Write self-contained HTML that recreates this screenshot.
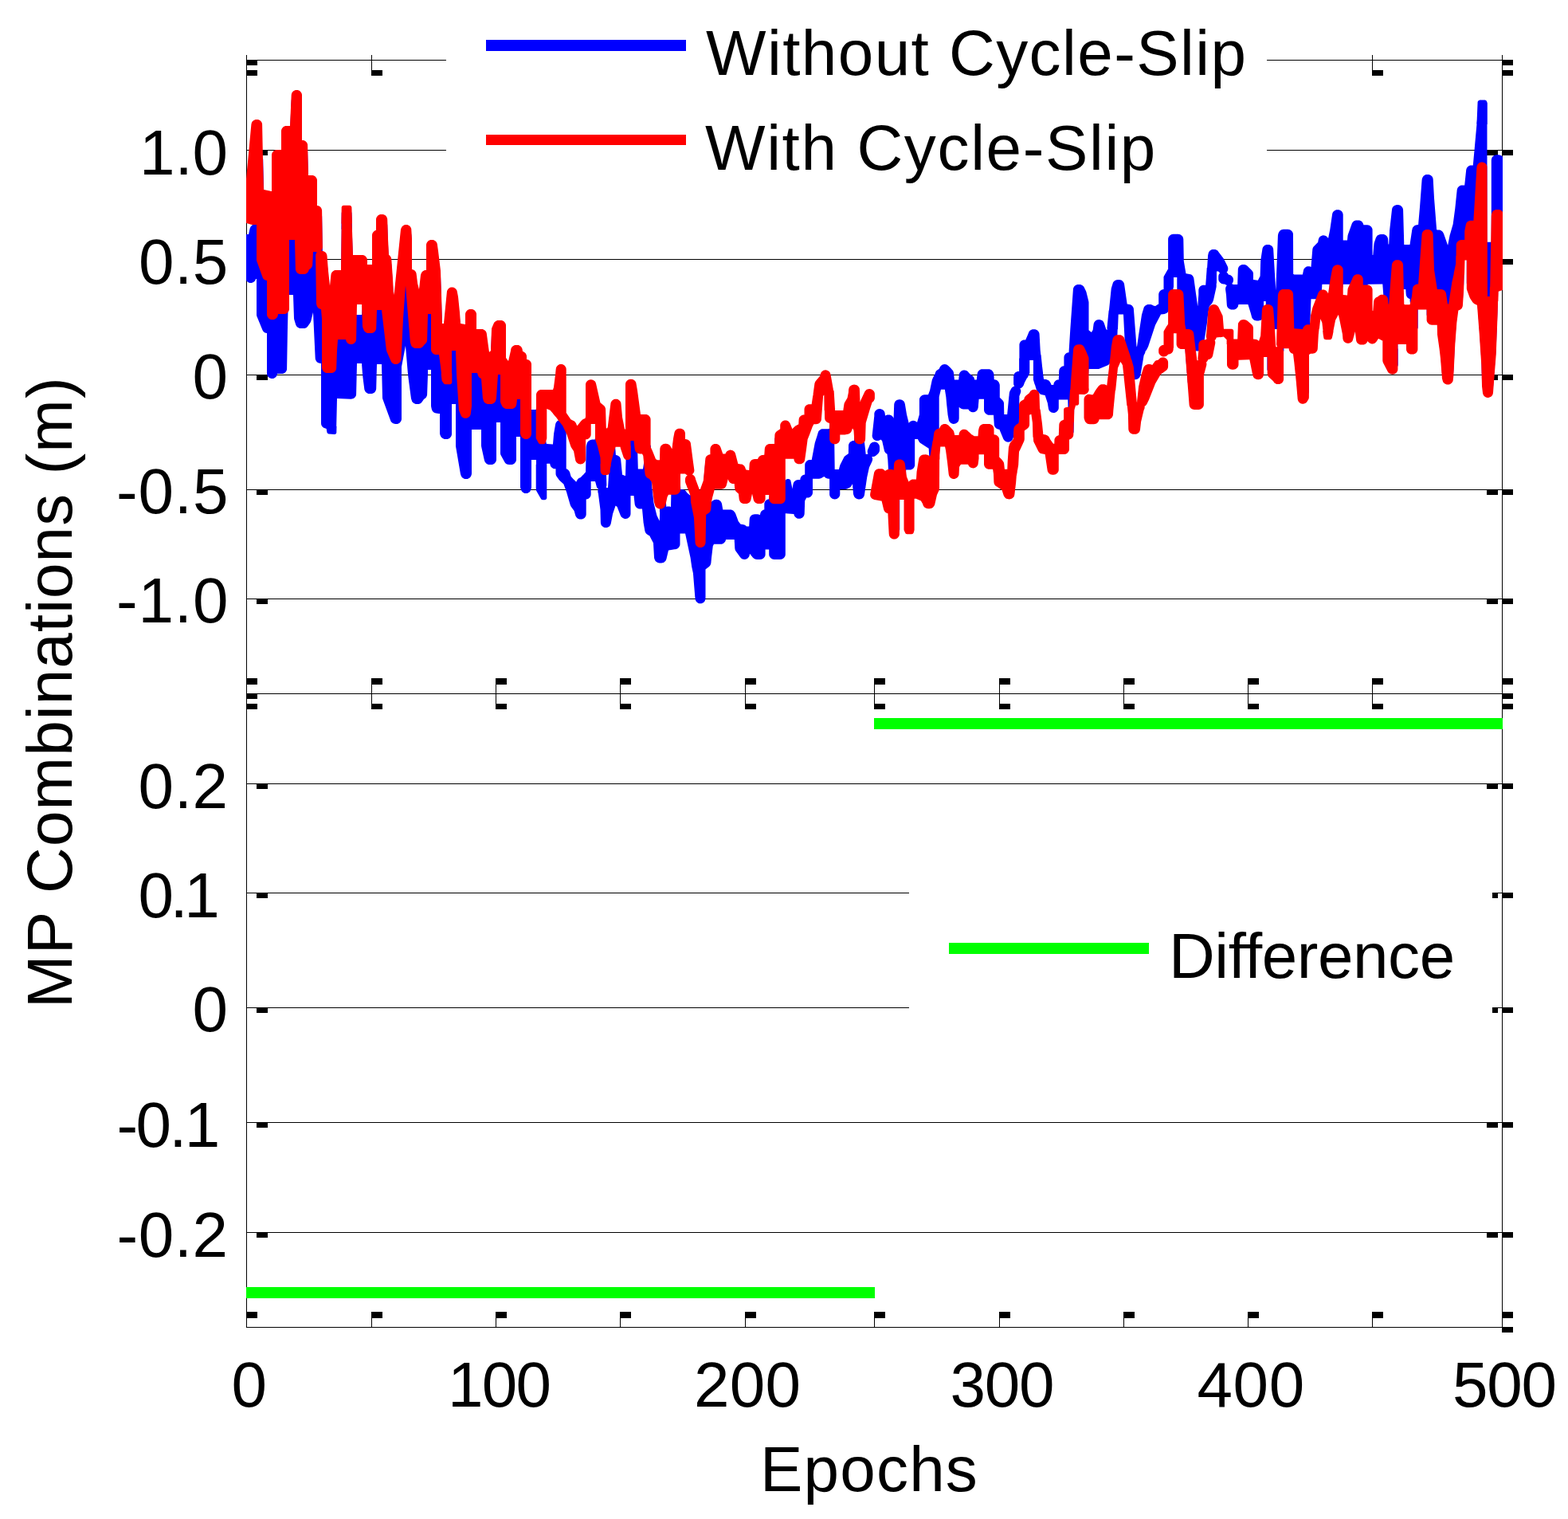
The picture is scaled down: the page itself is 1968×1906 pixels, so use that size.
<!DOCTYPE html>
<html><head><meta charset="utf-8"><title>MP Combinations</title>
<style>html,body{margin:0;padding:0;background:#fff;overflow:hidden}svg{display:block}</style>
</head><body>
<svg xmlns="http://www.w3.org/2000/svg" width="1968" height="1906" viewBox="0 0 1968 1906" shape-rendering="crispEdges">
<rect x="0" y="0" width="1968" height="1906" fill="#fff"/>
<g><rect x="309" y="188" width="1577" height="1" fill="#000"/>
<rect x="309" y="325" width="1577" height="1" fill="#000"/>
<rect x="309" y="470" width="1577" height="1" fill="#000"/>
<rect x="309" y="614" width="1577" height="1" fill="#000"/>
<rect x="309" y="751" width="1577" height="1" fill="#000"/>
<rect x="309" y="983" width="1577" height="1" fill="#000"/>
<rect x="309" y="1120" width="1577" height="1" fill="#000"/>
<rect x="309" y="1264" width="1577" height="1" fill="#000"/>
<rect x="309" y="1408" width="1577" height="1" fill="#000"/>
<rect x="309" y="1546" width="1577" height="1" fill="#000"/>
<rect x="309" y="75" width="1577" height="1" fill="#000"/>
<rect x="309" y="870" width="1577" height="1" fill="#000"/>
<rect x="309" y="1665" width="1577" height="1" fill="#000"/>
<rect x="309" y="69" width="1" height="1597" fill="#000"/>
<rect x="1885" y="69" width="1" height="1597" fill="#000"/>
<rect x="309" y="69" width="1" height="26" fill="#000"/>
<rect x="309" y="88" width="14" height="7" fill="#000"/>
<rect x="309" y="851" width="1" height="39" fill="#000"/>
<rect x="309" y="851" width="14" height="8" fill="#000"/>
<rect x="309" y="883" width="14" height="7" fill="#000"/>
<rect x="309" y="1646" width="1" height="19" fill="#000"/>
<rect x="309" y="1646" width="14" height="8" fill="#000"/>
<rect x="466" y="69" width="1" height="26" fill="#000"/>
<rect x="466" y="88" width="14" height="7" fill="#000"/>
<rect x="466" y="851" width="1" height="39" fill="#000"/>
<rect x="466" y="851" width="14" height="8" fill="#000"/>
<rect x="466" y="883" width="14" height="7" fill="#000"/>
<rect x="466" y="1646" width="1" height="19" fill="#000"/>
<rect x="466" y="1646" width="14" height="8" fill="#000"/>
<rect x="622" y="69" width="1" height="26" fill="#000"/>
<rect x="622" y="88" width="14" height="7" fill="#000"/>
<rect x="622" y="851" width="1" height="39" fill="#000"/>
<rect x="622" y="851" width="14" height="8" fill="#000"/>
<rect x="622" y="883" width="14" height="7" fill="#000"/>
<rect x="622" y="1646" width="1" height="19" fill="#000"/>
<rect x="622" y="1646" width="14" height="8" fill="#000"/>
<rect x="778" y="69" width="1" height="26" fill="#000"/>
<rect x="778" y="88" width="14" height="7" fill="#000"/>
<rect x="778" y="851" width="1" height="39" fill="#000"/>
<rect x="778" y="851" width="14" height="8" fill="#000"/>
<rect x="778" y="883" width="14" height="7" fill="#000"/>
<rect x="778" y="1646" width="1" height="19" fill="#000"/>
<rect x="778" y="1646" width="14" height="8" fill="#000"/>
<rect x="935" y="69" width="1" height="26" fill="#000"/>
<rect x="935" y="88" width="14" height="7" fill="#000"/>
<rect x="935" y="851" width="1" height="39" fill="#000"/>
<rect x="935" y="851" width="14" height="8" fill="#000"/>
<rect x="935" y="883" width="14" height="7" fill="#000"/>
<rect x="935" y="1646" width="1" height="19" fill="#000"/>
<rect x="935" y="1646" width="14" height="8" fill="#000"/>
<rect x="1097" y="69" width="1" height="26" fill="#000"/>
<rect x="1097" y="88" width="14" height="7" fill="#000"/>
<rect x="1097" y="851" width="1" height="39" fill="#000"/>
<rect x="1097" y="851" width="14" height="8" fill="#000"/>
<rect x="1097" y="883" width="14" height="7" fill="#000"/>
<rect x="1097" y="1646" width="1" height="19" fill="#000"/>
<rect x="1097" y="1646" width="14" height="8" fill="#000"/>
<rect x="1254" y="69" width="1" height="26" fill="#000"/>
<rect x="1254" y="88" width="14" height="7" fill="#000"/>
<rect x="1254" y="851" width="1" height="39" fill="#000"/>
<rect x="1254" y="851" width="14" height="8" fill="#000"/>
<rect x="1254" y="883" width="14" height="7" fill="#000"/>
<rect x="1254" y="1646" width="1" height="19" fill="#000"/>
<rect x="1254" y="1646" width="14" height="8" fill="#000"/>
<rect x="1410" y="69" width="1" height="26" fill="#000"/>
<rect x="1410" y="88" width="14" height="7" fill="#000"/>
<rect x="1410" y="851" width="1" height="39" fill="#000"/>
<rect x="1410" y="851" width="14" height="8" fill="#000"/>
<rect x="1410" y="883" width="14" height="7" fill="#000"/>
<rect x="1410" y="1646" width="1" height="19" fill="#000"/>
<rect x="1410" y="1646" width="14" height="8" fill="#000"/>
<rect x="1566" y="69" width="1" height="26" fill="#000"/>
<rect x="1566" y="88" width="14" height="7" fill="#000"/>
<rect x="1566" y="851" width="1" height="39" fill="#000"/>
<rect x="1566" y="851" width="14" height="8" fill="#000"/>
<rect x="1566" y="883" width="14" height="7" fill="#000"/>
<rect x="1566" y="1646" width="1" height="19" fill="#000"/>
<rect x="1566" y="1646" width="14" height="8" fill="#000"/>
<rect x="1722" y="69" width="1" height="26" fill="#000"/>
<rect x="1722" y="88" width="14" height="7" fill="#000"/>
<rect x="1722" y="851" width="1" height="39" fill="#000"/>
<rect x="1722" y="851" width="14" height="8" fill="#000"/>
<rect x="1722" y="883" width="14" height="7" fill="#000"/>
<rect x="1722" y="1646" width="1" height="19" fill="#000"/>
<rect x="1722" y="1646" width="14" height="8" fill="#000"/>
<rect x="1885" y="69" width="1" height="26" fill="#000"/>
<rect x="1885" y="88" width="14" height="7" fill="#000"/>
<rect x="1885" y="851" width="1" height="39" fill="#000"/>
<rect x="1885" y="851" width="14" height="8" fill="#000"/>
<rect x="1885" y="883" width="14" height="7" fill="#000"/>
<rect x="1885" y="1646" width="1" height="19" fill="#000"/>
<rect x="1885" y="1646" width="14" height="8" fill="#000"/>
<rect x="309" y="75" width="14" height="7" fill="#000"/>
<rect x="309" y="870" width="14" height="7" fill="#000"/>
<rect x="1885" y="75" width="14" height="7" fill="#000"/>
<rect x="1885" y="870" width="14" height="7" fill="#000"/>
<rect x="1885" y="1665" width="14" height="7" fill="#000"/>
<rect x="322" y="188" width="14" height="7" fill="#000"/>
<rect x="1866" y="188" width="14" height="7" fill="#000"/>
<rect x="1885" y="188" width="14" height="7" fill="#000"/>
<rect x="1858" y="188" width="27" height="1" fill="#000"/>
<rect x="322" y="325" width="14" height="7" fill="#000"/>
<rect x="1866" y="325" width="14" height="7" fill="#000"/>
<rect x="1885" y="325" width="14" height="7" fill="#000"/>
<rect x="1858" y="325" width="27" height="1" fill="#000"/>
<rect x="322" y="470" width="14" height="7" fill="#000"/>
<rect x="1866" y="470" width="14" height="7" fill="#000"/>
<rect x="1885" y="470" width="14" height="7" fill="#000"/>
<rect x="1858" y="470" width="27" height="1" fill="#000"/>
<rect x="322" y="614" width="14" height="7" fill="#000"/>
<rect x="1866" y="614" width="14" height="7" fill="#000"/>
<rect x="1885" y="614" width="14" height="7" fill="#000"/>
<rect x="1858" y="614" width="27" height="1" fill="#000"/>
<rect x="322" y="751" width="14" height="7" fill="#000"/>
<rect x="1866" y="751" width="14" height="7" fill="#000"/>
<rect x="1885" y="751" width="14" height="7" fill="#000"/>
<rect x="1858" y="751" width="27" height="1" fill="#000"/>
<rect x="322" y="983" width="14" height="7" fill="#000"/>
<rect x="1866" y="983" width="14" height="7" fill="#000"/>
<rect x="1885" y="983" width="14" height="7" fill="#000"/>
<rect x="1858" y="983" width="27" height="1" fill="#000"/>
<rect x="322" y="1120" width="14" height="7" fill="#000"/>
<rect x="1866" y="1120" width="14" height="7" fill="#000"/>
<rect x="1885" y="1120" width="14" height="7" fill="#000"/>
<rect x="1858" y="1120" width="27" height="1" fill="#000"/>
<rect x="322" y="1264" width="14" height="7" fill="#000"/>
<rect x="1866" y="1264" width="14" height="7" fill="#000"/>
<rect x="1885" y="1264" width="14" height="7" fill="#000"/>
<rect x="1858" y="1264" width="27" height="1" fill="#000"/>
<rect x="322" y="1408" width="14" height="7" fill="#000"/>
<rect x="1866" y="1408" width="14" height="7" fill="#000"/>
<rect x="1885" y="1408" width="14" height="7" fill="#000"/>
<rect x="1858" y="1408" width="27" height="1" fill="#000"/>
<rect x="322" y="1546" width="14" height="7" fill="#000"/>
<rect x="1866" y="1546" width="14" height="7" fill="#000"/>
<rect x="1885" y="1546" width="14" height="7" fill="#000"/>
<rect x="1858" y="1546" width="27" height="1" fill="#000"/></g>
<g shape-rendering="auto">
<clipPath id="cp"><rect x="309" y="75" width="1577" height="796"/></clipPath>
<g clip-path="url(#cp)">
<path d="M330.1,199.6 329.9,199.1 329.9,199.1 329.9,199.0 329.7,198.6 329.6,198.6 329.6,198.5 329.3,198.2 329.3,198.1 329.2,198.1 328.8,197.8 328.8,197.8 328.8,197.8 328.3,197.6 328.3,197.6 328.3,197.6 327.8,197.4 327.8,197.4 327.7,197.4 327.2,197.4 327.2,197.4 327.2,197.4 326.7,197.5 326.6,197.5 326.6,197.5 326.1,197.7 326.1,197.7 326.1,197.7 325.7,198.0 325.6,198.0 325.6,198.0 325.2,198.4 325.2,198.4 325.2,198.4 324.9,198.8 324.9,198.9 324.9,198.9 324.7,199.4 324.7,199.4 324.7,199.4 324.6,199.9 324.6,199.9 319.9,249.1 319.9,249.2 319.9,249.2 319.9,249.2 319.9,249.2 319.9,249.3 319.9,249.3 319.9,249.3 319.9,249.4 319.9,249.4 320.0,249.4 320.0,249.4 320.0,249.4 320.0,249.4 320.1,249.4 320.1,249.5 320.1,249.5 317.0,281.7 317.0,282.0 316.8,282.2 315.3,283.7 314.6,284.6 314.0,285.7 313.6,286.8 312.1,293.7 312.0,294.0 311.7,294.0 306.5,294.0 305.2,294.1 304.0,294.5 302.9,295.1 301.9,295.9 301.1,296.9 300.5,298.0 300.1,299.2 300.0,300.5 300.0,345.5 300.1,346.8 300.5,348.0 301.1,349.1 301.9,350.1 302.9,350.9 304.0,351.5 305.2,351.9 306.5,352.0 308.7,352.0 309.0,352.0 309.2,352.2 310.1,353.1 311.1,353.9 312.1,354.5 313.3,354.9 314.5,355.0 315.8,354.9 317.0,354.6 318.1,354.1 319.1,353.3 319.9,352.4 320.5,351.4 321.0,350.2 321.0,350.0 321.3,350.0 321.7,350.0 322.0,350.0 322.0,350.3 322.0,394.7 322.1,396.0 322.5,397.2 329.4,414.0 329.9,415.0 330.6,416.0 331.5,416.7 332.5,417.4 333.6,417.8 334.7,418.0 335.0,418.0 335.0,418.3 335.0,468.5 335.1,469.8 335.5,471.1 336.1,472.2 337.0,473.2 338.0,474.0 339.1,474.6 340.4,474.9 341.7,475.0 343.0,474.9 344.2,474.4 345.3,473.8 346.3,472.9 347.1,471.9 347.6,470.7 347.9,469.5 348.0,469.3 348.0,469.0 348.3,469.0 353.6,469.0 354.9,468.9 356.1,468.5 357.2,467.9 358.2,467.1 359.0,466.2 359.6,465.1 360.0,463.9 360.1,462.6 361.0,410.0 362.0,370.3 362.0,370.0 362.3,370.0 367.7,370.0 368.0,370.0 368.0,370.3 369.0,399.2 369.2,400.8 371.2,407.4 371.7,408.5 372.3,409.5 373.1,410.3 374.0,411.0 375.1,411.6 376.3,411.9 377.4,412.0 381.2,412.0 382.5,411.9 383.7,411.5 384.8,410.9 385.8,410.1 386.6,409.1 389.4,404.9 389.9,404.0 390.3,402.9 392.9,392.3 393.0,392.1 393.0,392.3 395.7,449.6 395.9,450.9 396.4,452.1 397.0,453.2 397.9,454.2 398.9,454.9 400.1,455.5 401.3,455.8 402.7,456.0 403.0,456.0 403.0,456.3 403.0,531.1 403.1,532.3 403.4,533.4 404.0,534.5 404.7,535.5 405.6,536.3 406.6,536.9 407.7,537.3 409.7,537.9 409.7,537.9 409.7,537.9 409.7,538.0 409.7,538.0 409.7,538.0 409.7,538.0 409.7,538.1 409.7,538.1 409.7,538.1 409.7,538.2 409.7,538.2 410.4,542.2 410.4,542.2 410.5,542.6 410.5,542.7 410.5,542.7 410.7,543.1 410.7,543.1 410.8,543.2 411.0,543.5 411.1,543.6 411.1,543.6 411.4,543.9 411.4,543.9 411.5,543.9 411.9,544.2 411.9,544.2 411.9,544.2 412.3,544.4 412.4,544.4 412.4,544.4 412.8,544.5 412.9,544.5 419.3,545.1 419.3,545.1 419.8,545.1 419.8,545.1 419.9,545.1 420.4,545.0 420.4,545.0 420.4,545.0 420.9,544.8 420.9,544.8 421.0,544.8 421.4,544.5 421.4,544.4 421.4,544.4 421.8,544.0 421.8,544.0 421.8,544.0 422.1,543.5 422.1,543.5 422.1,543.5 422.3,543.0 422.3,543.0 422.3,542.9 422.3,542.4 422.3,542.4 422.5,535.1 422.5,535.1 422.5,535.0 422.5,535.0 422.5,535.0 422.5,534.9 422.5,534.9 422.4,534.9 422.4,534.9 422.4,534.8 422.4,534.8 422.3,534.8 422.3,534.8 422.3,534.8 422.3,534.8 422.2,534.8 422.2,534.8 423.0,500.3 423.0,500.0 423.3,500.0 440.4,500.7 441.7,500.6 442.9,500.3 444.1,499.8 445.1,499.0 445.9,498.0 446.6,496.9 447.0,495.7 447.1,494.4 448.0,456.3 448.0,456.0 448.3,456.0 453.7,456.0 454.0,456.0 454.0,456.3 455.0,469.8 455.0,470.2 457.3,488.3 457.6,489.6 458.2,490.8 459.0,491.9 460.0,492.8 461.1,493.5 462.4,493.9 463.7,494.0 465.7,494.0 466.9,493.9 468.1,493.5 469.2,492.9 470.2,492.2 471.0,491.2 471.6,490.1 472.0,488.9 472.2,487.7 473.0,457.3 473.0,457.0 473.3,457.0 478.7,457.0 479.0,457.0 479.0,457.3 480.0,498.9 480.1,500.0 480.4,501.0 490.1,527.6 490.6,528.7 491.4,529.7 492.3,530.5 493.3,531.2 493.6,531.3 495.0,531.8 496.5,532.0 497.5,532.0 498.8,531.9 500.0,531.5 501.1,530.9 502.1,530.1 502.9,529.1 503.5,528.0 503.9,526.8 504.0,525.5 504.0,460.3 504.1,459.7 508.9,434.3 509.0,434.1 509.0,434.3 512.0,469.8 512.0,470.2 515.9,499.5 516.1,500.5 516.7,502.3 517.1,503.4 517.7,504.4 518.5,505.3 519.5,506.0 520.6,506.6 521.7,506.9 522.9,507.0 524.5,507.0 525.8,506.9 527.0,506.5 528.1,505.9 529.1,505.1 529.9,504.1 531.8,501.2 532.0,501.0 532.2,500.8 533.5,499.9 534.4,499.1 535.1,498.2 535.6,497.1 536.0,496.0 536.1,494.9 537.0,470.1 537.0,469.9 537.0,464.3 537.0,464.0 537.3,464.0 540.7,464.0 541.0,464.0 541.0,464.3 541.0,509.2 541.2,510.8 541.9,513.7 542.4,514.9 543.0,516.0 543.9,517.0 545.0,517.7 546.2,518.3 547.4,518.6 550.6,518.9 551.4,519.0 551.7,519.0 552.0,519.0 552.0,519.3 552.0,543.5 552.2,545.0 552.7,546.4 553.2,547.4 553.8,548.4 554.6,549.3 555.6,550.0 556.7,550.6 557.8,550.9 559.0,551.0 560.5,551.0 561.8,550.9 563.0,550.5 564.1,549.9 565.1,549.1 565.9,548.1 566.5,547.0 566.9,545.8 567.0,544.5 567.0,507.3 567.0,507.0 567.3,507.0 571.7,507.0 572.0,507.0 572.0,507.3 572.0,559.4 572.1,560.5 577.9,594.5 578.2,595.5 578.5,596.6 579.1,597.8 579.9,598.9 580.9,599.8 582.1,600.4 583.3,600.9 584.7,601.0 585.3,601.0 586.7,600.9 587.9,600.4 589.1,599.8 590.1,598.9 590.9,597.8 591.5,596.6 591.7,596.0 591.9,595.0 592.0,593.9 592.0,539.3 592.0,539.0 592.3,539.0 603.7,539.0 604.0,539.0 604.0,539.3 604.0,559.3 604.2,560.7 607.9,577.5 608.2,578.5 608.4,578.9 609.0,580.1 609.8,581.1 610.8,581.9 611.9,582.5 613.1,582.9 614.4,583.0 616.5,583.0 617.8,582.9 619.0,582.5 620.1,581.9 621.1,581.1 621.9,580.1 622.5,579.0 622.9,577.8 623.0,576.5 623.0,530.3 623.0,530.0 623.3,530.0 627.7,530.0 628.0,530.0 628.0,530.3 628.0,568.4 628.1,569.4 628.3,570.5 628.8,571.4 633.2,579.6 634.0,580.7 635.0,581.7 636.2,582.4 637.5,582.8 638.9,583.0 641.5,583.0 642.8,582.9 644.0,582.5 645.1,581.9 646.1,581.1 646.9,580.1 647.5,579.0 647.9,577.8 648.0,576.5 648.0,548.3 648.0,548.0 648.3,548.0 652.7,548.0 653.0,548.0 653.0,548.3 653.0,610.8 653.1,612.0 653.4,613.1 654.1,614.9 654.6,616.0 655.4,617.0 656.3,617.8 657.4,618.5 658.6,618.9 659.9,619.1 661.2,619.0 662.4,618.7 663.5,618.1 664.5,617.4 665.4,616.4 666.0,615.3 666.5,614.1 666.8,612.8 667.0,611.2 667.0,577.3 667.0,577.0 667.3,577.0 672.7,577.0 673.0,577.0 673.0,577.3 673.0,582.7 673.0,582.7 673.0,582.7 672.9,582.7 672.9,582.7 672.9,582.7 672.9,582.7 672.8,582.8 672.8,582.8 672.8,582.8 672.8,582.8 672.8,582.8 672.7,582.9 672.7,582.9 672.7,582.9 672.7,582.9 672.7,583.0 672.7,583.0 672.7,614.3 672.7,614.4 672.7,614.8 672.7,614.8 672.7,614.8 672.9,615.3 672.9,615.3 672.9,615.3 673.1,615.7 673.1,615.7 679.0,625.9 679.0,625.9 679.3,626.4 679.4,626.4 679.4,626.4 679.8,626.8 679.8,626.8 679.8,626.8 680.3,627.0 680.3,627.1 680.3,627.1 680.8,627.2 680.9,627.2 680.9,627.2 681.4,627.3 681.4,627.3 683.5,627.3 683.5,627.3 684.0,627.3 684.0,627.2 684.1,627.2 684.5,627.1 684.6,627.1 684.6,627.1 685.0,626.8 685.1,626.8 685.1,626.8 685.5,626.5 685.5,626.5 685.5,626.5 685.8,626.1 685.8,626.1 685.8,626.0 686.1,625.6 686.1,625.6 686.1,625.5 686.2,625.1 686.2,625.0 686.3,625.0 686.3,624.5 686.3,624.5 686.3,583.3 686.3,583.3 686.3,583.3 686.3,583.2 686.3,583.2 686.3,583.2 686.2,583.2 686.2,583.1 686.2,583.1 686.2,583.1 686.2,583.1 686.1,583.1 686.1,583.0 686.1,583.0 686.1,583.0 686.0,583.0 686.0,583.0 686.1,582.7 686.4,582.1 686.5,581.8 686.8,581.8 690.0,581.8 690.3,581.8 690.3,582.4 690.6,583.6 691.0,584.7 691.6,585.7 692.4,586.6 693.4,587.3 694.5,587.9 695.6,588.2 696.8,588.3 697.2,588.3 697.5,588.3 697.5,588.6 697.5,594.2 697.6,595.5 698.0,596.7 698.7,597.9 701.6,602.1 702.7,603.3 707.2,607.2 707.4,607.4 707.5,607.7 711.4,618.5 711.4,618.7 715.7,633.4 716.1,634.5 716.6,635.4 720.4,640.8 720.6,641.0 720.7,641.3 722.2,646.7 723.0,648.4 723.1,648.5 723.9,649.6 724.9,650.4 726.0,651.1 727.3,651.5 728.6,651.6 729.2,651.6 730.5,651.5 731.7,651.1 732.8,650.5 733.8,649.7 734.6,648.7 735.2,647.6 735.6,646.4 735.7,645.1 735.7,626.8 735.7,626.5 735.8,626.5 737.0,626.3 738.1,625.9 739.1,625.2 740.0,624.4 740.7,623.5 741.3,622.4 741.6,621.2 741.7,620.0 741.7,604.4 741.7,604.1 742.0,604.1 746.7,604.1 747.0,604.1 747.1,604.4 747.6,605.9 747.6,606.1 748.6,610.0 749.0,611.2 749.6,612.3 750.5,613.2 751.0,613.7 750.7,614.4 750.4,615.6 750.3,616.8 750.5,618.0 751.0,619.8 751.0,620.2 753.5,639.8 753.5,640.2 753.9,655.8 754.1,657.1 754.4,658.3 755.1,659.4 755.9,660.3 756.9,661.1 758.0,661.7 759.2,662.0 760.5,662.1 761.8,662.0 763.0,661.6 764.1,661.0 765.1,660.2 765.8,659.2 766.4,658.0 766.8,656.8 769.0,645.2 769.1,644.8 772.5,634.8 772.6,634.5 772.8,634.7 774.4,635.8 774.6,636.0 774.7,636.3 778.4,645.7 778.6,646.3 779.2,647.4 779.8,648.4 780.7,649.3 781.7,650.1 782.8,650.6 784.0,650.9 785.3,651.0 786.5,650.8 787.7,650.4 788.7,649.8 789.7,649.0 790.5,648.0 791.0,646.9 791.4,645.7 791.5,644.5 791.5,622.3 791.5,622.0 791.8,622.0 795.2,622.0 795.5,622.0 795.5,622.3 796.7,632.7 797.0,634.1 797.6,635.3 798.4,636.4 799.4,637.3 800.6,637.9 801.9,638.4 803.2,638.5 805.7,638.5 806.0,638.5 806.0,638.8 807.5,654.7 807.5,655.3 809.4,666.3 809.8,667.4 810.3,668.5 811.0,669.5 811.9,670.3 812.9,671.0 814.7,671.9 815.0,672.0 815.2,672.3 819.8,681.0 820.0,681.3 820.0,681.7 821.0,699.2 821.2,700.8 821.6,701.8 822.1,703.1 822.9,704.2 823.9,705.1 825.1,705.8 826.4,706.3 827.8,706.4 830.1,706.4 831.3,706.3 832.5,705.9 833.6,705.4 834.5,704.6 835.4,703.7 836.0,702.6 836.4,701.4 838.9,690.9 839.0,690.6 839.3,690.5 846.7,689.2 847.6,689.2 848.7,689.0 849.9,688.5 850.9,687.9 851.8,687.1 852.5,686.1 853.1,685.1 853.4,683.9 853.5,682.7 853.5,669.8 853.5,669.5 853.8,669.5 859.7,669.5 860.0,669.5 860.1,669.8 866.6,699.9 866.6,700.1 868.0,709.8 868.0,710.2 870.0,719.8 870.0,720.2 872.5,751.3 872.7,752.5 873.2,753.6 873.8,754.7 874.6,755.6 875.6,756.3 876.6,756.9 877.8,757.2 879.0,757.3 879.0,757.3 880.3,757.2 881.5,756.8 882.6,756.2 883.6,755.4 884.4,754.4 885.0,753.3 885.4,752.1 885.5,750.8 885.5,714.8 885.5,714.5 885.7,714.3 890.0,710.9 890.9,710.0 891.6,708.9 892.1,707.7 892.4,706.5 893.0,700.0 893.0,700.0 894.7,685.8 894.7,685.5 894.8,685.3 895.9,683.1 896.0,682.8 896.3,682.8 904.6,682.8 905.9,682.7 907.2,682.2 908.4,681.5 909.4,680.6 910.2,679.5 910.8,678.3 911.0,676.9 911.0,676.9 911.3,676.9 921.4,676.9 921.7,676.9 921.7,677.2 922.3,688.1 922.5,689.3 922.9,690.5 923.5,691.6 929.1,699.2 929.9,700.1 930.8,700.9 931.9,701.4 933.1,701.8 934.3,701.9 934.3,701.9 935.7,701.8 936.9,701.4 938.1,700.7 939.1,699.8 939.9,698.8 940.5,697.6 940.8,696.3 941.0,695.0 941.0,694.8 941.2,694.9 944.8,699.5 945.7,700.3 946.6,701.0 947.6,701.5 948.8,701.8 949.9,701.9 954.1,701.9 955.4,701.8 956.6,701.4 957.7,700.8 958.7,700.0 959.5,699.0 960.1,697.9 960.5,696.7 960.6,695.4 960.6,689.7 960.6,689.4 960.9,689.4 964.9,689.4 965.2,689.4 965.2,689.7 965.2,695.4 965.3,696.7 965.7,697.9 966.3,699.0 967.1,700.0 968.1,700.8 969.2,701.4 970.4,701.8 971.7,701.9 979.3,701.9 980.6,701.8 981.8,701.4 982.9,700.8 983.9,700.0 984.7,699.0 985.3,697.9 985.7,696.7 985.8,695.4 985.8,644.5 985.8,644.2 986.1,644.2 996.1,644.9 996.4,644.9 996.6,646.1 997.0,647.2 997.7,648.2 998.5,649.1 999.4,649.8 1000.5,650.4 1001.7,650.7 1002.8,650.8 1003.2,650.8 1004.4,650.7 1005.6,650.3 1006.7,649.7 1007.7,649.0 1008.5,648.0 1009.1,646.9 1009.5,645.7 1009.7,644.5 1010.2,628.8 1010.2,628.4 1010.4,628.1 1012.1,624.8 1012.2,624.5 1012.5,624.5 1013.5,624.5 1014.8,624.4 1016.0,624.0 1017.1,623.4 1018.1,622.6 1018.9,621.6 1019.5,620.5 1019.9,619.3 1020.0,618.0 1020.0,601.1 1020.0,600.8 1020.0,600.7 1020.3,600.7 1027.7,600.7 1029.3,600.5 1030.7,600.0 1034.3,598.1 1034.6,598.0 1035.0,598.5 1036.0,599.4 1037.2,600.1 1038.5,600.6 1039.9,600.7 1040.8,600.7 1041.1,600.7 1041.1,601.0 1041.1,619.9 1041.2,621.2 1041.6,622.4 1042.2,623.5 1043.0,624.5 1044.0,625.3 1045.1,625.9 1046.3,626.3 1047.6,626.4 1047.8,626.4 1049.1,626.3 1050.3,625.9 1051.4,625.3 1052.4,624.5 1053.2,623.5 1053.8,622.4 1054.2,621.2 1054.3,619.9 1054.3,614.2 1054.3,613.9 1054.6,613.9 1060.7,613.9 1062.2,613.7 1063.6,613.2 1065.8,612.1 1066.9,611.5 1067.8,610.7 1068.5,609.7 1069.8,607.6 1070.0,607.4 1070.0,607.6 1070.9,619.3 1071.2,620.7 1071.6,621.8 1072.1,623.1 1072.9,624.2 1073.9,625.1 1075.1,625.8 1076.4,626.3 1077.8,626.4 1078.6,626.4 1079.9,626.3 1081.2,625.9 1082.3,625.2 1083.3,624.4 1084.1,623.3 1084.7,622.1 1085.0,620.8 1088.2,599.1 1088.2,598.9 1090.9,586.7 1091.2,586.1 1094.5,578.9 1094.9,577.8 1095.1,576.6 1095.1,575.3 1094.8,574.2 1094.3,573.0 1094.3,573.0 1094.9,573.1 1096.2,573.0 1097.4,572.7 1098.5,572.2 1099.5,571.5 1101.8,569.4 1102.7,568.4 1103.4,567.2 1103.9,565.9 1104.0,564.6 1104.0,561.0 1103.9,559.7 1103.5,558.5 1102.9,557.4 1102.1,556.4 1101.1,555.6 1099.9,555.0 1098.7,554.6 1097.4,554.5 1096.1,554.7 1094.9,555.1 1093.8,555.7 1092.8,556.5 1092.0,557.5 1091.4,558.7 1090.7,560.5 1090.7,560.7 1089.2,564.1 1088.8,565.3 1088.7,566.5 1088.8,567.8 1089.1,569.0 1089.5,569.8 1089.4,569.7 1088.2,569.7 1086.9,569.9 1086.7,570.0 1086.7,569.7 1084.9,554.3 1085.0,554.3 1085.0,554.3 1085.0,554.3 1085.1,554.3 1085.1,554.3 1085.1,554.3 1085.1,554.2 1085.2,554.2 1085.2,554.2 1085.2,554.2 1085.2,554.1 1085.2,554.1 1085.2,554.1 1085.2,554.1 1085.2,554.0 1085.2,554.0 1080.7,513.2 1080.7,513.2 1080.5,512.6 1080.5,512.6 1080.5,512.6 1080.3,512.1 1080.3,512.1 1080.3,512.1 1080.0,511.6 1080.0,511.6 1079.9,511.6 1079.9,511.5 1079.8,511.4 1079.7,511.4 1079.4,511.1 1079.4,511.1 1079.3,511.0 1078.9,510.8 1078.9,510.8 1078.9,510.8 1078.4,510.6 1078.4,510.6 1078.4,510.6 1077.9,510.5 1077.9,510.5 1077.8,510.5 1077.3,510.5 1077.3,510.5 1077.3,510.5 1076.8,510.7 1076.8,510.7 1076.8,510.7 1076.3,510.9 1076.3,510.9 1076.3,510.9 1075.9,511.2 1075.8,511.2 1075.8,511.2 1075.5,511.6 1075.5,511.6 1075.5,511.6 1075.2,512.0 1075.2,512.1 1075.2,512.1 1075.0,512.5 1075.0,512.6 1075.0,512.6 1074.9,513.1 1074.9,513.1 1071.9,552.8 1071.9,552.9 1071.9,552.9 1071.9,552.9 1071.9,553.0 1071.7,552.9 1070.4,553.0 1069.1,553.4 1068.0,553.9 1067.0,554.8 1066.1,555.7 1065.5,556.9 1065.1,558.1 1065.0,559.4 1064.9,568.8 1064.9,569.1 1064.7,569.3 1060.9,572.1 1059.7,573.1 1058.9,574.4 1054.6,583.0 1054.1,584.2 1053.0,588.6 1052.9,588.9 1052.6,588.9 1048.0,589.0 1047.7,589.0 1047.7,588.7 1047.1,544.9 1047.1,544.9 1047.1,544.9 1047.2,544.9 1047.2,544.9 1047.2,544.9 1047.2,544.9 1047.3,544.8 1047.3,544.8 1047.3,544.8 1047.3,544.8 1047.3,544.7 1047.3,544.7 1047.4,544.7 1047.4,544.7 1047.4,544.6 1047.4,544.6 1047.1,524.6 1047.1,524.6 1047.0,524.1 1047.0,524.1 1047.0,524.1 1046.9,523.6 1046.9,523.6 1046.8,523.5 1046.6,523.1 1046.6,523.1 1046.6,523.1 1046.3,522.7 1046.3,522.7 1046.2,522.7 1045.9,522.4 1045.8,522.3 1045.8,522.3 1045.4,522.1 1045.4,522.1 1045.3,522.1 1044.9,521.9 1044.9,521.9 1044.8,521.9 1044.4,521.9 1044.3,521.9 1044.3,521.9 1043.8,521.9 1043.8,521.9 1043.8,521.9 1043.3,522.0 1043.3,522.0 1043.2,522.1 1042.8,522.3 1042.8,522.3 1042.8,522.3 1042.4,522.6 1042.4,522.6 1042.3,522.6 1042.0,523.0 1042.0,523.0 1042.0,523.0 1041.7,523.5 1041.7,523.5 1041.7,523.5 1041.6,524.0 1041.6,524.0 1041.6,524.0 1041.5,524.5 1041.5,524.5 1040.8,537.9 1040.6,537.9 1040.5,537.9 1040.5,537.9 1040.5,537.9 1040.4,537.9 1040.4,537.9 1040.4,538.0 1040.4,538.0 1040.4,538.0 1040.3,538.0 1040.3,538.0 1040.3,538.1 1040.3,538.1 1040.3,538.1 1040.3,538.1 1040.3,538.2 1040.3,538.2 1032.9,538.2 1031.7,538.3 1030.6,538.6 1029.5,539.2 1028.5,539.9 1027.7,540.8 1027.1,541.8 1026.7,543.0 1026.0,545.4 1026.0,545.4 1022.8,555.6 1022.6,556.4 1018.8,576.7 1018.7,577.0 1018.4,577.0 1016.7,577.0 1015.4,577.1 1014.2,577.5 1013.1,578.1 1012.1,578.9 1011.3,579.9 1010.7,581.0 1010.3,582.2 1010.2,583.5 1010.2,595.1 1010.2,595.4 1010.2,595.5 1010.2,595.5 1008.8,595.7 1007.6,596.3 1006.5,597.1 1005.6,598.1 1004.9,599.3 1004.4,600.6 1004.4,601.5 1004.3,601.5 1004.3,602.1 1004.0,602.1 1001.9,602.1 1000.6,602.2 999.4,602.6 998.2,603.2 997.2,604.1 996.4,605.1 995.8,606.3 995.5,607.5 994.5,613.1 992.4,603.3 992.4,603.3 992.3,602.8 992.3,602.8 992.2,602.8 992.0,602.3 992.0,602.3 992.0,602.3 991.7,601.9 991.6,601.9 991.6,601.9 991.2,601.6 991.2,601.6 991.2,601.5 990.8,601.3 990.7,601.3 990.7,601.3 990.3,601.2 990.2,601.2 990.2,601.1 989.7,601.1 989.7,601.1 988.4,601.1 988.4,601.1 987.9,601.1 987.9,601.2 987.9,601.2 987.4,601.3 987.4,601.3 987.4,601.3 986.9,601.5 986.9,601.6 986.9,601.6 986.5,601.9 986.5,601.9 986.5,601.9 986.2,602.3 986.1,602.3 986.1,602.3 985.9,602.8 985.9,602.8 985.9,602.8 985.7,603.3 985.7,603.3 985.7,603.3 985.6,603.8 985.6,603.8 985.6,606.5 983.7,576.3 983.7,576.3 983.7,576.3 983.7,576.3 983.8,576.3 983.8,576.3 983.8,576.2 983.9,576.2 983.9,576.2 983.9,576.2 983.9,576.2 983.9,576.1 983.9,576.1 984.0,576.1 984.0,576.1 984.0,576.0 984.0,576.0 984.0,576.0 982.2,547.9 982.2,547.9 982.1,547.4 982.1,547.4 982.1,547.3 982.0,546.9 981.9,546.9 981.9,546.8 981.7,546.4 981.7,546.4 981.7,546.4 981.3,546.0 981.3,546.0 981.3,546.0 980.9,545.7 980.9,545.7 980.9,545.7 980.4,545.5 980.4,545.5 980.4,545.4 979.9,545.3 979.9,545.3 979.9,545.3 979.4,545.3 979.3,545.3 979.3,545.3 978.8,545.3 978.8,545.3 978.8,545.4 978.3,545.5 978.3,545.5 978.3,545.5 977.9,545.8 977.8,545.8 973.4,548.8 973.3,548.9 973.0,549.2 973.0,549.2 972.9,549.2 972.7,549.6 972.6,549.6 972.6,549.6 972.4,550.0 972.4,550.0 972.4,550.1 972.2,550.5 972.2,550.5 972.2,550.6 972.2,551.0 972.2,551.0 971.7,563.9 971.7,564.0 970.4,575.7 970.4,575.7 970.4,575.7 970.4,575.7 970.4,575.8 970.4,575.8 970.5,575.8 970.5,575.8 970.5,575.9 970.5,575.9 970.5,575.9 970.6,575.9 970.6,575.9 970.6,576.0 970.6,576.0 970.7,576.0 970.7,576.0 970.7,576.0 965.2,625.9 965.2,626.2 965.1,626.2 963.8,626.5 962.6,627.0 961.5,627.8 960.5,628.8 959.9,630.0 959.4,631.3 959.3,632.6 959.3,639.1 959.3,639.4 958.7,639.6 958.7,639.6 957.5,640.0 956.5,640.7 955.6,641.6 954.8,642.7 954.4,643.8 954.1,645.1 954.0,645.7 954.0,646.0 953.7,645.9 953.0,645.7 952.0,645.4 950.9,645.3 947.2,645.3 946.0,645.4 944.8,645.8 943.7,646.3 942.7,647.1 941.9,648.0 941.3,649.1 940.9,650.2 940.7,651.4 940.2,660.1 940.2,660.4 939.9,660.4 937.2,660.4 936.9,660.4 936.7,660.2 936.6,660.1 935.5,659.2 934.2,658.6 932.8,658.2 929.9,657.8 929.6,657.8 929.4,657.6 927.2,654.8 927.0,654.6 926.9,654.4 923.3,644.8 922.5,643.3 921.7,642.2 920.9,641.2 920.0,640.5 918.8,639.9 917.6,639.5 916.4,639.4 907.6,639.4 907.3,639.4 907.2,639.1 906.0,632.1 905.6,630.9 905.0,629.8 904.2,628.7 903.2,627.9 902.1,627.3 900.9,626.9 899.6,626.8 898.6,626.8 897.3,626.9 896.1,627.3 895.0,627.9 894.0,628.6 893.2,629.6 893.0,629.9 893.0,629.7 892.7,619.8 892.7,619.8 892.8,619.8 892.8,619.8 892.8,619.7 892.9,619.7 892.9,619.7 892.9,619.7 892.9,619.7 892.9,619.7 893.0,619.6 893.0,619.6 893.0,619.6 893.0,619.6 893.0,619.5 893.0,619.5 893.0,619.5 893.0,619.5 892.0,579.6 892.0,579.6 892.0,579.1 892.0,579.1 891.9,579.1 891.8,578.6 891.8,578.6 891.8,578.6 891.5,578.1 891.5,578.1 891.5,578.1 891.2,577.7 891.2,577.7 891.2,577.7 890.8,577.4 890.8,577.4 890.7,577.3 890.3,577.1 890.3,577.1 890.2,577.1 889.8,577.0 889.8,577.0 889.7,576.9 889.3,576.9 889.2,576.9 888.0,576.9 888.0,576.9 887.5,576.9 887.5,577.0 887.4,577.0 887.0,577.1 886.9,577.1 886.9,577.1 886.5,577.4 886.4,577.4 886.4,577.4 886.0,577.7 886.0,577.7 886.0,577.7 885.7,578.1 885.7,578.1 885.7,578.2 885.4,578.6 885.4,578.6 885.4,578.7 885.3,579.1 885.3,579.2 885.2,579.2 885.2,579.7 885.2,579.7 885.2,580.4 885.2,580.5 882.6,609.3 882.6,609.6 879.8,617.4 879.8,617.4 879.8,617.4 879.8,617.5 879.8,617.5 879.8,617.5 879.8,617.5 879.8,617.6 879.8,617.6 879.8,617.6 879.9,617.6 879.9,617.7 879.9,617.7 879.9,617.7 879.9,617.7 880.0,617.7 880.0,617.8 880.0,617.8 878.5,622.2 878.3,621.7 878.3,621.7 873.3,608.1 873.3,607.9 873.2,607.7 873.2,607.6 873.1,607.2 873.1,607.1 873.1,607.1 872.9,606.7 872.9,606.6 872.9,606.6 872.6,606.2 872.6,606.2 872.5,606.2 872.2,605.8 872.2,605.8 872.1,605.8 871.7,605.6 871.7,605.5 871.7,605.5 871.2,605.4 871.2,605.3 871.2,605.3 870.7,605.3 870.7,605.3 870.6,605.3 870.2,605.3 870.1,605.3 870.1,605.3 869.6,605.4 869.6,605.4 869.6,605.4 869.1,605.6 869.1,605.6 869.1,605.6 868.7,605.9 868.7,605.9 868.6,605.9 868.3,606.3 868.3,606.3 868.3,606.3 868.0,606.7 868.0,606.7 868.0,606.8 867.8,607.2 867.8,607.2 867.8,607.3 867.7,607.7 867.7,607.8 866.3,621.8 862.2,618.2 862.0,618.0 861.9,617.7 861.8,617.6 861.2,616.6 860.4,615.8 859.4,615.1 858.4,614.5 857.2,614.2 856.0,614.1 854.3,614.1 854.3,614.1 854.3,614.1 854.3,614.0 854.3,614.0 854.3,614.0 854.3,613.8 850.9,554.3 850.9,554.3 850.8,553.8 850.8,553.8 850.8,553.7 850.6,553.3 850.6,553.3 850.6,553.2 850.3,552.8 850.3,552.8 850.3,552.8 850.0,552.4 850.0,552.4 849.9,552.4 849.5,552.1 849.5,552.1 849.5,552.1 849.1,551.8 849.0,551.8 849.0,551.8 848.5,551.7 848.5,551.7 848.5,551.7 848.0,551.7 848.0,551.7 848.0,551.7 847.5,551.7 847.5,551.7 847.4,551.7 847.0,551.9 846.9,551.9 846.9,551.9 846.5,552.1 846.5,552.2 846.4,552.2 846.1,552.5 846.1,552.5 846.0,552.5 845.7,552.9 845.7,552.9 845.7,552.9 845.5,553.4 845.5,553.4 845.5,553.4 845.3,553.9 845.3,553.9 844.7,556.8 844.7,556.9 844.7,557.1 844.7,557.1 843.2,569.9 843.2,569.9 843.2,570.1 843.2,570.1 842.1,618.0 842.1,618.0 842.1,618.0 842.1,618.0 842.1,618.1 842.1,618.1 842.2,618.1 842.2,618.1 842.2,618.2 842.2,618.2 842.2,618.2 842.3,618.2 842.3,618.2 842.3,618.2 842.3,618.3 842.4,618.3 842.4,618.3 842.4,618.3 842.0,635.7 842.0,636.0 841.7,635.9 840.7,635.6 839.6,635.5 838.4,635.5 837.3,635.6 836.3,635.9 836.3,635.9 836.3,635.9 836.3,635.8 834.6,611.4 834.6,611.3 834.5,610.8 834.5,610.8 834.5,610.8 834.3,610.3 834.3,610.3 834.3,610.3 834.0,609.8 834.0,609.8 834.0,609.8 833.6,609.4 833.6,609.4 833.6,609.4 833.1,609.1 833.1,609.1 833.1,609.1 832.6,608.9 832.6,608.9 832.6,608.9 832.1,608.8 832.0,608.8 832.0,608.8 831.5,608.8 831.5,608.8 831.4,608.8 830.9,608.9 830.9,608.9 830.9,608.9 830.4,609.1 830.4,609.1 830.4,609.2 830.0,609.4 829.9,609.5 829.9,609.5 829.6,609.9 829.6,609.9 829.5,609.9 829.3,610.3 829.3,610.4 829.3,610.4 829.1,610.9 829.1,610.9 829.1,610.9 829.0,611.4 829.0,611.5 827.9,642.1 827.9,642.1 827.9,642.2 827.9,642.2 827.9,642.2 827.9,642.2 828.0,642.3 828.0,642.3 828.0,642.3 828.0,642.3 828.0,642.4 828.1,642.4 828.1,642.4 828.1,642.4 828.1,642.4 828.2,642.4 828.2,642.4 827.8,653.4 827.8,653.6 827.7,653.4 824.6,647.3 824.4,646.7 820.6,631.5 820.5,631.1 818.0,609.1 818.0,608.9 817.5,593.9 817.5,593.9 817.5,593.9 817.5,593.9 817.6,593.9 817.6,593.9 817.6,593.9 817.7,593.9 817.7,593.9 817.7,593.8 817.7,593.8 817.7,593.8 817.7,593.8 817.8,593.7 817.8,593.7 817.8,593.7 817.8,593.7 817.8,593.6 816.9,568.0 816.9,568.0 816.9,560.3 816.9,560.2 816.8,559.7 816.8,559.7 816.8,559.7 816.7,559.2 816.7,559.2 816.7,559.1 816.4,558.7 816.4,558.7 816.4,558.7 816.1,558.3 816.1,558.2 816.0,558.2 815.6,557.9 815.6,557.9 815.6,557.9 815.2,557.7 815.1,557.6 815.1,557.6 814.6,557.5 814.6,557.5 814.6,557.5 814.1,557.5 814.0,557.5 814.0,557.5 813.5,557.5 813.5,557.5 813.4,557.5 813.0,557.7 812.9,557.7 812.9,557.7 812.5,558.0 812.5,558.0 812.4,558.0 812.1,558.3 812.0,558.3 812.0,558.4 811.7,558.8 811.7,558.8 811.7,558.8 811.5,559.3 811.5,559.3 811.5,559.3 811.3,559.8 811.3,559.8 807.0,588.3 807.0,588.4 807.0,588.4 807.0,588.4 807.0,588.5 807.0,588.5 807.0,588.5 801.1,588.5 800.8,588.5 800.8,588.2 799.5,540.4 799.5,540.4 799.6,540.4 799.6,540.4 799.6,540.4 799.6,540.3 799.7,540.3 799.7,540.3 799.7,540.3 799.7,540.3 799.7,540.2 799.8,540.2 799.8,540.2 799.8,540.2 799.8,540.1 799.8,540.1 799.8,540.1 798.3,485.9 798.3,485.9 798.3,485.5 798.3,485.4 798.3,485.4 798.1,485.0 798.1,485.0 798.1,484.9 797.9,484.5 797.9,484.5 797.9,484.5 797.6,484.1 797.6,484.1 797.0,483.4 796.9,483.4 796.6,483.0 796.5,483.0 796.5,483.0 796.1,482.8 796.0,482.7 796.0,482.7 795.5,482.6 795.5,482.6 795.4,482.6 794.9,482.5 794.9,482.5 790.4,482.5 790.4,482.5 789.9,482.5 789.9,482.6 789.9,482.6 789.4,482.7 789.4,482.7 789.4,482.7 788.9,482.9 788.9,483.0 788.9,483.0 788.5,483.3 788.5,483.3 788.5,483.3 788.2,483.7 788.1,483.7 788.1,483.7 787.9,484.2 787.9,484.2 787.9,484.2 787.7,484.7 787.7,484.7 787.7,484.7 787.6,485.2 787.6,485.2 786.2,540.1 786.2,540.1 786.2,540.1 786.2,540.2 786.2,540.2 786.2,540.2 786.2,540.3 786.3,540.3 786.3,540.3 786.3,540.3 786.3,540.3 786.3,540.4 786.4,540.4 786.4,540.4 786.4,540.4 786.5,540.4 786.5,540.4 785.0,596.7 785.0,597.0 784.7,596.9 781.3,595.8 781.0,595.7 781.0,595.4 779.2,576.9 778.9,575.6 778.4,574.4 777.7,573.3 776.7,572.4 775.6,571.7 774.4,571.2 773.1,571.0 772.9,571.0 772.9,571.0 772.9,571.0 772.9,570.9 772.9,570.8 770.9,544.0 770.9,544.0 770.8,543.5 770.8,543.4 770.8,543.4 770.6,542.9 770.6,542.9 770.6,542.9 770.3,542.5 770.3,542.4 770.3,542.4 769.9,542.1 769.9,542.0 769.9,542.0 769.5,541.7 769.5,541.7 769.4,541.7 769.0,541.5 768.9,541.5 768.9,541.5 768.4,541.4 768.4,541.4 768.3,541.4 767.8,541.4 767.8,541.4 767.8,541.4 767.3,541.5 767.3,541.6 767.2,541.6 766.8,541.8 766.7,541.8 766.7,541.8 766.3,542.1 766.3,542.1 766.3,542.1 765.9,542.5 765.9,542.5 765.9,542.6 765.6,543.0 765.6,543.0 765.6,543.1 765.4,543.5 765.4,543.6 765.4,543.6 765.4,544.1 765.3,544.1 764.3,577.1 764.3,577.1 764.3,577.1 764.3,577.2 764.3,577.2 764.3,577.2 764.3,577.2 764.4,577.3 764.4,577.3 764.4,577.3 764.4,577.3 764.5,577.3 764.5,577.4 764.5,577.4 764.5,577.4 764.6,577.4 764.6,577.4 764.6,577.4 764.0,596.0 764.0,596.0 763.0,611.7 763.0,612.0 762.7,612.0 761.8,612.0 761.5,612.0 761.2,611.7 760.9,611.4 760.7,611.3 761.0,610.8 761.3,609.5 761.4,608.3 761.0,595.8 761.0,595.4 757.5,556.2 757.5,556.2 757.5,556.2 757.5,556.2 757.5,556.2 757.6,556.2 757.6,556.2 757.6,556.2 757.6,556.2 757.7,556.1 757.7,556.1 757.7,556.1 757.7,556.1 757.7,556.0 757.7,556.0 757.7,556.0 757.7,555.9 757.7,555.9 755.6,531.7 755.5,531.7 755.5,531.2 755.5,531.2 755.4,531.2 755.3,530.7 755.3,530.7 755.2,530.7 755.0,530.3 755.0,530.3 754.9,530.2 754.6,529.9 754.6,529.9 754.6,529.8 754.2,529.6 754.2,529.6 754.1,529.5 753.7,529.3 753.7,529.3 753.6,529.3 753.2,529.2 753.1,529.2 753.1,529.2 752.6,529.2 752.6,529.2 752.6,529.2 752.1,529.3 752.1,529.3 752.0,529.3 751.6,529.4 751.6,529.5 751.5,529.5 751.1,529.7 751.1,529.7 751.1,529.7 750.7,530.1 750.7,530.1 750.7,530.1 750.4,530.5 750.4,530.5 750.4,530.5 750.2,531.0 750.1,531.0 750.1,531.0 750.0,531.5 750.0,531.5 746.7,551.2 746.7,551.3 746.7,551.3 746.7,551.3 746.7,551.4 746.7,551.4 746.7,551.4 744.4,551.4 743.3,551.5 742.2,551.8 742.1,551.8 741.4,552.1 740.8,552.2 739.6,552.7 738.6,553.5 737.7,554.4 737.0,555.5 736.6,556.7 735.9,559.2 735.7,560.8 735.1,592.0 735.1,592.3 734.9,592.5 733.1,594.4 732.3,595.5 732.3,595.5 731.4,596.3 729.3,598.6 729.1,598.8 728.8,598.9 727.1,599.8 725.9,600.6 725.0,601.6 724.2,602.7 723.3,604.5 723.2,604.8 723.0,604.6 722.5,604.1 722.5,604.1 720.1,601.6 719.9,601.4 716.8,597.9 716.6,597.6 716.5,597.3 715.1,592.6 714.6,591.5 713.9,590.4 713.0,589.5 712.0,588.8 710.8,588.3 710.7,588.3 710.7,588.0 710.7,540.1 710.7,539.9 710.5,533.3 710.3,532.0 709.9,530.9 709.3,529.8 708.5,528.8 707.5,528.0 706.4,527.5 705.2,527.1 704.0,527.0 703.5,527.0 702.2,527.1 701.0,527.5 699.8,528.1 698.8,529.0 698.0,530.0 697.4,531.2 697.1,532.4 695.0,544.7 695.0,545.3 694.0,557.1 694.0,557.4 693.7,557.4 686.3,557.0 686.0,557.0 685.9,556.7 677.9,519.1 677.6,517.9 676.9,516.8 676.1,515.9 675.2,515.1 674.0,514.5 672.8,514.1 671.6,514.0 667.3,514.0 667.0,514.0 667.0,513.7 667.0,464.5 666.9,463.3 666.6,462.1 666.0,461.0 665.3,460.1 664.4,459.3 663.4,458.6 662.3,458.2 661.1,458.0 661.0,458.0 661.0,457.7 661.0,454.3 660.9,453.0 660.4,451.7 659.8,450.5 658.8,449.5 657.7,448.7 656.5,448.1 656.0,448.0 656.0,447.7 655.7,445.7 655.4,444.4 654.8,443.2 654.0,442.1 653.0,441.2 651.9,440.5 650.6,440.1 649.3,440.0 647.6,440.0 646.3,440.1 645.1,440.5 643.9,441.2 642.9,442.0 642.1,443.1 641.5,444.3 641.2,445.6 641.0,446.9 641.0,447.1 638.1,459.7 638.0,459.9 637.8,459.8 635.2,456.3 635.0,456.0 635.0,455.7 635.0,415.5 634.9,414.2 634.5,413.0 633.9,411.9 633.1,410.9 632.1,410.1 631.0,409.5 629.8,409.1 628.5,409.0 625.7,409.0 624.4,409.1 623.2,409.5 622.1,410.1 621.1,410.9 620.9,411.1 620.1,412.1 619.5,413.2 617.5,417.9 617.1,419.0 617.0,420.2 616.0,446.7 616.0,447.0 615.8,447.2 614.2,448.8 614.0,448.9 614.0,448.7 613.0,442.0 610.8,425.6 610.5,424.3 609.9,423.1 609.1,422.1 608.1,421.2 606.9,420.5 605.6,420.1 604.3,420.0 598.3,420.0 598.0,420.0 598.0,419.7 598.0,401.5 597.9,400.2 597.5,399.0 596.9,397.9 596.1,396.9 595.1,396.1 594.0,395.5 592.8,395.1 591.5,395.0 590.5,395.0 589.2,395.1 588.0,395.5 586.9,396.1 585.9,396.9 585.1,397.9 584.5,399.0 584.1,400.2 584.0,401.5 584.0,413.7 584.0,414.0 583.7,413.9 578.3,413.1 578.0,413.0 578.0,412.7 577.0,399.1 577.0,398.9 575.0,379.3 574.9,378.7 573.7,372.6 573.3,371.3 572.7,370.2 571.8,369.2 570.8,368.4 569.6,367.8 568.3,367.5 567.0,367.4 565.7,367.6 564.5,368.0 563.4,368.7 562.4,369.7 561.7,370.7 561.1,372.0 560.9,373.2 557.0,412.7 557.0,413.0 556.7,413.0 555.3,413.0 555.0,413.0 555.0,412.7 554.0,377.0 554.0,377.0 553.0,347.3 553.0,346.7 550.0,322.1 550.0,321.9 548.8,313.6 548.5,312.3 547.9,311.1 547.1,310.0 546.1,309.2 544.9,308.5 543.7,308.1 542.4,308.0 541.5,308.0 540.2,308.1 539.0,308.5 537.9,309.1 536.9,309.9 536.1,310.9 535.5,312.0 535.1,313.2 535.0,314.5 535.0,345.7 535.0,346.0 534.4,346.0 534.4,346.0 533.3,346.1 532.1,346.6 530.9,347.2 529.9,348.1 529.1,349.2 528.5,350.4 528.2,351.3 527.9,352.7 526.0,369.7 526.0,369.9 525.9,369.7 524.0,362.2 524.0,361.8 522.6,350.6 522.3,349.3 521.7,348.1 520.9,347.0 519.9,346.1 518.7,345.5 517.4,345.1 517.3,345.1 517.0,345.0 517.0,344.7 517.0,307.2 517.0,306.8 516.3,295.1 516.2,293.9 515.7,292.8 515.1,291.7 514.3,290.8 513.3,290.0 512.3,289.5 511.1,289.1 509.9,289.0 509.7,289.0 508.3,289.1 507.1,289.6 505.9,290.2 504.9,291.1 504.1,292.2 503.5,293.4 503.2,294.3 502.9,295.7 495.0,372.8 494.9,373.2 494.1,376.7 494.0,376.9 494.0,376.7 493.0,357.1 493.0,356.9 491.3,332.2 491.1,330.9 490.6,329.7 489.9,328.6 489.0,327.6 488.2,327.1 488.0,327.0 488.0,326.7 487.0,307.0 487.0,307.0 486.2,282.3 486.0,281.1 485.6,279.9 485.0,278.8 484.2,277.8 483.3,277.1 482.1,276.5 480.9,276.1 479.7,276.0 478.5,276.0 477.2,276.1 476.0,276.5 474.9,277.1 473.9,277.9 473.1,278.9 472.5,280.0 472.1,281.2 472.0,282.5 472.0,295.7 472.0,296.0 471.6,296.1 470.3,296.6 469.2,297.4 468.3,298.4 467.6,299.6 467.1,300.9 467.0,302.3 467.0,338.7 467.0,339.0 466.7,339.0 465.6,339.0 464.3,339.1 463.0,339.6 461.8,340.2 460.8,341.2 460.0,342.3 459.4,343.5 459.2,344.8 454.0,394.7 454.0,395.0 453.7,395.0 447.3,395.0 447.0,395.0 447.0,394.7 443.0,327.0 443.0,327.0 441.7,287.6 441.8,287.6 441.8,287.6 441.8,287.6 441.8,287.6 441.9,287.6 441.9,287.5 441.9,287.5 441.9,287.5 442.0,287.5 442.0,287.5 442.0,287.4 442.0,287.4 442.0,287.4 442.0,287.3 442.0,287.3 442.0,287.3 441.4,267.4 441.4,267.4 441.3,266.9 441.3,266.9 441.3,266.8 441.1,266.4 441.1,266.4 441.1,266.3 440.9,265.9 440.9,265.9 440.9,265.9 440.5,265.5 440.5,265.5 440.5,265.5 440.1,265.2 440.1,265.2 440.1,265.1 439.7,264.9 439.6,264.9 439.6,264.9 439.1,264.8 439.1,264.8 439.1,264.7 438.6,264.7 438.6,264.7 431.5,264.7 431.4,264.7 431.0,264.7 430.9,264.8 430.9,264.8 430.4,264.9 430.4,264.9 430.4,264.9 429.9,265.1 429.9,265.2 429.9,265.2 429.5,265.5 429.5,265.5 429.5,265.5 429.2,265.9 429.2,265.9 429.1,266.0 428.9,266.4 428.9,266.4 428.9,266.4 428.7,266.9 428.7,266.9 428.7,267.0 428.7,267.4 428.7,267.5 428.4,287.4 428.4,287.5 428.4,287.5 428.4,287.5 428.4,287.5 428.5,287.6 428.5,287.6 428.5,287.6 428.5,287.6 428.5,287.7 428.6,287.7 428.6,287.7 428.6,287.7 428.6,287.7 428.7,287.7 428.7,287.7 428.7,287.7 428.0,345.7 428.0,346.0 427.7,346.0 421.9,346.0 420.5,346.1 419.2,346.6 418.1,347.2 417.0,348.2 416.2,349.3 415.7,350.5 415.4,351.9 414.0,365.7 414.0,365.8 414.0,365.7 412.0,347.0 412.0,347.0 410.5,327.9 410.2,326.6 409.8,325.4 409.1,324.3 408.2,323.4 407.1,322.7 405.9,322.2 405.4,322.1 405.0,322.0 405.0,321.7 404.1,271.3 403.9,270.0 403.5,268.7 402.8,267.6 401.9,266.6 400.8,265.8 399.6,265.3 398.2,265.0 398.0,265.0 398.0,264.7 398.0,233.5 397.9,232.2 397.5,231.0 396.9,229.9 396.1,228.9 395.1,228.1 394.0,227.5 392.8,227.1 391.5,227.0 387.3,227.0 387.0,227.0 387.0,226.7 386.1,189.4 386.0,188.1 385.6,186.9 385.0,185.8 384.2,184.9 383.2,184.1 382.1,183.5 380.9,183.1 379.6,183.0 379.3,183.0 379.0,183.0 379.0,182.7 379.0,126.5 378.9,125.2 378.5,124.0 377.9,122.9 377.1,121.9 376.1,121.1 375.0,120.5 373.8,120.1 372.5,120.0 372.2,120.0 371.0,120.1 369.8,120.5 368.7,121.0 367.7,121.8 366.9,122.7 366.3,123.8 365.9,125.0 365.7,126.2 364.0,164.7 364.0,165.0 363.7,165.0 359.5,165.0 358.2,165.1 357.0,165.5 355.9,166.1 354.9,166.9 354.1,167.9 353.5,169.0 353.1,170.2 353.0,171.5 353.0,194.7 353.0,195.0 352.7,195.0 347.5,195.0 346.2,195.1 345.0,195.5 343.9,196.1 342.9,196.9 342.1,197.9 341.5,199.0 341.1,200.2 341.0,201.5 341.0,246.7 341.0,247.0 340.7,246.9 331.3,245.1 331.3,245.1 331.3,245.0 331.3,245.0 331.3,245.0 331.3,245.0 331.3,244.9 331.3,244.9 331.3,244.8 330.3,207.0 330.2,200.2 330.2,200.1 330.1,199.6 330.1,199.6ZM1391.9,389.6 1391.8,389.6 1391.8,389.6 1391.8,389.6 1391.7,389.6 1391.7,389.7 1391.7,389.7 1391.7,389.7 1391.7,389.7 1391.6,389.7 1391.6,389.8 1391.6,389.8 1391.6,389.8 1391.6,389.9 1391.6,389.9 1389.5,410.8 1389.4,412.1 1389.4,412.1 1389.4,412.1 1389.4,412.2 1389.4,412.2 1389.4,412.2 1389.5,412.2 1389.5,412.3 1389.5,412.3 1389.5,412.3 1389.5,412.3 1389.5,412.4 1389.6,412.4 1389.6,412.4 1389.6,412.4 1389.7,412.4 1389.7,412.4 1389.5,414.0 1389.5,414.2 1389.3,414.1 1388.5,413.3 1388.2,413.0 1388.1,412.6 1385.8,405.6 1385.3,404.4 1384.5,403.3 1383.5,402.3 1382.3,401.7 1381.0,401.2 1379.6,401.1 1379.1,401.1 1377.8,401.2 1376.5,401.6 1375.3,402.3 1374.3,403.2 1373.5,404.3 1372.9,405.5 1372.6,406.8 1371.7,413.6 1371.7,414.0 1371.5,414.3 1370.0,416.7 1369.8,417.0 1369.6,416.8 1366.7,414.5 1366.5,414.3 1366.5,414.0 1366.5,379.5 1366.3,377.9 1363.4,366.3 1362.9,365.0 1360.7,360.6 1360.1,359.6 1359.3,358.7 1358.3,358.0 1357.2,357.4 1356.1,357.1 1354.9,357.0 1353.4,357.0 1352.2,357.1 1351.0,357.5 1349.9,358.0 1349.0,358.7 1348.2,359.6 1347.5,360.7 1347.1,361.8 1346.9,363.0 1343.3,413.2 1343.3,413.2 1341.5,441.9 1341.5,442.2 1341.3,442.2 1340.1,442.4 1339.0,442.8 1338.0,443.5 1337.1,444.3 1336.4,445.2 1335.8,446.3 1335.5,447.5 1335.4,448.7 1335.4,459.0 1335.4,459.3 1335.0,459.3 1333.7,459.6 1332.5,460.1 1331.4,460.9 1330.5,461.8 1329.8,463.0 1329.4,464.2 1329.2,465.5 1328.8,476.1 1328.8,476.4 1328.2,476.4 1327.1,476.6 1325.9,477.1 1324.9,477.7 1324.1,478.5 1323.3,479.4 1322.8,480.5 1322.5,481.6 1322.3,482.7 1322.2,483.0 1321.9,483.0 1319.9,483.0 1319.6,483.0 1319.5,482.7 1318.6,480.5 1317.6,478.9 1317.3,478.5 1316.4,477.6 1315.3,476.9 1314.2,476.4 1312.9,476.1 1310.0,475.8 1310.0,475.8 1310.0,475.8 1310.0,475.8 1310.0,475.8 1310.0,475.7 1310.0,475.7 1310.0,475.6 1310.0,475.5 1308.0,459.3 1308.0,459.3 1306.6,445.4 1306.6,445.4 1306.6,445.3 1306.6,445.3 1306.6,445.3 1306.5,445.3 1306.5,445.2 1306.5,445.2 1306.5,445.2 1306.5,445.2 1306.4,445.2 1306.4,445.1 1306.4,445.1 1306.4,445.1 1306.3,445.1 1306.3,445.1 1306.3,445.1 1306.3,445.1 1305.7,439.6 1305.7,439.4 1304.6,419.3 1304.4,418.1 1304.0,417.0 1303.4,415.9 1302.6,415.0 1301.6,414.2 1300.5,413.7 1299.3,413.3 1298.1,413.2 1297.1,413.2 1295.8,413.3 1294.6,413.7 1293.5,414.3 1292.5,415.1 1291.7,416.1 1291.1,417.3 1290.0,420.0 1290.0,420.0 1287.4,426.1 1287.3,426.4 1287.0,426.4 1285.9,426.4 1284.6,426.5 1283.4,426.9 1282.3,427.5 1281.3,428.3 1280.5,429.3 1279.9,430.4 1279.5,431.6 1279.4,432.9 1279.4,449.5 1279.4,449.5 1279.3,449.5 1279.3,449.5 1279.3,449.5 1279.3,449.6 1279.2,449.6 1279.2,449.6 1279.2,449.6 1279.2,449.6 1279.2,449.7 1279.1,449.7 1279.1,449.7 1279.1,449.7 1279.1,449.8 1279.1,449.8 1279.1,449.8 1279.1,465.6 1279.1,465.8 1279.1,465.8 1279.1,465.9 1279.1,465.9 1279.1,465.9 1279.1,465.9 1278.6,465.9 1277.3,466.0 1276.1,466.4 1275.0,467.0 1274.0,467.8 1273.2,468.8 1272.6,469.9 1272.2,471.1 1272.1,472.4 1272.1,481.1 1272.2,482.4 1272.6,483.6 1273.2,484.7 1272.6,484.8 1271.5,485.3 1270.5,486.1 1269.6,487.0 1269.0,488.0 1267.4,491.1 1267.0,492.2 1266.8,493.4 1266.6,494.8 1266.6,496.0 1266.4,497.1 1264.2,519.6 1264.2,519.9 1263.9,519.9 1260.6,519.9 1260.3,519.9 1260.3,519.6 1260.0,506.5 1259.9,505.2 1259.5,504.0 1258.9,502.9 1258.1,501.9 1255.0,498.9 1254.8,498.7 1254.8,498.4 1254.8,483.6 1254.7,482.5 1254.4,481.4 1254.0,480.4 1253.5,479.6 1252.7,478.5 1251.7,477.5 1250.5,476.8 1249.2,476.4 1248.0,476.2 1247.7,476.1 1247.7,475.8 1247.5,470.0 1247.3,468.7 1246.8,467.5 1246.6,466.9 1245.9,465.9 1245.1,465.0 1244.2,464.2 1243.1,463.7 1241.9,463.3 1240.7,463.2 1233.1,463.2 1231.7,463.3 1230.4,463.8 1229.2,464.4 1228.2,465.4 1227.4,466.5 1226.9,467.7 1226.6,469.0 1225.8,476.3 1225.8,476.6 1225.5,476.6 1223.5,476.6 1223.2,476.6 1223.2,476.3 1223.1,476.0 1222.8,474.7 1222.3,473.5 1221.5,472.5 1220.5,471.6 1219.8,471.1 1216.6,468.4 1216.2,468.0 1215.2,466.7 1214.3,465.8 1213.2,465.2 1212.0,464.7 1210.8,464.4 1209.5,464.5 1208.2,464.7 1207.1,465.2 1206.0,466.0 1205.1,466.9 1204.4,467.9 1203.9,469.1 1203.7,470.4 1203.2,476.3 1203.2,476.6 1202.9,476.6 1198.2,476.6 1197.9,476.6 1197.9,476.3 1197.1,468.2 1196.8,466.9 1196.3,465.6 1195.5,464.5 1193.3,462.1 1193.1,461.8 1190.3,459.0 1189.3,458.2 1188.2,457.6 1187.0,457.2 1185.7,457.1 1185.6,457.1 1184.3,457.2 1183.2,457.6 1182.1,458.1 1181.1,458.9 1180.3,459.8 1179.7,460.8 1178.8,462.6 1178.7,462.9 1178.4,463.1 1177.0,463.9 1175.8,464.7 1174.8,465.8 1174.2,467.1 1173.1,469.9 1172.9,470.1 1170.4,475.3 1169.8,476.8 1167.1,489.8 1166.9,490.2 1165.1,494.9 1165.0,495.2 1164.7,495.2 1160.3,495.3 1159.1,495.4 1157.9,495.8 1156.8,496.4 1155.8,497.2 1155.0,498.2 1154.4,499.3 1154.0,500.5 1153.9,501.8 1153.9,519.5 1153.8,520.4 1151.1,529.7 1151.0,529.9 1150.9,529.8 1149.9,529.0 1148.7,528.3 1147.4,527.9 1146.1,527.8 1144.8,528.0 1143.5,528.4 1142.3,529.1 1141.3,530.0 1140.9,530.7 1140.7,530.8 1140.6,530.6 1138.0,520.1 1138.0,519.9 1135.8,506.7 1135.4,505.5 1134.9,504.3 1134.1,503.3 1133.1,502.4 1131.9,501.8 1130.7,501.4 1129.4,501.3 1128.7,501.3 1127.5,501.4 1126.3,501.8 1125.2,502.3 1124.2,503.1 1123.4,504.1 1122.8,505.2 1122.4,506.3 1122.2,507.6 1121.6,524.7 1121.6,524.9 1121.4,524.4 1121.4,524.4 1121.0,523.6 1120.1,522.5 1119.1,521.6 1118.0,520.9 1116.7,520.5 1115.4,520.4 1114.9,520.4 1113.6,520.5 1112.4,520.9 1111.3,521.5 1111.0,521.6 1111.0,521.4 1110.7,518.9 1110.4,517.6 1109.9,516.3 1109.1,515.3 1108.1,514.3 1106.9,513.7 1105.6,513.2 1104.2,513.1 1103.8,513.1 1102.5,513.2 1101.3,513.6 1100.2,514.2 1099.2,515.0 1098.4,516.0 1097.8,517.1 1097.4,518.3 1097.3,519.6 1097.3,521.5 1097.3,521.9 1094.7,545.9 1094.6,547.1 1094.9,548.3 1095.3,549.5 1095.9,550.5 1096.8,551.4 1097.8,552.2 1098.9,552.7 1100.0,553.0 1101.3,553.1 1102.5,553.0 1103.7,552.6 1104.7,552.0 1105.2,551.7 1105.5,551.5 1105.7,551.7 1106.9,553.0 1107.1,553.2 1107.2,553.5 1109.8,565.1 1110.1,566.2 1110.7,567.2 1111.4,568.2 1112.3,568.9 1113.2,569.6 1113.5,569.8 1113.5,570.1 1114.3,576.9 1114.3,577.1 1115.0,589.6 1115.0,589.6 1115.9,619.6 1115.9,619.6 1115.9,619.6 1115.9,619.6 1115.9,619.6 1115.8,619.6 1115.8,619.6 1115.8,619.6 1115.7,619.6 1115.7,619.7 1115.7,619.7 1115.7,619.7 1115.7,619.7 1115.7,619.8 1115.7,619.8 1115.7,619.8 1115.6,619.8 1115.6,619.9 1117.1,667.1 1117.1,667.1 1117.2,667.6 1117.2,667.6 1117.2,667.6 1117.4,668.1 1117.4,668.1 1117.4,668.2 1117.6,668.6 1117.6,668.6 1117.6,668.6 1118.0,669.0 1118.0,669.0 1118.0,669.0 1118.4,669.3 1118.4,669.3 1118.4,669.4 1118.8,669.6 1118.9,669.6 1118.9,669.6 1119.4,669.7 1119.4,669.7 1119.4,669.8 1119.9,669.8 1119.9,669.8 1125.3,669.8 1125.4,669.8 1125.9,669.8 1125.9,669.7 1125.9,669.7 1126.4,669.6 1126.4,669.6 1126.4,669.6 1126.9,669.3 1126.9,669.3 1126.9,669.3 1127.3,669.0 1127.3,669.0 1127.3,669.0 1127.6,668.6 1127.7,668.6 1127.7,668.5 1127.9,668.1 1127.9,668.1 1129.0,665.6 1129.0,665.6 1129.1,665.1 1129.1,665.0 1129.1,665.0 1129.2,664.5 1129.2,664.5 1129.2,620.4 1129.2,620.4 1129.2,620.3 1129.2,620.3 1129.2,620.3 1129.2,620.2 1129.2,620.2 1129.1,620.2 1129.1,620.2 1129.1,620.1 1129.1,620.1 1129.1,620.1 1129.2,620.1 1129.9,620.1 1131.1,620.0 1132.3,619.6 1133.4,619.1 1134.4,618.3 1135.2,617.3 1135.8,616.2 1136.2,615.1 1136.3,613.8 1137.2,589.9 1137.2,589.6 1137.5,589.6 1141.7,589.6 1143.0,589.5 1144.2,589.1 1145.3,588.5 1146.3,587.7 1147.1,586.7 1147.7,585.6 1148.1,584.4 1148.2,583.1 1148.2,551.3 1148.2,551.0 1148.5,551.0 1151.5,551.0 1151.8,551.0 1152.0,551.3 1153.2,553.6 1154.1,554.9 1155.3,555.9 1165.7,562.8 1165.8,562.8 1165.8,562.9 1165.7,562.9 1165.7,562.9 1165.7,562.9 1165.7,563.0 1165.7,563.0 1165.7,563.0 1165.7,563.1 1165.7,563.1 1165.7,563.1 1165.7,563.2 1165.7,563.2 1169.1,620.9 1169.1,620.9 1169.2,621.4 1169.2,621.4 1169.2,621.4 1169.3,621.9 1169.4,621.9 1169.4,621.9 1169.6,622.3 1169.6,622.3 1169.6,622.4 1170.0,622.7 1170.0,622.7 1170.0,622.8 1170.4,623.1 1170.4,623.1 1170.4,623.1 1170.9,623.3 1170.9,623.3 1170.9,623.3 1171.4,623.4 1171.4,623.5 1171.4,623.5 1171.9,623.5 1171.9,623.5 1171.9,623.5 1172.4,623.4 1172.4,623.4 1172.5,623.4 1172.9,623.3 1173.0,623.3 1173.0,623.3 1173.4,623.1 1173.4,623.0 1173.5,623.0 1173.8,622.7 1173.8,622.7 1173.9,622.7 1174.2,622.3 1174.2,622.3 1174.2,622.3 1174.4,621.9 1174.4,621.8 1174.5,621.8 1174.6,621.4 1174.6,621.3 1176.2,614.3 1176.2,614.3 1176.3,613.8 1176.3,613.8 1178.3,559.8 1178.3,559.8 1178.3,559.7 1178.3,559.7 1178.3,559.7 1178.2,559.7 1178.2,559.6 1178.2,559.6 1178.2,559.6 1178.2,559.6 1178.2,559.5 1178.1,559.5 1178.1,559.5 1178.1,559.5 1178.0,559.5 1178.0,559.5 1178.0,559.5 1178.0,559.5 1178.7,540.1 1178.7,539.9 1178.7,498.4 1178.8,497.6 1180.9,489.0 1181.0,488.7 1181.3,488.7 1185.5,488.7 1185.8,488.7 1185.9,489.0 1187.4,498.6 1187.4,498.8 1188.0,505.5 1188.0,505.7 1189.5,519.8 1189.5,520.2 1190.7,526.6 1191.0,527.8 1191.6,528.9 1192.4,529.8 1193.3,530.7 1194.3,531.3 1195.5,531.7 1196.7,531.9 1198.0,531.8 1199.2,531.6 1200.3,531.0 1201.3,530.3 1202.2,529.4 1202.9,528.4 1203.3,527.3 1203.4,526.9 1203.7,525.0 1203.7,511.2 1203.7,511.0 1204.0,511.1 1205.1,512.0 1206.4,512.8 1207.7,513.3 1209.2,513.5 1215.0,513.5 1215.3,513.5 1215.5,513.8 1216.2,514.9 1217.1,515.8 1218.1,516.5 1219.3,517.0 1220.6,517.2 1221.8,517.2 1223.1,517.0 1224.3,516.5 1225.3,515.8 1226.2,514.9 1226.9,513.8 1227.4,512.6 1227.7,511.4 1228.5,502.0 1228.5,501.8 1228.6,501.1 1228.7,500.8 1229.0,500.8 1234.7,500.8 1235.0,500.8 1235.0,501.1 1235.0,514.1 1235.1,515.3 1235.4,516.5 1236.0,517.6 1236.1,517.7 1236.9,518.8 1237.9,519.6 1239.0,520.3 1240.3,520.7 1241.6,520.8 1246.7,520.8 1247.0,520.8 1247.0,521.1 1247.8,532.7 1248.0,534.0 1248.5,535.2 1249.2,536.3 1250.1,537.3 1251.2,538.0 1252.4,538.5 1253.6,538.8 1254.3,538.8 1254.4,539.1 1259.3,550.7 1259.9,551.8 1260.7,552.8 1261.7,553.6 1262.8,554.2 1264.0,554.6 1265.3,554.7 1266.6,554.6 1267.8,554.2 1268.9,553.6 1269.9,552.8 1270.7,551.8 1271.3,550.6 1271.5,550.1 1271.8,549.1 1272.0,548.1 1272.5,540.1 1273.2,556.8 1273.2,556.8 1273.3,557.3 1273.3,557.3 1273.3,557.3 1273.4,557.8 1273.5,557.8 1273.5,557.8 1273.7,558.2 1273.7,558.3 1273.7,558.3 1274.1,558.7 1274.1,558.7 1274.1,558.7 1274.5,559.0 1274.5,559.0 1274.5,559.0 1275.0,559.2 1275.0,559.3 1275.0,559.3 1275.5,559.4 1275.5,559.4 1275.5,559.4 1276.0,559.4 1276.0,559.4 1276.1,559.4 1276.5,559.4 1276.6,559.4 1276.6,559.4 1277.1,559.2 1277.1,559.2 1277.1,559.2 1277.5,559.0 1277.6,559.0 1277.6,559.0 1278.0,558.6 1278.0,558.6 1278.0,558.6 1278.3,558.2 1278.3,558.2 1278.3,558.2 1278.6,557.8 1278.6,557.7 1278.6,557.7 1278.7,557.3 1278.7,557.2 1278.7,557.2 1278.8,556.7 1278.8,556.7 1279.2,530.9 1279.2,530.9 1279.2,530.9 1279.2,530.8 1279.2,530.8 1279.2,530.8 1279.1,530.8 1279.1,530.7 1279.1,530.7 1279.1,530.7 1279.1,530.7 1279.0,530.7 1279.0,530.7 1279.0,530.6 1279.0,530.6 1278.9,530.6 1278.9,530.6 1279.4,497.9 1279.3,497.3 1279.4,497.2 1279.5,496.7 1280.8,493.3 1281.2,492.1 1281.3,490.8 1281.2,489.6 1280.8,488.4 1280.2,487.4 1281.2,487.1 1282.3,486.4 1283.3,485.6 1284.1,484.6 1284.7,483.5 1285.9,480.2 1286.1,479.8 1289.0,474.3 1289.0,474.3 1289.0,474.3 1289.1,474.3 1289.1,474.3 1289.1,474.3 1289.1,474.3 1289.2,474.3 1289.2,474.3 1289.2,474.3 1289.3,474.3 1289.3,474.3 1289.3,474.3 1289.3,474.2 1289.3,474.2 1289.4,474.2 1289.4,474.2 1292.0,469.2 1292.0,469.1 1292.2,468.6 1292.2,468.6 1292.2,468.5 1292.3,467.9 1292.3,467.9 1292.3,452.3 1292.3,452.1 1292.3,452.1 1292.3,452.1 1292.3,452.0 1292.3,452.0 1292.3,452.0 1296.9,452.0 1296.9,452.0 1296.9,452.0 1296.9,452.0 1296.9,452.1 1296.9,452.1 1296.9,452.3 1296.9,476.0 1296.9,476.1 1297.0,476.8 1297.0,476.8 1298.6,482.2 1298.6,482.3 1298.6,482.3 1298.6,482.3 1298.6,482.3 1298.6,482.4 1298.7,482.4 1298.7,482.4 1298.7,482.4 1298.7,482.4 1298.8,482.4 1298.8,482.4 1298.8,482.4 1298.9,482.5 1298.9,482.4 1298.9,482.4 1298.9,482.4 1298.9,482.4 1300.6,488.2 1301.1,489.5 1302.0,490.7 1304.3,493.3 1305.3,494.2 1306.5,494.9 1307.8,495.3 1311.4,496.1 1311.7,496.2 1311.8,496.5 1314.8,505.7 1314.9,506.3 1315.9,512.4 1316.2,513.7 1316.8,514.9 1317.5,515.9 1318.5,516.7 1319.6,517.4 1320.9,517.8 1322.1,518.0 1323.4,517.9 1324.7,517.5 1325.8,516.9 1326.8,516.1 1327.7,515.1 1328.3,514.0 1328.7,512.8 1328.8,511.5 1328.8,501.7 1328.8,501.4 1329.1,501.4 1340.3,501.4 1340.3,501.4 1340.3,501.4 1340.3,501.4 1340.3,501.5 1340.3,501.5 1340.3,501.7 1341.2,542.1 1341.2,542.1 1341.3,542.6 1341.3,542.6 1341.3,542.6 1341.4,543.1 1341.5,543.1 1341.5,543.1 1341.7,543.6 1341.7,543.6 1341.7,543.6 1342.0,544.0 1342.1,544.0 1342.1,544.0 1342.5,544.3 1342.5,544.3 1342.5,544.4 1342.9,544.6 1343.0,544.6 1343.0,544.6 1343.5,544.7 1343.5,544.7 1343.5,544.8 1344.0,544.8 1344.0,544.8 1344.8,544.8 1344.8,544.8 1345.3,544.8 1345.3,544.7 1345.3,544.7 1345.8,544.6 1345.8,544.6 1345.8,544.6 1346.3,544.4 1346.3,544.3 1346.3,544.3 1346.7,544.0 1346.7,544.0 1346.7,544.0 1347.0,543.6 1347.1,543.6 1347.1,543.6 1347.3,543.1 1347.3,543.1 1347.3,543.1 1347.5,542.6 1347.5,542.6 1347.5,542.6 1347.6,542.1 1347.6,542.1 1348.3,507.8 1348.3,507.5 1350.2,501.4 1350.2,501.2 1350.3,501.2 1350.3,501.1 1350.3,501.1 1350.3,501.1 1350.3,501.1 1350.3,501.0 1350.3,501.0 1350.3,501.0 1350.3,500.9 1350.3,500.9 1350.2,500.9 1350.2,500.9 1350.3,500.9 1350.9,500.6 1351.9,499.8 1352.8,498.8 1353.4,497.6 1353.8,496.4 1354.0,495.1 1354.0,488.0 1354.0,487.7 1354.3,487.7 1358.7,487.9 1359.9,487.8 1361.1,487.5 1362.3,487.0 1363.3,486.2 1364.2,485.3 1364.8,484.2 1365.3,483.0 1365.4,481.8 1366.5,463.4 1366.5,463.1 1366.8,463.1 1377.7,463.1 1379.0,463.0 1380.2,462.6 1389.9,458.6 1390.9,458.1 1391.8,457.3 1392.6,456.4 1393.2,455.4 1393.6,454.3 1393.8,453.2 1394.8,442.8 1394.8,445.6 1394.8,445.6 1395.2,467.9 1395.2,467.9 1395.3,468.4 1395.3,468.4 1395.3,468.4 1395.4,468.9 1395.5,468.9 1395.5,468.9 1395.7,469.4 1395.7,469.4 1395.7,469.4 1396.0,469.8 1396.1,469.8 1396.1,469.8 1396.4,470.1 1396.5,470.1 1396.5,470.2 1396.9,470.4 1396.9,470.4 1397.0,470.4 1397.4,470.6 1397.5,470.6 1397.5,470.6 1398.0,470.6 1398.0,470.6 1398.0,470.6 1398.5,470.6 1398.5,470.6 1398.6,470.6 1399.0,470.4 1399.1,470.4 1399.1,470.4 1399.5,470.2 1399.5,470.2 1399.6,470.2 1399.9,469.9 1400.0,469.8 1400.0,469.8 1400.3,469.5 1400.3,469.4 1400.3,469.4 1400.6,469.0 1400.6,469.0 1400.6,468.9 1400.7,468.5 1400.8,468.5 1400.8,468.4 1400.8,468.0 1400.8,467.9 1402.2,433.8 1402.2,433.8 1402.2,433.7 1402.2,433.7 1402.1,433.7 1402.1,433.7 1402.1,433.6 1402.1,433.6 1402.1,433.6 1402.1,433.6 1402.0,433.6 1402.0,433.5 1402.0,433.5 1402.0,433.5 1401.9,433.5 1401.9,433.5 1401.9,433.5 1402.7,413.3 1402.7,413.3 1402.7,413.3 1402.8,413.3 1402.8,413.3 1402.8,413.3 1402.8,413.3 1402.9,413.2 1402.9,413.2 1402.9,413.2 1402.9,413.2 1402.9,413.1 1403.0,413.1 1403.0,413.1 1403.0,413.1 1403.0,413.0 1403.0,413.0 1403.7,394.7 1403.7,394.7 1403.7,394.6 1403.7,394.6 1403.7,394.6 1403.7,394.6 1409.7,394.6 1410.0,394.6 1410.0,394.9 1413.8,470.1 1413.8,470.1 1413.7,470.1 1413.7,470.1 1413.7,470.1 1413.6,470.2 1413.6,470.2 1413.6,470.2 1413.6,470.2 1413.6,470.2 1413.5,470.2 1413.5,470.3 1413.5,470.3 1413.5,470.3 1413.5,470.4 1413.5,470.4 1413.5,470.4 1413.5,470.4 1414.9,499.6 1414.9,499.6 1415.0,500.1 1415.0,500.1 1415.0,500.1 1415.2,500.6 1415.2,500.6 1415.2,500.7 1415.5,501.1 1415.5,501.1 1415.5,501.1 1415.9,501.5 1415.9,501.5 1415.9,501.5 1416.3,501.8 1416.3,501.8 1416.4,501.9 1416.8,502.1 1416.8,502.1 1416.9,502.1 1417.4,502.2 1417.4,502.2 1417.4,502.2 1417.9,502.2 1417.9,502.2 1418.0,502.2 1418.5,502.1 1418.5,502.1 1418.5,502.1 1419.0,501.9 1419.0,501.9 1419.0,501.9 1419.5,501.6 1419.5,501.6 1419.5,501.6 1419.9,501.2 1419.9,501.2 1419.9,501.2 1420.2,500.8 1420.2,500.8 1420.2,500.7 1420.4,500.3 1420.4,500.2 1420.4,500.2 1420.5,499.7 1420.5,499.7 1422.8,476.4 1422.8,476.3 1422.8,476.3 1422.8,476.2 1422.8,476.2 1425.0,476.2 1426.2,476.1 1427.5,475.7 1428.6,475.1 1429.6,474.2 1430.4,473.2 1431.0,472.1 1431.4,470.8 1433.0,461.7 1433.0,461.7 1435.6,446.1 1435.6,445.9 1435.7,445.7 1437.0,443.2 1437.4,442.0 1437.6,440.7 1437.6,440.7 1438.5,439.8 1439.2,438.7 1440.7,435.8 1441.1,434.9 1449.9,408.2 1450.1,407.8 1456.8,394.9 1456.9,394.6 1457.2,394.6 1461.5,393.9 1462.8,393.6 1464.0,393.0 1465.1,392.2 1466.0,391.2 1466.6,390.0 1467.0,388.8 1470.7,370.0 1470.7,370.0 1470.8,370.0 1470.8,370.0 1470.8,370.0 1470.8,370.0 1470.9,370.0 1470.9,369.9 1470.9,369.9 1471.0,369.9 1471.0,369.9 1471.0,369.9 1471.0,369.9 1471.0,369.8 1471.0,369.8 1471.1,369.8 1471.1,369.8 1471.1,369.7 1472.9,360.3 1473.0,360.3 1473.0,359.8 1473.0,359.8 1473.0,348.2 1473.0,348.0 1473.0,348.0 1473.0,347.9 1473.0,347.9 1473.0,347.9 1477.0,347.9 1477.3,347.9 1477.3,347.9 1477.3,359.9 1477.3,360.1 1479.1,424.8 1479.3,426.0 1479.7,427.2 1480.3,428.3 1481.1,429.3 1482.1,430.0 1483.2,430.6 1484.4,431.0 1485.6,431.1 1486.9,431.1 1487.2,431.1 1487.2,431.4 1487.7,437.9 1487.7,437.9 1487.7,437.9 1487.6,438.0 1487.6,438.0 1487.6,438.0 1487.6,438.0 1487.5,438.0 1487.5,438.0 1487.5,438.1 1487.5,438.1 1487.5,438.1 1487.5,438.1 1487.5,438.2 1487.5,438.2 1487.5,438.2 1487.5,438.3 1490.7,479.7 1490.7,479.7 1490.8,480.2 1490.8,480.3 1490.8,480.3 1491.0,480.7 1491.0,480.8 1491.0,480.8 1491.3,481.2 1491.3,481.2 1491.3,481.3 1491.6,481.6 1491.7,481.6 1491.7,481.6 1492.1,481.9 1492.1,481.9 1492.1,482.0 1492.6,482.2 1492.6,482.2 1492.6,482.2 1493.1,482.3 1493.2,482.3 1493.2,482.3 1493.7,482.3 1493.7,482.3 1493.7,482.3 1494.2,482.2 1494.2,482.2 1494.3,482.2 1494.7,482.0 1494.8,482.0 1494.8,482.0 1495.2,481.7 1495.2,481.7 1495.2,481.7 1495.6,481.3 1495.6,481.3 1495.6,481.3 1495.9,480.9 1495.9,480.8 1495.9,480.8 1496.1,480.4 1496.1,480.3 1496.2,480.3 1496.3,479.8 1496.3,479.8 1500.6,440.2 1500.6,440.2 1500.6,440.1 1500.6,440.1 1501.8,440.5 1503.0,440.5 1504.3,440.4 1505.5,440.0 1506.5,439.4 1507.5,438.6 1508.3,437.6 1508.8,436.5 1510.6,432.2 1511.0,430.7 1514.8,406.6 1514.8,406.4 1516.1,394.7 1516.1,394.5 1517.9,384.4 1518.0,384.1 1518.2,383.9 1520.0,382.1 1521.2,380.6 1522.4,378.3 1523.0,376.6 1526.5,360.7 1526.7,359.3 1526.7,355.5 1526.7,355.5 1526.8,355.5 1526.8,355.5 1526.8,355.5 1526.8,355.5 1526.9,355.5 1526.9,355.4 1526.9,355.4 1526.9,355.4 1526.9,355.4 1527.0,355.4 1527.0,355.3 1527.0,355.3 1527.0,355.3 1527.0,355.2 1527.0,355.2 1527.0,340.9 1527.0,340.7 1527.0,340.7 1527.0,340.6 1527.0,340.6 1527.0,340.6 1527.0,340.6 1529.0,340.6 1529.3,340.6 1529.5,340.9 1529.8,341.3 1530.7,342.2 1531.1,342.5 1530.4,343.4 1529.8,344.5 1529.4,345.7 1529.3,347.0 1529.3,349.9 1529.4,351.2 1529.8,352.4 1530.4,353.5 1531.2,354.5 1532.2,355.3 1533.3,355.9 1534.5,356.3 1535.8,356.4 1536.9,356.4 1537.2,356.4 1537.2,356.5 1538.2,357.2 1539.3,357.7 1540.0,357.9 1539.5,358.5 1538.8,359.6 1538.3,360.8 1538.1,362.1 1538.1,363.4 1539.0,369.9 1539.0,370.1 1539.8,382.5 1540.0,383.7 1540.4,384.9 1541.0,385.9 1541.8,386.8 1542.8,387.6 1543.9,388.1 1545.1,388.5 1546.3,388.6 1547.8,388.6 1549.1,388.5 1550.3,388.1 1551.4,387.5 1552.3,386.8 1553.1,385.8 1553.8,384.7 1554.1,383.5 1554.4,382.3 1554.5,382.0 1554.8,382.0 1566.1,382.0 1566.4,382.0 1566.5,382.3 1569.8,392.9 1569.8,393.1 1571.0,397.5 1571.4,398.7 1572.0,399.7 1572.8,400.6 1573.8,401.4 1574.9,401.9 1576.0,402.3 1577.3,402.4 1579.2,402.4 1579.8,402.4 1580.2,402.3 1581.4,402.1 1582.5,401.7 1583.5,401.1 1584.4,400.2 1585.1,399.3 1585.7,398.2 1586.0,397.1 1586.1,395.9 1586.1,378.3 1586.1,378.0 1586.4,378.0 1588.4,378.0 1588.7,378.0 1588.7,378.3 1589.6,407.3 1589.6,407.3 1589.6,407.3 1589.6,407.3 1589.5,407.3 1589.5,407.3 1589.5,407.3 1589.5,407.3 1589.4,407.3 1589.4,407.4 1589.4,407.4 1589.4,407.4 1589.4,407.4 1589.4,407.5 1589.4,407.5 1589.3,407.5 1589.3,407.5 1589.3,407.6 1590.4,440.9 1590.4,440.9 1590.4,463.5 1590.4,463.5 1590.5,464.0 1590.5,464.1 1590.5,464.1 1590.6,464.6 1590.6,464.6 1590.7,464.7 1590.9,465.1 1590.9,465.1 1591.0,465.2 1591.3,465.5 1591.3,465.6 1593.7,467.8 1593.8,467.8 1594.1,468.1 1594.2,468.1 1594.2,468.1 1594.6,468.3 1594.7,468.3 1594.7,468.3 1595.1,468.4 1595.2,468.4 1595.2,468.4 1595.7,468.5 1595.7,468.5 1595.7,468.5 1596.2,468.4 1596.2,468.4 1596.3,468.4 1596.7,468.3 1596.7,468.3 1596.8,468.2 1597.2,468.0 1597.2,468.0 1597.2,468.0 1597.6,467.7 1597.6,467.7 1597.6,467.6 1597.9,467.3 1597.9,467.2 1598.0,467.2 1598.2,466.8 1598.2,466.8 1598.2,466.8 1598.4,466.3 1598.4,466.3 1598.4,466.2 1598.4,465.8 1598.4,465.7 1599.6,413.1 1599.6,413.1 1599.6,413.0 1599.6,413.0 1599.6,413.0 1599.6,413.0 1603.6,413.0 1603.9,413.0 1603.9,413.3 1604.8,424.0 1604.8,424.0 1604.7,424.0 1604.7,424.1 1604.7,424.1 1604.7,424.1 1604.6,424.1 1604.6,424.1 1604.6,424.1 1604.6,424.2 1604.6,424.2 1604.6,424.2 1604.5,424.2 1604.5,424.3 1604.5,424.3 1604.5,424.3 1604.5,424.4 1605.8,439.9 1605.8,439.9 1605.9,440.4 1605.9,440.4 1605.9,440.5 1606.1,440.9 1606.1,440.9 1606.1,441.0 1606.4,441.4 1606.4,441.4 1606.4,441.4 1606.7,441.8 1606.7,441.8 1606.8,441.8 1607.2,442.1 1607.2,442.1 1607.2,442.1 1607.6,442.3 1607.7,442.3 1607.7,442.3 1608.2,442.4 1608.2,442.5 1608.2,442.5 1608.7,442.5 1608.7,442.5 1608.7,442.5 1609.2,442.4 1609.2,442.4 1609.3,442.4 1609.7,442.2 1609.8,442.2 1609.8,442.2 1610.2,442.0 1610.2,442.0 1610.2,442.0 1610.6,441.6 1610.6,441.6 1610.6,441.6 1610.9,441.2 1611.0,441.2 1611.0,441.2 1611.2,440.8 1611.2,440.7 1611.2,440.7 1611.3,440.2 1611.3,440.2 1611.4,440.2 1611.4,439.7 1611.4,439.7 1611.4,430.6 1611.4,430.6 1611.4,430.6 1611.5,430.6 1611.5,430.5 1611.5,430.5 1611.5,430.5 1611.5,430.5 1611.6,430.5 1611.6,430.4 1611.6,430.4 1611.6,430.4 1611.6,430.4 1611.6,430.3 1611.6,430.3 1617.4,430.3 1617.7,430.3 1617.7,430.9 1617.7,430.9 1617.8,431.9 1618.3,433.2 1618.9,434.3 1619.9,435.4 1621.0,436.2 1622.2,436.7 1622.5,436.8 1623.0,436.9 1623.0,437.2 1624.3,447.5 1624.3,447.5 1627.0,473.8 1627.0,473.8 1628.7,493.9 1629.0,495.1 1629.4,496.3 1630.1,497.3 1631.0,498.3 1632.0,499.0 1633.2,499.5 1634.4,499.8 1635.7,499.8 1636.9,499.6 1638.1,499.1 1639.2,498.5 1640.1,497.6 1640.8,496.6 1642.0,494.5 1642.5,493.5 1642.8,492.4 1642.9,491.3 1643.0,438.1 1643.0,437.9 1645.5,375.5 1645.5,375.2 1645.8,375.2 1652.1,375.2 1653.3,375.1 1654.5,374.7 1655.6,374.2 1656.5,373.4 1657.3,372.5 1658.0,371.5 1658.4,370.3 1658.6,369.1 1659.4,357.0 1659.4,356.7 1659.7,356.7 1668.3,356.7 1668.6,356.7 1668.6,357.0 1669.5,380.7 1669.5,380.7 1669.5,380.7 1669.5,380.7 1669.4,380.7 1669.4,380.7 1669.4,380.7 1669.4,380.8 1669.3,380.8 1669.3,380.8 1669.3,380.8 1669.3,380.8 1669.3,380.9 1669.3,380.9 1669.2,380.9 1669.2,380.9 1669.2,381.0 1669.2,381.0 1669.9,398.9 1669.9,398.9 1670.0,399.4 1670.0,399.4 1670.0,399.4 1670.2,399.9 1670.2,399.9 1670.2,399.9 1670.4,400.4 1670.4,400.4 1670.5,400.4 1670.8,400.8 1670.8,400.8 1670.8,400.8 1671.2,401.1 1671.2,401.1 1671.3,401.1 1671.7,401.3 1671.7,401.4 1671.7,401.4 1672.2,401.5 1672.2,401.5 1672.3,401.5 1672.8,401.5 1672.8,401.5 1672.8,401.5 1673.3,401.5 1673.3,401.5 1673.3,401.5 1673.8,401.3 1673.8,401.3 1673.9,401.3 1674.3,401.1 1674.3,401.1 1674.3,401.0 1674.7,400.7 1674.7,400.7 1674.7,400.7 1675.0,400.3 1675.1,400.3 1675.1,400.3 1675.3,399.8 1675.3,399.8 1675.3,399.8 1675.5,399.3 1675.5,399.3 1676.3,395.2 1676.3,395.1 1676.3,395.0 1680.0,388.2 1680.5,388.0 1680.5,388.0 1680.5,388.0 1681.0,387.8 1681.0,387.8 1681.1,387.7 1681.5,387.4 1681.5,387.4 1681.5,387.3 1681.8,386.9 1681.8,386.9 1681.9,386.9 1682.1,386.4 1682.1,386.4 1682.1,386.3 1682.2,385.8 1682.2,385.8 1682.8,381.6 1682.8,381.6 1682.8,381.6 1682.8,381.5 1682.8,381.5 1682.8,381.5 1682.7,381.4 1682.7,381.4 1682.7,381.4 1682.7,381.4 1682.7,381.4 1682.7,381.3 1682.6,381.3 1682.6,381.3 1682.6,381.3 1682.5,381.3 1682.5,381.3 1682.5,381.3 1685.7,357.0 1685.7,356.7 1686.0,356.7 1696.7,356.7 1697.0,356.7 1697.0,357.0 1700.9,408.9 1700.9,409.1 1701.5,414.2 1701.5,414.2 1701.4,414.2 1701.4,414.2 1701.4,414.2 1701.3,414.2 1701.3,414.2 1701.3,414.2 1701.3,414.3 1701.3,414.3 1701.2,414.3 1701.2,414.3 1701.2,414.4 1701.2,414.4 1701.2,414.4 1701.2,414.4 1701.2,414.5 1701.2,414.5 1701.9,420.9 1701.9,421.0 1701.9,421.1 1701.9,421.1 1702.3,423.5 1702.3,423.5 1702.5,424.0 1702.5,424.0 1702.5,424.1 1702.7,424.5 1702.7,424.5 1702.8,424.5 1703.1,424.9 1703.1,425.0 1703.1,425.0 1703.5,425.3 1703.5,425.3 1703.5,425.3 1704.0,425.6 1704.0,425.6 1704.0,425.6 1704.5,425.7 1704.5,425.7 1704.6,425.7 1705.1,425.8 1705.1,425.8 1711.6,425.8 1711.6,425.8 1712.1,425.8 1712.1,425.7 1712.2,425.7 1712.6,425.6 1712.6,425.6 1712.7,425.6 1713.1,425.4 1713.1,425.4 1713.1,425.3 1713.5,425.0 1713.5,425.0 1713.6,425.0 1713.9,424.6 1713.9,424.6 1713.9,424.6 1714.1,424.2 1714.2,424.1 1714.2,424.1 1714.3,423.7 1714.3,423.6 1714.3,423.6 1714.4,423.1 1714.4,423.1 1714.7,414.0 1714.7,414.0 1714.7,414.0 1714.7,414.0 1714.7,413.9 1714.7,413.9 1714.7,413.9 1714.7,413.8 1714.7,413.8 1714.6,413.8 1714.6,413.8 1714.6,413.8 1714.6,413.8 1714.5,413.7 1714.5,413.7 1714.5,413.7 1714.5,413.7 1714.5,413.7 1716.7,357.0 1716.7,356.7 1717.0,356.7 1735.0,356.5 1735.3,356.5 1735.3,356.8 1741.4,437.9 1741.4,437.9 1741.3,437.9 1741.3,437.9 1741.3,437.9 1741.3,438.0 1741.2,438.0 1741.2,438.0 1741.2,438.0 1741.2,438.0 1741.2,438.1 1741.1,438.1 1741.1,438.1 1741.1,438.1 1741.1,438.2 1741.1,438.2 1741.1,438.2 1742.8,460.4 1742.8,460.4 1742.9,460.9 1742.9,460.9 1742.9,461.0 1743.0,461.4 1743.0,461.4 1743.1,461.4 1743.3,461.8 1743.3,461.9 1743.3,461.9 1743.6,462.2 1743.7,462.3 1743.7,462.3 1744.1,462.6 1744.1,462.6 1744.1,462.6 1744.5,462.8 1744.5,462.8 1744.6,462.8 1745.0,462.9 1745.1,463.0 1745.1,463.0 1745.5,463.0 1745.6,463.0 1751.1,463.0 1751.2,463.0 1751.6,463.0 1751.6,463.0 1751.7,462.9 1752.1,462.8 1752.1,462.8 1752.2,462.8 1752.6,462.6 1752.6,462.6 1752.6,462.6 1753.0,462.3 1753.0,462.3 1753.0,462.3 1753.3,461.9 1753.4,461.9 1753.4,461.9 1753.6,461.5 1753.6,461.5 1753.6,461.4 1753.8,461.0 1753.8,461.0 1754.6,458.4 1754.6,458.4 1754.7,457.7 1754.7,457.6 1754.7,437.7 1754.7,437.7 1754.7,437.7 1754.7,437.6 1754.7,437.6 1754.7,437.6 1754.6,437.6 1754.6,437.5 1754.6,437.5 1754.6,437.5 1754.6,437.5 1754.5,437.5 1754.5,437.4 1754.5,437.4 1754.5,437.4 1754.4,437.4 1754.4,437.4 1754.4,425.3 1754.4,424.9 1761.0,363.4 1761.0,363.1 1761.3,363.1 1764.0,363.1 1764.3,363.1 1764.3,363.4 1764.7,369.1 1764.9,370.4 1765.3,371.6 1766.0,372.7 1766.9,373.7 1768.0,374.4 1769.2,374.9 1769.5,375.0 1769.5,375.3 1769.7,376.6 1769.7,376.6 1769.7,376.6 1769.6,376.6 1769.6,376.6 1769.6,376.6 1769.6,376.6 1769.5,376.6 1769.5,376.7 1769.5,376.7 1769.5,376.7 1769.5,376.7 1769.5,376.8 1769.5,376.8 1769.5,376.8 1769.5,376.9 1769.5,376.9 1774.1,411.3 1774.1,411.3 1774.2,411.8 1774.3,411.8 1774.3,411.9 1774.5,412.3 1774.5,412.3 1774.5,412.4 1774.8,412.8 1774.8,412.8 1774.8,412.8 1775.2,413.2 1775.2,413.2 1775.3,413.2 1775.7,413.4 1775.7,413.5 1775.8,413.5 1776.2,413.6 1776.3,413.6 1776.3,413.6 1776.8,413.7 1776.8,413.7 1776.8,413.7 1777.3,413.7 1777.4,413.7 1777.4,413.7 1777.9,413.5 1777.9,413.5 1777.9,413.5 1778.4,413.3 1778.4,413.3 1778.4,413.3 1778.8,412.9 1778.8,412.9 1778.9,412.9 1779.2,412.5 1779.2,412.5 1779.2,412.5 1779.5,412.0 1779.5,412.0 1779.5,412.0 1779.6,411.5 1779.6,411.5 1779.6,411.4 1779.7,410.9 1779.7,410.9 1779.7,381.9 1779.7,381.7 1779.7,381.7 1779.7,381.6 1779.7,381.6 1779.7,381.6 1779.7,381.6 1790.3,381.6 1790.6,381.6 1790.6,381.9 1790.6,394.2 1790.7,395.5 1791.1,396.7 1791.7,397.8 1792.5,398.8 1793.5,399.6 1794.6,400.2 1795.8,400.6 1797.1,400.7 1803.5,400.7 1803.8,400.7 1803.8,401.0 1804.0,412.6 1804.1,413.4 1806.6,431.0 1806.6,431.0 1808.0,442.9 1808.0,443.1 1809.9,467.4 1810.1,468.6 1810.7,470.8 1811.1,471.9 1811.7,472.9 1812.5,473.8 1813.5,474.5 1814.6,475.1 1815.7,475.4 1816.9,475.5 1817.4,475.5 1818.7,475.4 1820.0,474.9 1821.2,474.3 1822.2,473.3 1823.0,472.2 1823.6,471.0 1823.8,469.6 1824.4,464.2 1824.4,463.8 1826.3,424.8 1826.3,424.8 1828.3,398.5 1828.3,398.3 1830.3,382.9 1830.3,382.6 1830.6,382.5 1831.7,382.1 1832.8,381.5 1833.8,380.8 1834.6,379.9 1835.2,378.8 1835.7,377.6 1835.9,376.4 1837.2,356.1 1837.2,355.9 1838.2,319.7 1838.2,319.4 1838.5,319.4 1840.5,319.4 1840.8,319.4 1840.8,319.7 1840.8,354.8 1840.9,356.0 1841.2,357.1 1844.6,366.2 1845.2,367.4 1848.1,371.9 1848.8,372.8 1849.6,373.6 1850.5,374.2 1853.7,375.8 1854.0,376.0 1854.0,376.3 1856.7,411.6 1859.3,451.0 1859.3,451.2 1860.0,477.2 1860.0,477.8 1861.0,486.2 1861.3,487.5 1861.8,488.6 1862.5,489.7 1863.4,490.6 1864.5,491.3 1865.7,491.7 1867.0,491.9 1868.2,491.9 1869.5,491.6 1870.7,491.1 1871.7,490.4 1872.6,489.5 1873.3,488.4 1873.7,487.2 1874.0,486.0 1875.1,471.0 1877.7,438.1 1877.7,437.9 1879.7,385.2 1879.7,385.2 1880.4,359.2 1880.4,358.9 1880.7,358.8 1881.9,358.4 1883.1,357.8 1884.1,357.1 1885.0,356.1 1885.6,355.0 1886.0,353.8 1886.2,352.6 1894.6,203.9 1894.6,202.5 1894.2,201.3 1893.7,200.1 1892.8,199.0 1891.8,198.2 1890.7,197.5 1889.4,197.1 1888.1,197.0 1886.3,197.0 1886.0,197.0 1885.6,196.5 1885.6,196.5 1885.1,196.0 1884.2,195.3 1883.1,194.7 1881.9,194.4 1880.7,194.3 1878.3,194.3 1877.2,194.4 1876.0,194.7 1875.0,195.3 1874.0,196.0 1873.2,196.8 1872.6,197.8 1872.1,198.9 1872.1,199.1 1871.8,200.9 1871.8,303.4 1871.8,303.7 1871.5,303.7 1866.8,303.7 1866.5,303.7 1866.5,303.4 1866.5,156.1 1866.5,156.1 1866.6,156.1 1866.6,156.1 1866.6,156.1 1866.6,156.1 1866.7,156.1 1866.7,156.1 1866.7,156.0 1866.7,156.0 1866.7,156.0 1866.8,156.0 1866.8,155.9 1866.8,155.9 1866.8,155.9 1866.8,155.9 1866.8,155.8 1866.8,129.6 1866.8,129.5 1866.7,129.0 1866.7,128.9 1866.7,128.9 1866.5,128.4 1866.5,128.4 1865.9,127.1 1865.9,127.1 1865.7,126.7 1865.7,126.7 1865.7,126.6 1865.3,126.3 1865.3,126.3 1865.3,126.2 1864.9,126.0 1864.9,125.9 1864.9,125.9 1864.5,125.7 1864.4,125.7 1864.4,125.7 1864.0,125.6 1863.9,125.5 1863.9,125.5 1863.4,125.5 1863.4,125.5 1857.7,125.5 1857.7,125.5 1857.2,125.5 1857.2,125.5 1857.2,125.6 1856.7,125.7 1856.7,125.7 1856.7,125.7 1856.3,125.9 1856.3,125.9 1856.0,126.1 1856.0,126.1 1855.6,126.4 1855.6,126.4 1855.5,126.4 1855.2,126.8 1855.2,126.8 1855.2,126.8 1854.9,127.2 1854.9,127.3 1854.9,127.3 1854.7,127.8 1854.7,127.8 1854.7,127.8 1854.6,128.3 1854.6,128.3 1853.7,150.0 1853.7,150.0 1853.2,155.2 1853.2,155.2 1853.2,155.3 1853.2,155.3 1853.2,155.3 1853.3,155.4 1853.3,155.4 1853.3,155.4 1853.3,155.4 1853.3,155.5 1853.3,155.5 1853.4,155.5 1853.4,155.5 1853.4,155.5 1853.4,155.5 1853.5,155.5 1853.5,155.5 1848.8,207.2 1848.8,207.5 1848.5,207.5 1846.7,207.5 1845.3,207.6 1844.0,208.1 1842.8,208.7 1841.8,209.7 1841.0,210.8 1840.5,212.0 1840.2,213.3 1838.2,232.2 1838.2,232.5 1837.9,232.5 1835.1,232.5 1833.8,232.6 1832.5,233.1 1831.3,233.7 1830.3,234.7 1829.5,235.8 1829.0,237.0 1828.7,238.3 1826.3,261.5 1826.3,261.5 1823.7,281.0 1823.6,281.5 1819.9,294.2 1819.7,294.8 1817.2,307.4 1817.1,307.6 1817.0,307.4 1812.2,293.7 1811.6,292.4 1811.1,291.6 1810.3,290.5 1809.3,289.7 1808.2,289.0 1806.9,288.6 1805.6,288.5 1804.3,288.5 1804.0,288.5 1803.8,288.4 1803.4,288.2 1803.1,288.0 1803.1,287.7 1800.0,248.4 1800.0,248.4 1798.7,225.0 1798.5,223.8 1798.1,222.7 1797.5,221.6 1796.6,220.7 1795.7,219.9 1794.6,219.4 1793.4,219.0 1792.2,218.9 1791.4,218.9 1790.2,219.0 1789.0,219.3 1788.0,219.9 1787.0,220.6 1786.2,221.4 1785.6,222.5 1785.1,223.6 1784.9,224.3 1784.6,225.7 1782.0,260.0 1780.1,281.8 1780.1,282.1 1779.8,282.1 1778.2,282.3 1776.9,282.6 1775.6,283.1 1774.5,283.9 1773.6,285.0 1772.9,286.1 1772.5,287.4 1772.0,289.8 1772.0,290.2 1769.5,306.8 1769.5,307.1 1769.2,307.1 1762.6,307.1 1762.3,307.1 1762.3,306.8 1761.1,263.4 1760.9,262.2 1760.5,261.0 1759.9,259.9 1759.1,258.9 1758.2,258.2 1757.0,257.6 1755.8,257.2 1754.6,257.1 1753.5,257.1 1752.1,257.2 1750.8,257.7 1749.7,258.3 1748.6,259.2 1747.8,260.3 1747.3,261.6 1747.0,262.9 1744.0,289.8 1744.0,290.2 1743.2,306.2 1743.2,306.5 1742.9,306.5 1742.8,306.5 1742.5,306.5 1742.5,306.2 1742.1,300.1 1741.9,298.9 1741.5,297.8 1740.9,296.7 1740.0,295.8 1739.1,295.0 1738.0,294.5 1736.8,294.1 1735.6,294.0 1733.0,294.1 1731.6,294.2 1730.3,294.7 1729.1,295.3 1728.1,296.3 1727.4,297.4 1727.3,297.5 1726.8,298.6 1724.9,304.2 1724.5,305.8 1723.3,319.7 1723.3,320.0 1723.0,319.9 1722.9,319.9 1722.6,319.8 1722.6,319.5 1722.6,288.8 1722.5,287.5 1722.1,286.3 1721.5,285.2 1720.7,284.2 1719.7,283.4 1718.6,282.8 1717.4,282.4 1716.1,282.3 1711.7,282.3 1711.4,282.3 1711.3,282.0 1711.3,281.7 1710.9,280.5 1710.3,279.4 1709.5,278.3 1708.6,277.5 1707.4,276.9 1706.2,276.5 1704.9,276.4 1702.9,276.4 1701.5,276.5 1700.3,276.9 1699.1,277.6 1698.1,278.5 1697.3,279.5 1696.7,280.7 1691.9,294.2 1691.5,295.8 1691.0,301.1 1691.0,301.4 1690.7,301.4 1686.0,301.4 1685.7,301.4 1685.7,301.1 1685.7,269.7 1685.6,268.4 1685.2,267.2 1684.6,266.1 1683.8,265.1 1682.8,264.3 1681.7,263.7 1680.5,263.3 1679.2,263.2 1678.5,263.2 1677.2,263.3 1676.0,263.7 1674.8,264.4 1673.8,265.2 1673.0,266.3 1672.4,267.5 1672.1,268.8 1669.3,287.9 1669.3,288.1 1667.1,298.7 1667.0,298.9 1666.7,298.5 1666.7,298.5 1666.3,297.9 1665.4,296.9 1664.4,296.2 1663.3,295.7 1662.1,295.4 1660.9,295.3 1659.6,295.5 1658.5,295.9 1657.4,296.5 1656.4,297.3 1655.7,298.3 1655.1,299.4 1654.8,300.6 1654.2,303.7 1654.1,304.0 1653.9,304.2 1649.2,308.9 1648.5,309.8 1647.9,310.8 1647.5,311.9 1647.3,313.0 1645.5,334.7 1645.5,335.0 1644.9,334.7 1643.7,334.3 1642.4,334.2 1641.2,334.3 1639.9,334.6 1638.8,335.2 1637.8,336.0 1637.0,337.0 1636.3,338.1 1636.0,339.3 1635.0,344.1 1634.9,344.4 1634.6,344.4 1624.6,344.4 1624.3,344.4 1624.1,344.3 1623.5,344.0 1623.2,343.8 1623.2,343.5 1623.0,294.3 1622.9,293.0 1622.5,291.8 1621.9,290.7 1621.1,289.7 1620.1,288.9 1619.0,288.3 1617.8,287.9 1616.5,287.8 1610.9,287.8 1609.7,287.9 1608.5,288.2 1607.5,288.8 1606.5,289.5 1605.7,290.4 1605.1,291.4 1604.6,292.5 1604.1,294.2 1603.9,295.8 1601.3,364.6 1601.3,364.7 1601.3,364.6 1600.0,343.8 1598.2,313.0 1598.0,311.8 1597.6,310.7 1597.0,309.6 1596.2,308.7 1595.2,307.9 1594.1,307.4 1593.0,307.0 1591.7,306.9 1590.8,306.9 1589.5,307.0 1588.2,307.4 1587.1,308.1 1586.1,308.9 1585.3,310.0 1584.7,311.2 1584.4,312.4 1582.3,326.3 1582.2,327.1 1581.6,346.0 1581.6,346.4 1581.4,346.7 1579.0,351.4 1578.9,351.7 1578.6,351.7 1573.3,351.0 1573.0,351.0 1573.0,350.7 1573.0,343.8 1572.9,342.5 1572.5,341.3 1571.9,340.2 1571.1,339.2 1565.6,333.8 1564.6,333.0 1563.5,332.4 1562.3,332.0 1561.0,331.9 1560.3,331.9 1559.0,332.0 1557.8,332.4 1556.7,333.0 1555.7,333.8 1554.9,334.7 1554.3,335.8 1554.3,335.9 1553.9,337.0 1553.8,338.2 1553.2,356.7 1553.2,357.0 1552.9,357.0 1548.3,357.0 1548.0,357.0 1547.6,356.8 1546.4,356.3 1546.0,356.2 1546.2,356.1 1547.0,355.1 1547.5,354.0 1547.9,352.8 1548.0,351.6 1548.0,351.1 1547.9,349.9 1547.6,348.7 1547.0,347.7 1546.3,346.7 1545.4,345.9 1544.3,345.3 1543.2,344.8 1542.5,344.7 1542.5,344.7 1541.9,344.6 1541.8,344.6 1541.8,344.6 1541.8,344.5 1541.3,343.5 1540.5,342.5 1539.5,341.7 1539.5,341.7 1539.7,341.4 1540.5,340.4 1541.0,339.2 1541.3,338.0 1541.3,336.8 1541.3,336.6 1541.1,335.3 1540.6,334.1 1536.2,325.3 1535.6,324.3 1529.5,316.3 1529.5,316.2 1528.7,315.1 1527.6,314.1 1526.5,313.5 1525.2,313.0 1523.8,312.9 1523.0,312.9 1521.8,313.0 1520.6,313.3 1519.5,313.9 1518.6,314.6 1517.8,315.5 1517.1,316.6 1516.7,317.7 1516.3,319.4 1516.1,320.6 1515.1,336.0 1515.0,336.0 1515.0,336.0 1515.0,336.0 1514.9,336.0 1514.9,336.0 1514.9,336.0 1514.9,336.0 1514.8,336.1 1514.8,336.1 1514.8,336.1 1514.8,336.1 1514.8,336.2 1514.8,336.2 1514.8,336.2 1514.7,336.2 1514.7,336.3 1514.5,340.0 1513.2,357.4 1513.2,357.4 1513.2,357.4 1513.2,357.5 1513.2,357.5 1513.2,357.5 1513.3,357.5 1513.3,357.6 1513.3,357.6 1513.3,357.6 1513.3,357.6 1513.4,357.7 1513.4,357.7 1513.4,357.7 1513.4,357.7 1513.2,357.7 1510.8,357.7 1509.5,357.8 1508.3,358.2 1507.2,358.8 1506.2,359.6 1505.4,360.6 1504.8,361.7 1504.4,362.9 1504.3,364.2 1504.3,369.9 1504.3,370.1 1503.3,383.8 1503.3,384.0 1503.2,383.8 1503.0,382.9 1503.0,382.7 1499.7,359.0 1498.4,349.4 1498.1,348.2 1497.6,347.2 1497.0,346.2 1496.1,345.3 1495.1,344.6 1494.1,344.2 1492.9,343.9 1488.8,343.3 1488.5,343.2 1488.4,343.1 1488.3,342.3 1485.8,327.6 1485.8,327.2 1485.3,300.2 1485.1,298.9 1484.7,297.7 1484.1,296.6 1483.3,295.7 1482.3,294.9 1481.2,294.3 1480.0,293.9 1478.8,293.8 1472.6,293.8 1471.3,293.9 1470.1,294.3 1469.0,294.9 1468.0,295.7 1467.2,296.7 1466.6,297.8 1466.2,299.0 1466.1,300.3 1466.1,337.7 1466.1,338.0 1466.1,338.0 1466.1,338.0 1466.0,338.0 1466.0,338.0 1466.0,338.0 1466.0,338.0 1465.9,338.0 1465.9,338.0 1465.9,338.0 1465.8,338.0 1465.8,338.0 1465.8,338.0 1465.8,338.0 1465.7,338.0 1465.7,338.1 1465.7,338.1 1465.7,338.1 1460.9,346.5 1460.9,346.5 1460.7,346.9 1460.7,346.9 1460.7,346.9 1460.5,347.4 1460.5,347.4 1460.5,347.4 1460.5,347.8 1460.5,347.9 1460.5,362.8 1460.5,362.9 1460.5,362.9 1460.5,363.0 1460.5,363.0 1460.5,363.0 1460.5,363.1 1460.5,363.1 1460.5,363.1 1459.4,363.3 1458.2,363.6 1457.1,364.2 1456.1,365.0 1455.3,366.0 1454.7,367.2 1454.3,368.4 1454.2,369.6 1454.2,381.1 1454.2,381.4 1453.9,381.6 1452.0,382.8 1450.9,383.6 1450.8,383.8 1450.5,383.8 1450.0,384.0 1449.7,383.9 1447.8,383.6 1447.5,383.5 1446.6,382.8 1445.6,382.4 1444.5,382.1 1443.4,382.0 1441.6,382.0 1440.5,382.1 1439.3,382.4 1438.2,383.0 1437.3,383.7 1436.5,384.6 1435.8,385.6 1435.4,386.7 1433.1,394.6 1432.9,395.4 1429.0,421.0 1429.0,421.0 1427.0,434.9 1427.0,435.3 1426.9,435.3 1426.8,435.1 1426.6,434.5 1426.4,433.6 1422.9,387.8 1422.7,386.6 1422.2,385.4 1421.6,384.4 1420.8,383.5 1419.8,382.7 1418.7,382.2 1417.5,381.9 1414.9,381.5 1414.6,381.4 1414.6,381.1 1411.1,356.7 1410.8,355.4 1410.2,354.2 1409.4,353.2 1408.4,352.3 1407.3,351.6 1406.0,351.2 1404.7,351.1 1402.8,351.1 1401.6,351.2 1400.5,351.5 1399.4,352.0 1398.5,352.8 1397.7,353.6 1397.0,354.6 1396.6,355.7 1395.0,361.0 1394.7,362.2 1392.2,386.7 1392.2,386.7 1391.9,389.6 1391.9,389.6Z" fill="#0000ff"/>
<path d="M441.1,259.4 441.1,259.3 440.9,258.9 440.9,258.9 440.9,258.9 440.5,258.5 440.5,258.5 440.5,258.5 440.1,258.2 440.1,258.2 440.1,258.1 439.7,257.9 439.6,257.9 439.6,257.9 439.1,257.8 439.1,257.8 439.1,257.7 438.6,257.7 438.6,257.7 431.5,257.7 431.4,257.7 431.0,257.7 430.9,257.8 430.9,257.8 430.4,257.9 430.4,257.9 430.4,257.9 429.9,258.1 429.9,258.2 429.9,258.2 429.5,258.5 429.5,258.5 429.5,258.5 429.2,258.9 429.2,258.9 429.1,259.0 428.9,259.4 428.9,259.4 428.9,259.4 428.7,259.9 428.7,259.9 428.7,260.0 428.7,260.4 428.7,260.5 428.4,280.4 428.4,280.5 428.4,280.5 428.4,280.5 428.4,280.5 428.5,280.6 428.5,280.6 428.5,280.6 428.5,280.6 428.5,280.7 428.6,280.7 428.6,280.7 428.6,280.7 428.6,280.7 428.7,280.7 428.7,280.7 428.7,280.7 428.0,338.7 428.0,339.0 427.7,339.0 421.9,339.0 420.5,339.1 419.2,339.6 418.1,340.2 417.0,341.2 416.2,342.3 415.7,343.5 415.4,344.9 414.0,358.7 414.0,358.8 414.0,358.7 412.0,340.0 412.0,340.0 410.5,320.9 410.2,319.6 409.8,318.4 409.1,317.3 408.2,316.4 407.1,315.7 405.9,315.2 405.4,315.1 404.4,314.8 403.3,314.6 403.0,314.6 403.2,314.3 404.0,313.3 404.5,312.2 404.8,311.1 404.9,309.9 404.1,264.3 403.9,263.0 403.5,261.7 402.8,260.6 401.9,259.6 400.8,258.8 399.6,258.3 398.2,258.0 398.0,258.0 398.0,257.7 398.0,226.5 397.9,225.2 397.5,224.0 396.9,222.9 396.1,221.9 395.1,221.1 394.0,220.5 392.8,220.1 391.5,220.0 387.3,220.0 387.0,220.0 387.0,219.7 386.1,182.4 386.0,181.1 385.6,179.9 385.0,178.8 384.2,177.9 383.2,177.1 382.1,176.5 380.9,176.1 379.6,176.0 379.3,176.0 379.0,176.0 379.0,175.7 379.0,119.5 378.9,118.2 378.5,117.0 377.9,115.9 377.1,114.9 376.1,114.1 375.0,113.5 373.8,113.1 372.5,113.0 372.2,113.0 371.0,113.1 369.8,113.5 368.7,114.0 367.7,114.8 366.9,115.7 366.3,116.8 365.9,118.0 365.7,119.2 364.0,157.7 364.0,158.0 363.7,158.0 359.5,158.0 358.2,158.1 357.0,158.5 355.9,159.1 354.9,159.9 354.1,160.9 353.5,162.0 353.1,163.2 353.0,164.5 353.0,187.7 353.0,188.0 352.7,188.0 347.5,188.0 346.2,188.1 345.0,188.5 343.9,189.1 342.9,189.9 342.1,190.9 341.5,192.0 341.1,193.2 341.0,194.5 341.0,239.7 341.0,240.0 340.7,239.9 331.3,238.1 331.0,238.0 331.0,237.7 330.0,200.0 329.1,156.4 329.0,155.1 328.6,153.9 328.0,152.8 327.2,151.9 326.2,151.1 325.1,150.5 323.9,150.1 322.6,150.0 321.9,150.0 320.7,150.1 319.6,150.4 318.5,151.0 317.5,151.7 316.7,152.6 316.1,153.6 315.7,154.7 315.4,155.9 309.0,224.7 309.0,225.0 308.7,225.0 306.5,225.0 305.2,225.1 304.0,225.5 302.9,226.1 301.9,226.9 301.1,227.9 300.5,229.0 300.1,230.2 300.0,231.5 300.0,273.5 300.1,274.8 300.5,276.0 301.1,277.1 301.9,278.1 302.9,278.9 304.0,279.5 305.2,279.9 306.5,280.0 308.5,280.0 309.4,280.1 315.1,281.7 316.9,282.0 321.7,282.0 322.0,282.0 322.0,282.3 322.0,325.9 322.1,327.0 322.4,328.1 329.5,347.8 330.0,348.9 330.7,349.9 331.6,350.7 332.6,351.3 333.8,351.8 335.0,352.0 335.0,352.0 335.0,352.3 335.0,394.5 335.1,395.8 335.5,397.0 336.1,398.1 336.9,399.1 337.9,399.9 339.0,400.5 340.2,400.9 341.5,401.0 342.4,401.0 343.7,400.9 344.9,400.5 346.1,399.8 347.1,399.0 347.9,397.9 348.5,396.7 348.8,395.4 349.0,394.3 349.0,394.0 349.3,394.0 356.5,394.0 357.8,393.9 359.0,393.5 360.1,392.9 361.1,392.1 361.9,391.1 362.5,390.0 362.9,388.8 363.0,387.5 363.0,301.3 363.0,301.0 363.3,301.0 369.7,301.0 370.0,301.0 370.0,301.3 370.9,337.7 371.1,338.9 371.5,340.1 372.1,341.2 372.9,342.2 373.9,342.9 375.0,343.5 376.2,343.9 377.4,344.0 381.3,344.0 382.7,343.9 383.9,343.4 385.1,342.8 386.1,341.9 386.9,340.8 387.5,339.6 387.9,338.3 388.0,338.0 388.3,337.9 388.6,337.7 389.8,337.0 390.7,336.0 391.5,334.8 392.0,333.6 392.2,332.2 393.0,316.3 393.0,316.0 393.3,316.0 395.7,316.0 396.0,316.0 396.5,316.2 397.7,316.4 398.0,316.4 397.8,316.7 397.0,317.6 396.5,318.7 396.2,319.9 396.1,321.1 397.0,379.6 397.0,380.4 397.3,382.4 397.6,383.6 398.1,384.7 398.8,385.8 399.7,386.7 400.7,387.3 401.9,387.8 402.8,388.0 403.0,388.0 403.0,388.3 404.0,399.9 404.0,400.1 404.0,460.9 404.1,462.0 404.3,463.0 404.5,463.6 405.1,464.8 405.9,465.9 406.9,466.8 408.1,467.4 409.3,467.9 410.7,468.0 415.7,468.0 417.0,467.9 418.2,467.5 419.3,467.0 420.2,466.2 421.1,465.2 421.7,464.1 422.1,463.0 422.2,461.7 423.0,440.1 423.0,439.9 424.0,426.3 424.0,426.0 424.3,426.0 433.7,426.0 434.0,426.0 434.1,426.3 434.1,426.6 434.4,427.8 435.0,429.0 435.8,430.0 436.8,430.9 438.0,431.5 439.2,431.9 440.5,432.0 440.6,432.0 441.9,431.9 443.1,431.5 444.2,430.9 445.2,430.1 446.0,429.2 446.6,428.1 447.0,426.9 447.1,425.6 448.0,382.3 448.0,382.0 448.3,382.0 453.7,382.0 454.0,382.0 454.0,382.3 455.0,408.9 455.1,410.0 455.4,411.0 456.4,413.8 457.0,415.0 457.8,416.0 458.8,416.8 459.9,417.5 461.2,417.9 462.5,418.0 465.7,418.0 467.0,417.9 468.2,417.5 469.3,417.0 470.2,416.2 471.0,415.2 471.7,414.1 472.1,413.0 472.2,411.7 473.0,389.3 473.0,389.0 473.3,389.0 478.7,389.0 479.0,389.0 479.0,389.3 484.9,439.1 485.4,440.9 490.6,453.1 491.2,454.2 492.0,455.1 493.0,455.9 494.1,456.5 495.3,456.9 496.6,457.0 496.9,457.0 498.1,456.9 499.3,456.5 500.4,456.0 501.3,455.2 502.1,454.3 502.8,453.2 503.2,452.1 503.4,450.9 504.0,440.0 504.0,440.0 506.0,400.0 506.0,400.0 509.0,358.3 509.0,358.2 509.0,358.3 512.0,395.0 512.0,395.0 514.9,429.4 515.2,430.6 515.7,432.3 516.1,433.4 516.7,434.4 517.5,435.3 518.5,436.0 519.6,436.6 520.7,436.9 521.9,437.0 525.9,437.0 527.0,436.9 528.2,436.6 529.2,436.1 530.1,435.4 531.0,434.6 532.8,432.2 533.0,432.0 533.4,431.7 533.4,431.7 534.2,431.1 535.0,430.1 535.6,429.0 535.9,427.9 536.1,426.6 537.0,394.3 537.0,394.0 537.3,394.0 540.7,394.0 541.0,394.0 541.0,394.3 541.0,438.5 541.1,439.8 541.5,441.0 542.1,442.1 542.9,443.1 543.9,443.9 545.0,444.5 546.2,444.9 547.5,445.0 550.7,445.0 551.0,445.0 551.0,445.3 553.0,460.0 553.0,460.0 554.0,469.1 554.0,469.1 554.0,469.1 553.9,469.1 553.9,469.1 553.9,469.1 553.9,469.1 553.8,469.1 553.8,469.1 553.8,469.2 553.8,469.2 553.8,469.2 553.8,469.2 553.8,469.3 553.7,469.3 553.7,469.3 553.7,469.4 553.7,469.4 554.6,477.4 554.6,477.4 554.7,477.8 554.7,477.8 554.7,477.9 554.9,478.3 554.9,478.3 554.9,478.3 555.2,478.7 555.2,478.7 557.0,481.2 557.0,481.2 557.3,481.5 557.4,481.6 557.4,481.6 557.7,481.9 557.8,481.9 557.8,481.9 558.2,482.1 558.2,482.1 558.3,482.1 558.7,482.2 558.7,482.3 558.8,482.3 559.2,482.3 559.2,482.3 564.5,482.3 564.5,482.3 565.0,482.3 565.0,482.2 565.1,482.2 565.5,482.1 565.6,482.1 565.6,482.1 566.0,481.8 566.1,481.8 566.1,481.8 566.5,481.5 566.5,481.5 566.5,481.5 566.8,481.1 566.8,481.1 566.8,481.0 567.1,480.6 567.1,480.6 567.1,480.5 567.2,480.1 567.2,480.0 567.3,480.0 567.3,479.5 567.3,479.5 567.3,468.6 567.3,468.6 567.3,468.6 567.3,468.6 567.3,468.5 567.3,468.5 567.2,468.5 567.2,468.4 567.2,468.4 567.2,468.4 567.2,468.4 567.1,468.4 567.1,468.4 567.1,468.4 567.1,468.3 567.0,468.3 567.0,468.3 567.0,468.3 567.0,440.3 567.0,440.0 567.3,440.0 571.7,440.0 572.0,440.0 572.0,440.3 573.0,469.9 573.0,470.1 575.9,514.0 576.1,515.0 576.4,516.0 578.3,520.7 578.9,521.9 579.7,522.9 580.7,523.8 581.9,524.4 583.2,524.7 584.5,524.8 585.8,524.7 587.0,524.2 588.2,523.6 589.1,522.7 589.9,521.7 590.5,520.5 590.8,519.2 591.9,510.4 592.0,509.6 592.0,468.3 592.0,468.0 592.3,468.0 598.7,468.0 599.0,468.0 599.1,468.3 599.8,470.6 600.2,471.8 601.0,472.9 601.9,473.9 603.0,474.6 603.7,474.9 604.0,475.0 604.0,475.3 605.9,499.4 606.2,500.6 606.7,502.3 607.1,503.4 607.7,504.4 608.5,505.3 609.5,506.0 610.6,506.6 611.7,506.9 612.9,507.0 616.1,507.0 617.3,506.9 618.4,506.6 619.5,506.0 620.5,505.3 621.3,504.4 621.9,503.4 622.3,502.3 622.8,500.7 623.0,499.3 625.0,470.3 625.0,470.0 625.3,470.0 627.7,470.0 628.0,470.0 628.0,470.3 628.0,503.5 628.2,505.0 628.7,506.4 630.2,509.4 630.8,510.4 631.6,511.3 632.6,512.0 633.7,512.6 634.8,512.9 636.0,513.0 641.8,513.0 643.2,512.9 644.5,512.4 645.7,511.8 646.7,510.9 647.5,509.8 648.0,508.5 648.3,507.2 649.0,501.3 649.0,501.0 649.3,501.0 652.7,501.0 653.0,501.0 653.0,501.3 653.0,543.5 653.2,545.0 653.7,546.4 654.2,547.4 654.8,548.4 655.6,549.3 656.6,550.0 657.7,550.6 658.8,550.9 660.0,551.0 660.3,551.0 661.7,550.9 662.9,550.4 664.1,549.8 665.1,548.9 665.9,547.8 666.5,546.6 666.7,546.0 666.9,545.0 667.0,543.9 667.0,457.5 666.9,456.3 666.6,455.1 666.0,454.0 665.3,453.1 664.4,452.3 663.4,451.6 662.3,451.2 661.1,451.0 661.0,451.0 661.0,450.7 661.0,447.3 660.9,446.0 660.4,444.7 659.8,443.5 658.8,442.5 657.7,441.7 656.5,441.1 656.0,441.0 656.0,440.7 655.7,438.7 655.4,437.4 654.8,436.2 654.0,435.1 653.0,434.2 651.9,433.5 650.6,433.1 649.3,433.0 647.6,433.0 646.3,433.1 645.1,433.5 643.9,434.2 642.9,435.0 642.1,436.1 641.5,437.3 641.2,438.6 641.0,439.9 641.0,440.1 638.1,452.7 638.0,452.9 637.8,452.8 635.2,449.3 635.0,449.0 635.0,448.7 635.0,408.5 634.9,407.2 634.5,406.0 633.9,404.9 633.1,403.9 632.1,403.1 631.0,402.5 629.8,402.1 628.5,402.0 625.7,402.0 624.4,402.1 623.2,402.5 622.1,403.1 621.1,403.9 620.9,404.1 620.1,405.1 619.5,406.2 617.5,410.9 617.1,412.0 617.0,413.2 616.0,439.7 616.0,440.0 615.8,440.2 614.2,441.8 614.0,441.9 614.0,441.7 613.0,435.0 610.8,418.6 610.5,417.3 609.9,416.1 609.1,415.1 608.1,414.2 606.9,413.5 605.6,413.1 604.3,413.0 598.3,413.0 598.0,413.0 598.0,412.7 598.0,394.5 597.9,393.2 597.5,392.0 596.9,390.9 596.1,389.9 595.1,389.1 594.0,388.5 592.8,388.1 591.5,388.0 590.5,388.0 589.2,388.1 588.0,388.5 586.9,389.1 585.9,389.9 585.1,390.9 584.5,392.0 584.1,393.2 584.0,394.5 584.0,406.7 584.0,407.0 583.7,406.9 578.3,406.1 578.0,406.0 578.0,405.7 577.0,392.1 577.0,391.9 575.0,372.3 574.9,371.7 573.7,365.6 573.3,364.3 572.7,363.2 571.8,362.2 570.8,361.4 569.6,360.8 568.3,360.5 567.0,360.4 565.7,360.6 564.5,361.0 563.4,361.7 562.4,362.7 561.7,363.7 561.1,365.0 560.9,366.2 557.0,405.7 557.0,406.0 556.7,406.0 555.3,406.0 555.0,406.0 555.0,405.7 554.0,370.0 554.0,370.0 553.0,340.3 553.0,339.7 550.0,315.1 550.0,314.9 548.8,306.6 548.5,305.3 547.9,304.1 547.1,303.0 546.1,302.2 544.9,301.5 543.7,301.1 542.4,301.0 541.5,301.0 540.2,301.1 539.0,301.5 537.9,302.1 536.9,302.9 536.1,303.9 535.5,305.0 535.1,306.2 535.0,307.5 535.0,338.7 535.0,339.0 534.4,339.0 534.4,339.0 533.3,339.1 532.1,339.6 530.9,340.2 529.9,341.1 529.1,342.2 528.5,343.4 528.2,344.3 527.9,345.7 526.0,362.7 526.0,362.9 525.9,362.7 524.0,355.2 524.0,354.8 522.6,343.6 522.3,342.3 521.7,341.1 520.9,340.0 519.9,339.1 518.7,338.5 517.4,338.1 517.3,338.1 517.0,338.0 517.0,337.7 517.0,300.2 517.0,299.8 516.3,288.1 516.2,286.9 515.7,285.8 515.1,284.7 514.3,283.8 513.3,283.0 512.3,282.5 511.1,282.1 509.9,282.0 509.7,282.0 508.3,282.1 507.1,282.6 505.9,283.2 504.9,284.1 504.1,285.2 503.5,286.4 503.2,287.3 502.9,288.7 495.0,365.8 494.9,366.2 494.1,369.7 494.0,369.9 494.0,369.7 493.0,350.1 493.0,349.9 491.3,325.2 491.1,323.9 490.6,322.7 489.9,321.6 489.0,320.6 488.2,320.1 488.0,320.0 488.0,319.7 487.0,300.0 487.0,300.0 486.2,275.3 486.0,274.1 485.6,272.9 485.0,271.8 484.2,270.8 483.3,270.1 482.1,269.5 480.9,269.1 479.7,269.0 478.5,269.0 477.2,269.1 476.0,269.5 474.9,270.1 473.9,270.9 473.1,271.9 472.5,273.0 472.1,274.2 472.0,275.5 472.0,288.7 472.0,289.0 471.6,289.1 470.3,289.6 469.2,290.4 468.3,291.4 467.6,292.6 467.1,293.9 467.0,295.3 467.0,331.7 467.0,332.0 466.7,332.0 461.3,332.0 461.0,332.0 461.0,331.7 461.0,326.5 460.9,325.2 460.5,324.0 459.9,322.9 459.1,321.9 458.1,321.1 457.0,320.5 455.8,320.1 454.5,320.0 443.3,320.0 443.0,320.0 443.0,319.7 441.7,280.6 441.8,280.6 441.8,280.6 441.8,280.6 441.8,280.6 441.9,280.6 441.9,280.5 441.9,280.5 441.9,280.5 442.0,280.5 442.0,280.5 442.0,280.4 442.0,280.4 442.0,280.4 442.0,280.3 442.0,280.3 442.0,280.3 441.4,260.4 441.4,260.4 441.3,259.9 441.3,259.9 441.3,259.8 441.1,259.4ZM1889.8,363.8 1891.0,363.4 1892.1,362.8 1893.1,362.0 1893.9,361.0 1894.5,359.9 1894.9,358.7 1895.0,357.4 1895.0,272.5 1894.9,271.2 1894.5,270.0 1893.9,268.9 1893.1,267.9 1892.1,267.1 1891.0,266.5 1889.8,266.1 1888.5,266.0 1886.3,266.0 1886.0,266.0 1885.6,265.5 1885.6,265.5 1885.1,264.9 1884.1,264.0 1883.0,263.4 1881.7,263.0 1880.5,262.9 1878.6,262.9 1877.4,263.0 1876.2,263.4 1875.1,263.9 1874.1,264.7 1873.3,265.6 1872.7,266.7 1872.3,267.9 1872.0,269.3 1871.8,270.7 1870.2,360.2 1870.2,360.2 1870.2,360.2 1870.1,360.2 1870.1,360.2 1870.1,360.2 1870.1,360.2 1870.0,360.2 1870.0,360.2 1870.0,360.3 1870.0,360.3 1870.0,360.3 1869.9,360.3 1869.9,360.4 1869.9,360.4 1869.9,360.4 1869.9,360.4 1869.9,360.5 1869.7,371.9 1869.7,371.9 1869.7,372.0 1869.7,372.0 1869.7,372.0 1869.7,372.0 1867.3,372.0 1867.0,372.0 1867.0,371.7 1866.5,209.9 1866.4,208.6 1866.0,207.4 1865.4,206.3 1864.6,205.3 1863.6,204.5 1862.4,203.9 1861.2,203.5 1859.9,203.4 1858.7,203.5 1857.4,203.9 1856.3,204.6 1855.3,205.4 1854.5,206.4 1854.0,207.5 1853.6,208.8 1853.5,209.6 1853.4,210.4 1851.0,250.0 1849.4,276.4 1849.4,276.7 1849.1,276.7 1846.2,276.7 1844.9,276.8 1843.7,277.2 1842.5,277.8 1841.5,278.6 1840.7,279.6 1840.1,280.7 1839.8,282.0 1838.3,289.4 1838.2,290.6 1838.2,300.8 1838.2,301.1 1837.9,301.1 1834.2,301.1 1832.9,301.2 1831.7,301.6 1830.6,302.2 1829.6,303.0 1828.8,304.0 1828.2,305.1 1827.8,306.3 1827.7,307.6 1827.6,321.1 1827.6,321.1 1827.5,321.1 1827.5,321.1 1827.5,321.1 1827.5,321.1 1827.4,321.1 1827.4,321.1 1827.4,321.1 1827.4,321.2 1827.3,321.2 1827.3,321.2 1827.3,321.2 1827.3,321.3 1827.3,321.3 1827.3,321.3 1827.3,321.3 1827.3,321.4 1827.2,330.9 1827.2,331.1 1824.6,342.9 1824.6,342.9 1824.6,342.9 1824.6,342.9 1824.6,343.0 1824.6,343.0 1824.6,343.0 1824.6,343.1 1824.6,343.1 1824.6,343.1 1824.6,343.1 1824.6,343.2 1824.7,343.2 1824.7,343.2 1824.7,343.2 1824.7,343.2 1824.8,343.2 1824.8,343.2 1824.8,343.2 1822.2,354.8 1822.2,355.2 1818.1,381.3 1818.0,381.6 1817.7,381.6 1817.3,381.6 1817.0,381.6 1817.0,381.3 1816.0,375.0 1815.1,368.7 1814.8,367.4 1814.2,366.2 1813.4,365.1 1812.4,364.3 1811.2,363.6 1810.0,363.2 1808.7,363.1 1804.1,363.1 1803.8,363.1 1803.8,362.8 1800.0,338.2 1800.0,337.8 1798.6,294.3 1798.4,293.1 1798.1,291.9 1797.4,290.8 1796.6,289.8 1795.7,289.1 1794.5,288.5 1793.4,288.1 1792.1,288.0 1791.0,288.0 1789.8,288.1 1788.7,288.5 1787.6,289.0 1786.6,289.7 1785.8,290.7 1785.2,291.7 1784.8,292.8 1784.6,294.0 1782.0,330.0 1780.1,356.2 1780.1,356.5 1779.8,356.5 1779.4,356.5 1778.2,356.6 1777.1,356.9 1776.0,357.5 1775.0,358.2 1774.2,359.1 1773.6,360.1 1773.2,361.2 1772.9,362.4 1772.0,371.8 1771.9,372.2 1769.7,381.5 1769.6,382.1 1769.5,382.2 1769.2,382.2 1763.3,382.2 1763.0,382.2 1762.8,382.0 1762.6,381.8 1762.3,381.6 1762.3,381.3 1761.1,332.5 1760.9,331.3 1760.5,330.1 1759.9,329.0 1759.1,328.0 1758.2,327.3 1757.0,326.7 1755.8,326.3 1754.6,326.2 1753.4,326.2 1752.2,326.3 1751.0,326.6 1750.0,327.2 1749.0,327.9 1748.2,328.8 1747.6,329.9 1747.1,331.0 1746.9,332.2 1744.0,370.0 1744.0,370.0 1743.2,381.3 1743.2,381.6 1742.9,381.6 1742.8,381.6 1742.5,381.6 1742.5,381.3 1742.1,375.8 1741.9,374.6 1741.5,373.4 1740.9,372.4 1740.1,371.5 1739.1,370.7 1738.0,370.2 1736.9,369.8 1735.6,369.7 1734.5,369.7 1733.2,369.8 1732.0,370.2 1730.8,370.9 1729.8,371.7 1729.5,372.2 1729.2,372.5 1728.9,372.6 1727.6,373.1 1726.5,373.8 1725.6,374.7 1724.9,375.8 1724.4,377.0 1724.2,378.3 1723.3,389.7 1723.3,390.0 1723.0,389.9 1722.9,389.8 1722.6,389.7 1722.6,389.4 1722.6,363.9 1722.5,362.6 1722.1,361.4 1721.5,360.3 1720.7,359.3 1719.7,358.5 1718.6,357.9 1717.4,357.5 1716.1,357.4 1711.1,357.4 1710.8,357.4 1710.8,357.1 1710.8,350.7 1710.7,349.4 1710.3,348.2 1709.7,347.1 1708.9,346.1 1707.9,345.3 1706.8,344.7 1705.6,344.3 1704.3,344.2 1703.7,344.2 1702.4,344.3 1701.2,344.7 1700.1,345.3 1699.1,346.2 1698.3,347.2 1697.7,348.4 1697.0,350.0 1697.0,350.2 1692.1,360.9 1691.7,362.0 1691.5,363.2 1691.0,370.3 1691.0,370.6 1690.7,370.6 1686.0,369.9 1685.7,369.9 1685.7,369.6 1685.7,338.8 1685.6,337.5 1685.2,336.3 1684.6,335.2 1683.8,334.2 1682.8,333.4 1681.7,332.8 1680.5,332.4 1679.2,332.3 1678.5,332.3 1677.2,332.4 1676.0,332.8 1674.9,333.4 1673.9,334.2 1673.1,335.2 1672.5,336.4 1672.1,337.6 1669.3,352.7 1669.3,352.9 1667.0,368.3 1667.0,368.5 1666.9,368.3 1666.6,367.6 1666.0,366.4 1665.2,365.4 1664.2,364.5 1663.0,363.9 1661.8,363.5 1660.5,363.4 1659.2,363.6 1657.9,364.0 1656.8,364.6 1655.8,365.5 1655.0,366.5 1654.4,367.7 1654.1,368.6 1654.1,368.6 1647.7,385.3 1647.4,386.1 1645.6,393.6 1645.5,394.5 1645.4,394.6 1645.4,394.6 1645.4,394.6 1645.4,394.6 1645.4,394.6 1645.3,394.6 1645.3,394.6 1645.3,394.6 1645.2,394.7 1645.2,394.7 1645.2,394.7 1645.2,394.7 1645.2,394.7 1645.1,394.8 1645.1,394.8 1645.1,394.8 1645.1,394.8 1645.1,394.9 1645.1,394.9 1644.2,404.5 1643.9,407.2 1643.9,407.3 1643.9,407.3 1643.9,407.4 1643.9,407.4 1643.9,407.4 1642.3,407.2 1640.9,407.2 1639.6,407.5 1638.4,408.1 1637.3,408.9 1636.4,409.9 1635.7,411.1 1635.0,412.7 1634.9,413.0 1634.6,413.0 1624.6,412.3 1624.3,412.3 1624.3,412.0 1623.1,369.2 1622.9,368.0 1622.5,366.8 1621.9,365.7 1621.1,364.7 1620.1,364.0 1619.0,363.4 1617.8,363.0 1616.6,362.9 1610.9,362.9 1609.7,363.0 1608.5,363.3 1607.5,363.9 1606.5,364.6 1605.7,365.4 1605.1,366.5 1604.6,367.6 1604.1,369.2 1603.9,370.8 1602.0,431.1 1602.1,432.4 1602.4,433.6 1603.0,434.7 1603.1,434.9 1603.1,435.0 1601.9,435.4 1601.9,435.4 1601.7,435.2 1601.5,435.0 1601.3,434.7 1601.3,434.3 1599.3,401.9 1599.3,401.7 1598.2,388.0 1598.0,386.8 1597.6,385.7 1597.0,384.6 1596.2,383.7 1595.2,383.0 1594.1,382.4 1593.0,382.1 1591.8,382.0 1590.5,382.0 1589.2,382.1 1588.1,382.5 1587.0,383.0 1586.0,383.8 1585.2,384.7 1584.6,385.8 1584.2,386.9 1584.0,388.1 1582.2,420.6 1582.1,421.4 1580.1,427.7 1580.0,427.9 1579.6,427.5 1579.6,427.6 1579.5,427.4 1578.3,426.6 1577.1,426.1 1575.7,425.8 1573.3,425.5 1573.0,425.5 1573.0,425.2 1573.0,412.0 1572.8,410.6 1572.4,409.3 1571.7,408.1 1570.7,407.1 1565.5,402.6 1564.6,402.0 1563.6,401.5 1562.5,401.2 1561.3,401.1 1560.4,401.1 1559.1,401.2 1557.9,401.6 1556.8,402.1 1555.9,402.9 1555.1,403.9 1554.4,404.9 1554.0,406.1 1553.9,407.4 1553.2,425.2 1553.2,425.5 1552.9,425.5 1548.3,425.5 1548.3,425.5 1548.3,425.5 1548.3,425.4 1548.3,425.4 1548.3,425.2 1548.3,415.5 1548.3,415.5 1548.2,415.0 1548.2,415.0 1548.2,414.9 1548.1,414.5 1548.1,414.4 1548.1,414.4 1547.8,414.0 1547.8,414.0 1547.8,413.9 1547.5,413.6 1547.5,413.5 1547.4,413.5 1547.1,413.2 1547.0,413.2 1547.0,413.2 1546.6,412.9 1546.6,412.9 1546.5,412.9 1546.1,412.8 1546.0,412.8 1546.0,412.8 1545.5,412.7 1545.5,412.7 1536.3,412.8 1536.1,412.8 1536.1,412.8 1536.0,412.8 1536.0,412.8 1536.0,412.8 1536.0,412.8 1535.9,411.8 1535.9,411.8 1534.7,397.3 1534.5,396.0 1534.0,394.9 1530.6,388.1 1530.6,387.9 1529.7,386.0 1529.1,384.9 1528.3,383.9 1527.3,383.2 1526.2,382.6 1525.0,382.2 1523.8,382.1 1523.4,382.1 1522.1,382.2 1520.9,382.6 1519.7,383.2 1518.8,384.0 1517.9,385.0 1517.4,386.1 1517.0,387.4 1516.2,391.6 1516.1,392.4 1514.8,411.8 1514.8,411.8 1513.9,421.5 1513.9,422.8 1514.2,424.0 1514.6,425.0 1514.0,425.5 1513.8,425.8 1513.5,426.2 1513.2,426.2 1510.8,426.2 1509.5,426.3 1508.3,426.7 1507.2,427.3 1506.2,428.1 1505.4,429.1 1504.8,430.2 1504.4,431.4 1504.3,432.7 1504.3,439.8 1504.3,440.2 1503.4,448.9 1503.4,450.1 1503.6,451.4 1503.8,451.8 1503.3,452.2 1503.0,452.6 1502.8,452.3 1502.4,451.6 1502.3,451.3 1502.3,451.0 1499.0,425.0 1499.0,425.0 1498.3,418.9 1498.0,417.6 1497.5,416.3 1496.7,415.2 1495.7,414.3 1494.5,413.7 1493.2,413.2 1491.9,413.1 1488.8,413.1 1488.5,413.1 1488.4,412.8 1487.2,406.7 1487.2,406.3 1485.4,369.2 1485.2,368.0 1484.8,366.8 1484.2,365.7 1483.3,364.8 1482.4,364.0 1481.3,363.5 1480.1,363.1 1478.9,363.0 1472.6,363.0 1471.3,363.1 1470.1,363.5 1469.0,364.1 1468.0,364.9 1467.2,365.9 1466.6,367.0 1466.2,368.2 1466.1,369.5 1466.1,406.2 1466.1,406.5 1466.0,406.7 1464.8,408.8 1464.8,408.8 1464.8,408.8 1464.7,408.7 1464.7,408.7 1464.7,408.7 1464.7,408.7 1464.6,408.7 1464.6,408.7 1464.6,408.7 1464.5,408.8 1464.5,408.8 1464.5,408.8 1464.5,408.8 1464.4,408.8 1464.4,408.8 1464.4,408.9 1464.4,408.9 1460.9,415.0 1460.9,415.0 1460.7,415.4 1460.7,415.4 1460.7,415.4 1460.5,415.9 1460.5,415.9 1460.5,415.9 1460.5,416.3 1460.5,416.4 1460.5,432.5 1460.5,432.7 1460.5,432.7 1460.5,432.8 1460.5,432.8 1460.5,432.8 1460.2,432.8 1460.2,432.9 1459.4,432.9 1458.2,433.3 1457.1,433.9 1456.1,434.7 1455.3,435.7 1454.7,436.8 1454.3,438.0 1454.2,439.3 1454.2,441.1 1454.3,442.4 1454.7,443.7 1455.4,444.8 1456.3,445.8 1457.3,446.6 1458.5,447.2 1459.8,447.5 1461.1,447.6 1462.4,447.3 1463.7,446.9 1464.8,446.1 1465.7,445.2 1466.1,444.7 1466.4,444.6 1467.5,444.4 1468.7,444.1 1469.8,443.5 1470.8,442.7 1471.6,441.7 1472.2,440.5 1472.6,439.3 1472.7,438.1 1472.7,436.7 1472.7,436.7 1472.8,436.7 1472.8,436.7 1472.8,436.7 1472.8,436.7 1472.9,436.7 1472.9,436.6 1472.9,436.6 1472.9,436.6 1472.9,436.6 1473.0,436.6 1473.0,436.5 1473.0,436.5 1473.0,436.5 1473.0,436.4 1473.0,436.4 1473.0,418.6 1473.0,418.4 1473.0,418.4 1473.0,418.3 1473.0,418.3 1473.0,418.3 1473.0,418.3 1476.3,418.3 1476.6,418.3 1476.6,418.6 1476.6,431.6 1476.7,432.9 1477.1,434.1 1477.7,435.2 1478.5,436.2 1479.5,437.0 1480.6,437.6 1481.8,438.0 1483.1,438.1 1486.9,438.1 1487.2,438.1 1487.2,438.4 1491.1,488.2 1492.6,507.9 1492.8,509.1 1493.2,510.2 1493.8,511.3 1494.6,512.2 1495.6,512.9 1496.7,513.5 1497.8,513.8 1499.0,513.9 1504.4,513.9 1505.7,513.8 1506.9,513.4 1508.0,512.8 1509.0,512.0 1509.8,511.0 1510.4,509.9 1510.8,508.7 1510.9,507.4 1510.9,471.4 1511.0,470.6 1514.2,458.5 1514.4,457.2 1514.3,455.9 1514.0,454.6 1514.0,454.5 1514.6,454.0 1515.4,453.0 1515.9,451.9 1516.1,451.3 1516.4,451.2 1517.4,451.0 1518.5,450.6 1519.6,450.0 1520.5,449.2 1521.3,448.2 1521.9,447.1 1522.2,446.0 1525.2,431.2 1525.3,429.9 1525.2,428.6 1524.8,427.4 1524.6,427.0 1525.4,426.2 1526.1,425.2 1526.6,424.0 1526.7,423.6 1527.0,423.6 1531.1,423.0 1531.1,423.0 1531.1,423.0 1531.1,423.0 1531.1,423.1 1531.1,423.1 1531.2,423.1 1531.2,423.1 1531.2,423.2 1531.2,423.2 1531.2,423.2 1531.3,423.2 1531.3,423.2 1531.3,423.2 1531.4,423.2 1531.4,423.2 1531.4,423.2 1531.4,423.2 1535.8,422.6 1539.6,426.3 1539.6,426.3 1539.6,426.3 1539.6,431.8 1539.6,431.8 1539.6,431.9 1539.6,431.9 1539.6,431.9 1539.7,431.9 1539.7,432.0 1539.7,432.0 1539.7,432.0 1539.7,432.0 1539.8,432.0 1539.8,432.1 1539.8,432.1 1539.8,432.1 1539.9,432.1 1539.9,432.1 1539.9,432.1 1540.0,457.2 1540.1,458.5 1540.5,459.7 1541.1,460.8 1541.9,461.8 1542.9,462.6 1544.0,463.2 1545.2,463.6 1546.5,463.7 1548.0,463.7 1549.3,463.6 1550.5,463.2 1551.6,462.6 1552.6,461.8 1553.4,460.8 1554.0,459.7 1554.4,458.5 1554.5,457.2 1554.5,452.1 1554.5,451.8 1554.8,451.8 1568.0,451.2 1568.3,451.2 1568.4,451.5 1571.6,467.6 1571.6,467.8 1572.4,471.1 1572.7,472.3 1573.4,473.4 1574.2,474.4 1575.1,475.1 1576.3,475.7 1577.5,476.1 1578.7,476.2 1579.6,476.2 1580.8,476.1 1582.1,475.7 1583.2,475.1 1584.2,474.2 1585.0,473.2 1585.6,472.1 1586.0,470.8 1586.0,470.6 1586.1,469.4 1586.1,448.2 1586.1,447.9 1586.4,447.9 1590.4,447.9 1590.7,447.9 1590.7,448.2 1590.7,468.7 1590.8,470.1 1591.3,471.4 1591.9,472.5 1592.8,473.5 1597.8,478.0 1598.0,478.2 1598.1,478.5 1598.2,478.6 1598.8,479.6 1599.6,480.4 1600.6,481.1 1601.6,481.7 1602.8,482.0 1604.0,482.1 1604.6,482.1 1605.9,482.0 1607.1,481.6 1608.2,481.0 1609.2,480.2 1610.0,479.2 1610.6,478.1 1611.0,476.9 1611.1,475.6 1611.1,441.3 1611.0,440.0 1610.6,438.7 1610.0,437.6 1610.5,437.5 1610.6,437.5 1611.1,437.3 1611.4,437.3 1617.4,437.3 1617.7,437.3 1617.7,437.9 1617.7,437.9 1617.8,438.9 1618.3,440.2 1618.9,441.3 1619.9,442.4 1621.0,443.2 1622.2,443.7 1622.5,443.8 1623.0,443.9 1623.0,444.2 1624.3,454.5 1624.3,454.5 1627.0,480.8 1627.0,480.8 1628.7,500.9 1629.0,502.1 1629.4,503.3 1630.1,504.3 1631.0,505.3 1632.0,506.0 1633.2,506.5 1634.4,506.8 1635.7,506.8 1636.9,506.6 1638.1,506.1 1639.2,505.5 1640.1,504.6 1640.8,503.6 1642.0,501.5 1642.5,500.5 1642.8,499.4 1642.9,498.3 1643.0,445.3 1643.0,445.0 1643.3,444.8 1644.7,443.9 1645.0,443.7 1645.3,443.7 1647.3,443.7 1648.5,443.6 1649.7,443.2 1650.8,442.7 1651.7,441.9 1652.5,441.0 1653.2,440.0 1653.6,438.8 1653.8,437.6 1654.8,420.1 1654.8,419.9 1655.6,412.6 1655.6,412.6 1655.7,412.6 1655.7,412.6 1655.7,412.6 1655.7,412.6 1655.8,412.5 1655.8,412.5 1655.8,412.5 1655.8,412.5 1655.9,412.5 1655.9,412.4 1655.9,412.4 1655.9,412.4 1655.9,412.4 1655.9,412.3 1655.9,412.3 1657.2,400.7 1657.2,400.7 1657.2,400.1 1659.3,404.8 1659.4,405.0 1659.4,405.2 1660.5,414.9 1660.5,414.9 1660.4,414.9 1660.4,414.9 1660.4,414.9 1660.3,414.9 1660.3,414.9 1660.3,415.0 1660.3,415.0 1660.3,415.0 1660.2,415.0 1660.2,415.0 1660.2,415.1 1660.2,415.1 1660.2,415.1 1660.2,415.2 1660.2,415.2 1660.2,415.2 1660.7,420.0 1660.7,420.0 1660.7,420.1 1660.7,420.1 1661.4,423.9 1661.4,423.9 1661.5,424.4 1661.5,424.4 1661.5,424.4 1661.7,424.9 1661.8,424.9 1661.8,424.9 1662.1,425.3 1662.1,425.3 1662.1,425.4 1662.5,425.7 1662.5,425.7 1662.6,425.7 1663.0,426.0 1663.0,426.0 1663.0,426.0 1663.5,426.1 1663.6,426.1 1663.6,426.1 1664.1,426.2 1664.1,426.2 1669.1,426.2 1669.1,426.2 1669.6,426.2 1669.6,426.2 1669.6,426.1 1670.1,426.0 1670.1,426.0 1670.1,426.0 1670.5,425.8 1670.6,425.8 1670.6,425.7 1671.0,425.5 1671.0,425.4 1671.0,425.4 1671.3,425.1 1671.3,425.0 1671.3,425.0 1671.6,424.6 1671.6,424.6 1671.6,424.6 1671.8,424.1 1671.8,424.1 1672.8,420.1 1672.8,420.1 1672.8,420.0 1672.8,420.0 1673.6,415.8 1673.6,415.8 1673.6,415.7 1673.6,415.7 1673.6,415.7 1673.6,415.6 1673.6,415.6 1673.6,415.6 1673.6,415.6 1673.6,415.5 1673.5,415.5 1673.5,415.5 1673.5,415.5 1673.5,415.5 1673.4,415.5 1673.4,415.4 1673.4,415.4 1673.4,415.4 1676.0,402.2 1676.0,402.0 1676.1,401.8 1679.6,395.2 1679.8,395.0 1679.9,395.2 1681.0,399.9 1681.0,400.1 1685.0,419.8 1685.0,420.2 1685.4,424.9 1685.6,426.1 1686.1,427.3 1686.8,428.4 1687.7,429.3 1688.8,430.1 1690.0,430.6 1691.3,430.8 1692.6,430.8 1693.8,430.5 1695.0,430.0 1696.1,429.3 1697.0,428.4 1697.7,427.3 1698.1,426.1 1700.8,416.3 1700.9,416.1 1700.9,416.3 1702.1,426.7 1702.3,428.0 1702.9,429.3 1703.7,430.4 1704.7,431.3 1705.9,431.9 1707.2,432.4 1708.5,432.5 1710.4,432.5 1711.7,432.4 1712.9,432.0 1714.1,431.4 1715.0,430.6 1715.8,429.6 1716.4,428.5 1716.6,428.1 1716.8,428.3 1717.1,428.8 1718.0,429.8 1719.0,430.5 1720.2,431.1 1721.5,431.4 1722.8,431.4 1724.0,431.2 1725.2,430.7 1726.3,430.0 1727.3,429.1 1728.0,428.1 1728.2,427.8 1729.8,425.3 1730.0,425.0 1730.3,425.1 1735.0,427.4 1735.3,427.5 1735.3,427.8 1735.3,452.2 1735.5,453.8 1736.0,455.2 1741.7,466.2 1742.4,467.2 1743.2,468.1 1744.1,468.8 1745.2,469.3 1746.3,469.6 1747.5,469.7 1747.9,469.7 1749.2,469.6 1750.4,469.2 1751.5,468.6 1752.5,467.8 1753.3,466.8 1753.9,465.7 1754.3,464.5 1754.4,463.2 1754.4,432.4 1754.4,432.1 1754.7,432.1 1764.7,432.1 1765.0,432.1 1765.0,432.4 1765.0,438.1 1765.1,439.4 1765.5,440.6 1766.1,441.7 1766.9,442.7 1767.9,443.5 1769.0,444.1 1770.2,444.5 1771.5,444.6 1772.9,444.6 1774.2,444.5 1775.4,444.1 1776.5,443.5 1777.5,442.7 1778.3,441.7 1778.9,440.6 1779.3,439.4 1779.4,438.1 1779.4,388.9 1779.4,388.6 1779.7,388.6 1790.3,388.6 1790.6,388.6 1790.6,388.9 1790.6,401.2 1790.7,402.5 1791.1,403.7 1791.7,404.8 1792.5,405.8 1793.5,406.6 1794.6,407.2 1795.8,407.6 1797.1,407.7 1803.5,407.7 1803.8,407.7 1803.8,408.0 1804.0,419.6 1804.1,420.4 1806.6,438.0 1806.6,438.0 1808.0,449.9 1808.0,450.1 1809.9,474.4 1810.1,475.6 1810.7,477.8 1811.1,478.9 1811.7,479.9 1812.5,480.8 1813.5,481.5 1814.6,482.1 1815.7,482.4 1816.9,482.5 1817.4,482.5 1818.7,482.4 1820.0,481.9 1821.2,481.3 1822.2,480.3 1823.0,479.2 1823.6,478.0 1823.8,476.6 1824.4,471.2 1824.4,470.8 1826.3,431.8 1826.3,431.8 1828.3,405.5 1828.3,405.3 1830.3,389.9 1830.3,389.6 1830.6,389.5 1831.7,389.1 1832.8,388.5 1833.8,387.8 1834.6,386.9 1835.2,385.8 1835.7,384.6 1835.9,383.4 1837.2,363.1 1837.2,362.9 1837.7,344.8 1837.7,344.8 1837.7,344.8 1837.8,344.8 1837.8,344.8 1837.8,344.8 1837.8,344.8 1837.9,344.8 1837.9,344.8 1837.9,344.8 1837.9,344.7 1837.9,344.7 1838.0,344.7 1838.0,344.7 1838.0,344.6 1838.0,344.6 1838.0,344.6 1838.0,344.5 1838.5,326.5 1838.5,326.5 1838.5,326.4 1838.5,326.4 1838.5,326.4 1838.5,326.4 1840.5,326.4 1840.8,326.4 1840.8,326.7 1840.8,361.8 1840.9,363.0 1841.2,364.1 1844.6,373.2 1845.2,374.4 1848.1,378.9 1848.8,379.8 1849.6,380.6 1850.5,381.2 1853.7,382.8 1854.0,383.0 1854.0,383.3 1856.7,418.6 1859.3,458.0 1859.3,458.2 1860.0,484.2 1860.0,484.8 1861.0,493.2 1861.3,494.5 1861.8,495.6 1862.5,496.7 1863.4,497.6 1864.5,498.3 1865.7,498.7 1867.0,498.9 1868.2,498.9 1869.5,498.6 1870.7,498.1 1871.7,497.4 1872.6,496.5 1873.3,495.4 1873.7,494.2 1874.0,493.0 1875.1,478.0 1877.7,445.1 1877.7,444.9 1879.7,392.2 1879.7,392.2 1880.1,377.9 1880.1,377.9 1880.1,377.9 1880.2,377.9 1880.2,377.9 1880.2,377.9 1880.2,377.8 1880.3,377.8 1880.3,377.8 1880.3,377.8 1880.3,377.8 1880.3,377.7 1880.4,377.7 1880.4,377.7 1880.4,377.7 1880.4,377.6 1880.4,377.6 1880.7,366.1 1880.7,366.0 1880.7,366.0 1880.7,365.9 1880.7,365.9 1880.7,365.9 1880.7,365.9 1880.7,365.8 1880.7,365.8 1880.7,365.8 1885.7,364.0 1886.0,363.9 1886.3,363.9 1888.5,363.9ZM1408.4,457.0 1408.4,457.0 1408.4,457.0 1408.4,457.1 1408.4,457.1 1408.3,457.1 1408.3,457.2 1408.3,457.2 1408.4,457.2 1408.4,457.2 1408.4,457.3 1408.4,457.3 1408.4,457.3 1408.4,457.4 1409.0,458.1 1409.0,458.1 1409.0,458.1 1409.0,458.1 1409.0,458.2 1414.4,509.0 1414.4,509.0 1414.4,509.0 1414.4,509.0 1414.5,509.1 1414.5,509.1 1414.5,509.1 1414.5,509.1 1414.5,509.2 1414.6,509.2 1414.6,509.2 1414.6,509.2 1414.6,509.2 1414.7,509.2 1414.7,509.2 1414.7,509.2 1414.8,509.2 1414.8,509.2 1415.9,519.9 1415.9,520.1 1416.3,538.5 1416.5,539.7 1416.9,540.9 1417.5,542.0 1418.3,543.0 1419.3,543.7 1420.4,544.3 1421.6,544.7 1422.8,544.8 1424.6,544.8 1425.9,544.7 1427.2,544.2 1428.4,543.6 1429.4,542.7 1430.2,541.6 1430.7,540.3 1431.0,539.0 1432.0,530.2 1432.0,529.8 1435.5,514.9 1435.8,514.2 1436.0,513.7 1436.5,512.5 1436.7,511.2 1436.6,509.9 1436.6,509.8 1436.7,509.7 1437.8,509.0 1438.7,508.0 1439.4,507.0 1442.1,501.6 1442.3,501.0 1449.9,481.7 1450.1,481.3 1456.7,470.0 1456.9,469.7 1457.2,469.5 1463.4,465.0 1464.3,464.2 1465.1,463.3 1465.6,462.2 1466.0,461.0 1466.1,459.8 1466.1,454.9 1466.0,453.6 1465.6,452.5 1465.1,451.3 1464.3,450.4 1463.3,449.6 1462.2,449.0 1461.1,448.6 1459.8,448.4 1458.6,448.5 1457.4,448.8 1456.3,449.3 1455.3,450.1 1454.4,451.0 1454.2,451.3 1453.9,451.4 1452.2,451.9 1451.2,452.3 1450.2,452.8 1449.4,453.6 1448.7,454.4 1446.4,457.7 1446.2,458.0 1446.1,457.9 1445.3,457.5 1444.1,457.2 1443.0,457.1 1441.4,457.1 1440.0,457.2 1438.8,457.7 1437.6,458.3 1436.6,459.2 1435.8,460.3 1435.2,461.6 1433.1,468.0 1432.9,468.6 1429.1,485.1 1429.0,485.9 1427.1,503.4 1427.1,504.6 1427.2,505.1 1427.2,505.1 1427.2,505.0 1427.1,505.0 1427.1,505.0 1427.1,505.0 1426.7,504.0 1426.7,503.7 1422.8,460.6 1422.8,460.6 1422.7,460.1 1422.7,460.1 1420.3,451.3 1420.3,451.3 1420.3,451.3 1420.3,451.3 1420.3,451.3 1420.3,451.2 1420.2,451.2 1420.2,451.2 1420.2,451.2 1420.2,451.2 1420.1,451.2 1420.1,451.1 1420.1,451.1 1420.1,451.1 1420.0,451.1 1420.0,451.1 1420.0,451.1 1419.9,451.1 1418.5,446.1 1418.4,445.7 1413.2,430.2 1413.2,430.0 1411.1,424.5 1410.6,423.3 1409.8,422.2 1408.8,421.4 1407.6,420.7 1406.3,420.3 1405.0,420.2 1402.9,420.2 1401.6,420.3 1400.4,420.7 1399.3,421.3 1398.3,422.2 1397.5,423.2 1396.9,424.3 1396.5,425.6 1394.8,435.2 1394.8,435.6 1393.2,451.1 1393.2,451.1 1393.2,451.1 1393.2,451.1 1393.2,451.1 1393.1,451.1 1393.1,451.1 1393.1,451.1 1393.1,451.2 1393.0,451.2 1393.0,451.2 1393.0,451.2 1393.0,451.2 1393.0,451.3 1392.9,451.3 1392.9,451.3 1392.9,451.4 1392.9,451.4 1391.9,461.7 1391.9,461.7 1389.3,483.3 1389.3,483.3 1389.2,483.8 1388.6,483.3 1387.5,482.7 1386.3,482.3 1385.1,482.2 1383.7,482.2 1382.6,482.3 1381.4,482.6 1380.3,483.2 1379.4,483.9 1378.6,484.8 1375.3,489.2 1374.8,489.9 1371.9,495.0 1371.7,495.3 1371.4,495.3 1370.1,495.3 1369.8,495.3 1369.5,495.2 1369.0,495.0 1367.8,494.7 1366.6,494.7 1365.4,494.8 1364.2,495.3 1363.2,495.9 1362.3,496.7 1361.5,497.7 1361.0,498.8 1360.6,499.9 1360.5,501.1 1360.5,523.9 1360.6,525.0 1360.9,526.0 1361.5,527.8 1362.0,529.0 1362.9,530.1 1363.9,531.0 1365.0,531.7 1366.3,532.1 1367.6,532.2 1373.0,532.2 1374.2,532.1 1375.4,531.8 1376.5,531.2 1377.4,530.5 1378.2,529.6 1378.9,528.5 1379.3,527.4 1379.5,526.6 1379.6,526.3 1379.9,526.3 1390.5,526.3 1391.7,526.2 1392.8,525.9 1393.9,525.3 1394.9,524.6 1395.7,523.7 1396.3,522.6 1396.8,521.5 1397.0,520.3 1397.4,514.5 1397.4,514.5 1399.8,490.1 1399.8,490.1 1399.8,490.1 1399.9,490.1 1399.9,490.1 1399.9,490.1 1400.0,490.1 1400.0,490.1 1400.0,490.1 1400.0,490.1 1400.1,490.0 1400.1,490.0 1400.1,490.0 1400.1,490.0 1400.1,490.0 1400.1,489.9 1400.1,489.9 1400.1,489.9 1400.1,489.9 1400.3,488.3 1403.0,461.8 1403.0,461.8 1403.0,461.7 1406.0,454.7 1406.0,454.6 1406.0,454.6 1406.0,454.6 1406.0,454.6 1406.0,454.5 1406.0,454.5 1406.0,454.5 1406.0,454.4 1405.9,454.4 1405.9,454.4 1405.9,454.4 1405.9,454.3 1405.9,454.3 1405.9,454.3 1405.8,454.3 1405.8,454.3 1405.8,454.3 1405.9,454.1 1406.0,453.8 1406.2,454.0 1408.5,456.9 1408.4,457.0 1408.4,457.0ZM1364.5,493.4 1365.3,492.5 1366.0,491.5 1366.5,490.3 1366.7,489.1 1366.7,487.9 1366.5,486.9 1366.5,486.5 1366.5,449.9 1366.4,448.6 1366.0,447.4 1363.3,440.9 1363.1,440.5 1360.8,435.8 1360.1,434.8 1359.3,433.8 1358.3,433.1 1357.2,432.6 1356.0,432.3 1354.8,432.2 1353.4,432.2 1352.1,432.4 1350.8,432.8 1349.6,433.5 1348.6,434.5 1347.9,435.6 1347.4,436.9 1347.1,438.2 1344.0,479.0 1344.0,479.0 1343.4,489.0 1343.3,489.0 1343.3,489.0 1343.3,489.0 1343.3,489.1 1343.2,489.1 1343.2,489.1 1343.2,489.1 1343.1,489.1 1343.1,489.1 1343.1,489.2 1343.1,489.2 1343.1,489.2 1343.1,489.2 1343.1,489.3 1343.1,489.3 1343.0,489.3 1341.7,510.5 1337.4,511.3 1337.3,511.3 1336.9,511.5 1336.8,511.5 1336.8,511.5 1336.4,511.7 1336.3,511.7 1336.3,511.7 1335.9,512.1 1335.9,512.1 1335.9,512.1 1335.6,512.5 1335.6,512.5 1335.6,512.5 1335.3,513.0 1335.3,513.0 1335.3,513.0 1335.2,513.5 1335.2,513.5 1335.1,513.5 1335.1,514.0 1335.1,514.1 1335.1,526.3 1335.1,526.4 1335.1,526.4 1335.1,526.4 1335.1,526.5 1335.1,526.5 1335.1,526.5 1335.1,526.6 1335.1,526.6 1335.1,526.6 1335.1,526.6 1333.2,527.5 1332.1,528.1 1331.2,528.8 1330.4,529.8 1329.8,530.8 1329.4,532.0 1329.3,533.2 1328.8,545.9 1328.8,546.2 1328.3,546.3 1327.9,546.4 1326.7,546.9 1325.6,547.7 1324.7,548.7 1324.0,549.9 1323.5,551.1 1323.4,552.5 1323.3,556.5 1323.3,556.8 1323.0,556.8 1322.3,556.8 1322.0,556.8 1321.8,556.5 1318.4,551.7 1318.1,551.3 1317.0,549.1 1316.4,548.1 1315.6,547.2 1314.6,546.5 1313.5,545.9 1312.4,545.6 1309.3,545.1 1309.3,545.1 1309.3,545.0 1309.3,545.0 1309.3,545.0 1309.3,545.0 1309.3,544.9 1309.3,544.9 1309.3,544.8 1308.0,531.8 1308.0,531.8 1308.0,531.7 1308.0,531.7 1305.7,513.9 1305.7,513.9 1305.7,513.9 1305.7,513.8 1305.6,513.8 1305.6,513.8 1305.6,513.8 1305.6,513.7 1305.6,513.7 1305.5,513.7 1305.5,513.7 1305.5,513.7 1305.5,513.7 1305.4,513.7 1305.4,513.7 1305.4,513.7 1305.3,513.7 1305.3,513.7 1305.0,511.2 1305.0,510.8 1304.5,495.2 1304.4,493.9 1304.0,492.7 1303.4,491.7 1302.6,490.7 1301.6,489.9 1300.5,489.3 1299.4,489.0 1298.1,488.8 1296.9,488.9 1295.7,489.3 1294.6,489.8 1293.6,490.6 1292.8,491.5 1292.2,492.6 1292.0,493.0 1291.8,493.2 1287.6,496.6 1286.7,497.5 1286.0,498.5 1285.5,499.7 1285.3,500.9 1285.3,501.1 1285.0,501.3 1282.4,502.7 1281.3,503.4 1280.3,504.5 1279.6,505.7 1279.1,507.0 1279.0,508.4 1279.0,529.4 1279.0,529.7 1278.9,529.9 1278.4,530.6 1278.0,531.4 1277.9,531.5 1276.7,532.0 1275.7,532.8 1274.3,534.1 1273.5,535.1 1272.8,536.2 1272.4,537.4 1272.3,538.6 1271.9,550.4 1271.9,550.8 1271.7,551.1 1268.4,554.9 1267.7,556.0 1267.2,557.1 1266.2,560.3 1265.9,561.8 1264.7,578.6 1264.7,578.8 1264.3,588.0 1264.4,588.6 1264.3,588.8 1264.0,588.8 1261.2,588.8 1260.9,588.8 1260.9,588.5 1260.2,582.0 1260.0,580.8 1259.5,579.8 1258.9,578.8 1257.8,577.3 1257.2,576.6 1254.4,573.8 1254.2,573.6 1254.2,573.3 1254.2,551.8 1254.1,550.5 1253.7,549.3 1253.1,548.2 1252.3,547.2 1251.3,546.4 1250.2,545.8 1249.0,545.4 1248.2,545.4 1248.2,545.3 1247.6,545.3 1247.6,545.0 1247.5,538.3 1247.3,537.0 1246.9,535.8 1246.3,534.7 1245.5,533.8 1244.5,533.0 1243.4,532.4 1242.2,532.0 1241.0,531.9 1235.1,531.9 1233.9,532.0 1232.7,532.4 1231.6,532.9 1230.6,533.7 1229.8,534.6 1229.2,535.7 1228.8,536.8 1228.1,539.4 1228.0,540.6 1227.5,547.0 1227.5,547.3 1227.2,547.3 1223.0,547.3 1222.7,547.3 1222.4,547.1 1220.2,545.6 1219.8,545.4 1216.1,542.1 1215.9,541.9 1214.8,540.8 1213.9,539.9 1212.8,539.3 1211.7,538.9 1210.4,538.7 1209.2,538.8 1208.0,539.1 1206.9,539.6 1205.9,540.3 1205.0,541.2 1204.3,542.2 1203.9,543.4 1203.6,544.6 1203.5,545.6 1203.5,545.9 1203.2,545.9 1198.5,545.9 1198.2,545.9 1198.1,545.6 1198.1,544.9 1197.9,544.3 1197.3,542.1 1197.0,541.0 1196.4,540.0 1195.7,539.2 1193.2,536.6 1193.2,536.6 1190.4,533.8 1189.4,533.0 1188.3,532.4 1187.1,532.0 1185.8,531.9 1185.8,531.9 1184.5,532.0 1183.3,532.4 1182.2,533.0 1181.2,533.8 1180.4,534.7 1179.8,535.9 1179.1,537.4 1179.0,537.7 1178.7,537.7 1178.4,537.7 1177.2,537.9 1175.9,538.4 1174.9,539.0 1173.9,539.9 1173.2,540.9 1172.6,542.1 1172.3,543.3 1170.9,553.3 1170.9,553.3 1170.9,553.3 1170.8,553.3 1170.8,553.3 1170.8,553.3 1170.7,553.3 1170.7,553.3 1170.7,553.3 1170.7,553.4 1170.6,553.4 1170.6,553.4 1170.6,553.4 1170.6,553.5 1170.6,553.5 1170.6,553.5 1170.6,553.5 1170.5,553.6 1170.2,555.9 1170.2,556.0 1167.7,570.8 1167.7,570.9 1167.7,571.0 1167.0,572.4 1166.9,572.6 1166.8,572.6 1166.8,572.7 1166.8,572.7 1166.8,572.7 1166.8,572.8 1166.8,572.8 1166.6,572.5 1166.6,572.5 1166.2,572.1 1165.2,571.3 1164.1,570.8 1162.9,570.4 1161.7,570.3 1159.6,570.4 1158.3,570.5 1157.1,570.9 1156.0,571.5 1155.0,572.4 1154.2,573.4 1153.6,574.5 1153.3,575.8 1152.6,579.7 1150.7,591.2 1150.6,591.8 1150.0,601.1 1150.0,601.4 1149.7,601.4 1146.3,601.4 1144.9,601.5 1143.6,602.0 1142.4,602.7 1141.4,603.6 1140.7,604.6 1140.7,604.6 1140.6,604.4 1138.1,598.4 1137.9,597.6 1135.8,582.0 1135.5,580.7 1134.9,579.5 1134.1,578.5 1133.1,577.6 1131.9,576.9 1130.7,576.5 1129.3,576.4 1128.6,576.4 1127.4,576.5 1126.2,576.9 1125.1,577.4 1124.2,578.1 1123.4,579.1 1122.7,580.1 1122.3,581.2 1122.1,582.4 1121.6,589.7 1121.6,590.0 1121.2,589.7 1120.2,589.3 1119.1,589.0 1118.0,588.9 1115.8,588.9 1114.5,589.0 1113.3,589.4 1112.2,590.0 1111.2,590.8 1111.0,591.0 1110.9,590.8 1110.1,589.9 1109.1,589.2 1108.1,588.6 1106.9,588.3 1105.7,588.2 1103.4,588.2 1102.1,588.3 1100.9,588.7 1099.8,589.3 1098.8,590.1 1098.0,591.1 1097.4,592.3 1097.0,593.5 1092.2,619.4 1092.1,620.7 1092.2,621.9 1092.6,623.2 1093.2,624.3 1094.0,625.2 1095.0,626.0 1096.2,626.6 1097.4,627.0 1104.4,628.3 1105.6,628.4 1106.2,628.4 1106.5,628.4 1106.6,628.7 1109.1,639.3 1109.6,640.5 1110.3,641.7 1111.2,642.7 1112.3,643.4 1113.6,644.0 1114.1,644.1 1114.4,644.2 1114.4,644.5 1115.7,670.1 1116.0,671.8 1116.0,672.0 1116.6,673.3 1117.4,674.4 1118.4,675.3 1119.6,675.9 1120.9,676.4 1122.2,676.5 1122.4,676.5 1123.7,676.4 1124.9,676.0 1126.0,675.4 1127.0,674.6 1127.8,673.6 1128.4,672.5 1128.8,671.3 1128.9,670.0 1128.9,627.4 1128.9,627.1 1129.2,627.1 1134.5,627.1 1134.5,627.1 1134.5,627.1 1134.5,627.2 1134.5,627.2 1134.5,627.2 1134.5,627.4 1134.5,664.5 1134.5,664.5 1134.6,665.0 1134.6,665.1 1134.6,665.1 1134.7,665.6 1134.7,665.6 1136.1,668.5 1136.1,668.6 1136.3,669.0 1136.3,669.0 1136.3,669.0 1136.7,669.4 1136.7,669.4 1136.7,669.4 1137.1,669.7 1137.1,669.8 1137.1,669.8 1137.5,670.0 1137.6,670.0 1137.6,670.0 1138.1,670.1 1138.1,670.1 1138.1,670.2 1138.6,670.2 1138.6,670.2 1144.1,670.2 1144.1,670.2 1144.6,670.2 1144.6,670.2 1144.6,670.1 1145.1,670.0 1145.1,670.0 1145.1,670.0 1145.5,669.8 1145.6,669.8 1145.6,669.8 1146.0,669.5 1146.0,669.4 1146.0,669.4 1146.3,669.1 1146.3,669.1 1146.3,669.0 1146.6,668.6 1146.6,668.6 1146.6,668.6 1146.8,668.1 1146.8,668.1 1147.5,665.4 1147.5,665.4 1147.6,664.7 1147.6,664.7 1147.6,626.1 1147.6,625.9 1147.6,625.9 1147.6,625.9 1147.6,625.9 1147.6,625.8 1147.6,625.8 1147.6,625.8 1147.6,625.8 1149.7,625.8 1150.0,625.8 1150.3,625.9 1155.6,628.3 1155.9,628.4 1156.1,628.7 1157.8,631.7 1158.1,632.3 1158.5,633.7 1159.1,634.9 1159.9,636.0 1160.9,637.0 1162.1,637.6 1163.4,638.1 1164.7,638.2 1166.7,638.2 1167.9,638.1 1169.1,637.7 1170.2,637.2 1171.1,636.4 1171.9,635.5 1172.2,635.1 1172.9,633.9 1173.3,632.7 1175.9,621.3 1176.1,620.7 1178.4,615.8 1178.9,614.5 1179.0,613.1 1179.1,576.6 1179.1,576.6 1179.1,576.6 1179.1,576.6 1179.2,576.6 1179.2,576.6 1179.2,576.5 1179.3,576.5 1179.3,576.5 1179.3,576.5 1179.3,576.5 1179.3,576.4 1179.4,576.4 1179.4,576.4 1179.4,576.4 1179.4,576.3 1179.4,576.3 1179.4,576.3 1179.4,576.3 1179.4,571.1 1179.4,571.0 1180.3,560.6 1180.3,560.5 1180.3,560.5 1180.3,560.4 1180.3,560.4 1185.7,560.4 1186.0,560.4 1186.1,560.7 1187.0,564.9 1187.0,565.1 1189.0,580.0 1189.0,580.0 1190.7,595.1 1191.0,596.4 1191.5,597.6 1192.2,598.7 1193.1,599.6 1194.2,600.2 1195.4,600.7 1196.7,600.9 1198.0,600.9 1199.3,600.6 1200.4,600.0 1201.5,599.3 1202.4,598.3 1203.0,597.2 1203.5,596.0 1203.6,594.7 1204.0,586.3 1204.0,586.0 1204.1,585.8 1205.8,583.1 1206.0,582.8 1206.3,582.8 1214.7,582.8 1215.0,582.8 1215.1,583.1 1215.4,583.6 1216.0,584.7 1216.9,585.7 1217.9,586.5 1219.1,587.0 1220.3,587.3 1221.6,587.4 1222.9,587.2 1224.1,586.7 1225.2,586.1 1226.2,585.2 1226.9,584.1 1227.5,582.9 1227.7,581.6 1228.5,575.4 1228.5,574.6 1228.5,570.6 1228.5,570.3 1228.8,570.3 1234.7,570.3 1235.0,570.3 1235.0,570.6 1235.0,582.3 1235.1,583.6 1235.5,584.8 1236.1,585.9 1236.9,586.9 1237.9,587.7 1239.0,588.3 1240.2,588.7 1241.5,588.8 1245.7,588.8 1246.0,588.8 1246.1,589.1 1247.0,594.8 1247.0,595.2 1247.4,605.0 1247.6,606.3 1248.0,607.5 1248.6,608.6 1249.4,609.5 1250.4,610.3 1251.5,610.8 1252.0,611.0 1252.2,611.2 1257.2,614.8 1257.5,615.0 1257.6,615.3 1259.8,621.9 1260.4,623.1 1261.1,624.1 1262.0,625.0 1263.1,625.7 1264.3,626.1 1265.6,626.3 1266.6,626.4 1267.8,626.3 1269.0,626.0 1270.1,625.5 1271.1,624.8 1272.0,624.0 1272.7,622.9 1273.1,621.8 1273.4,620.6 1275.2,604.9 1275.2,604.7 1275.7,598.2 1275.7,597.8 1276.7,592.4 1276.8,591.1 1276.8,590.8 1276.9,590.6 1277.2,589.3 1278.1,584.1 1278.2,583.3 1279.0,567.2 1279.0,566.8 1279.2,566.5 1280.2,564.4 1280.4,564.2 1285.2,553.8 1285.6,552.5 1285.8,551.1 1285.8,541.0 1285.8,540.7 1286.0,540.3 1286.2,539.9 1287.0,539.5 1288.1,538.8 1289.7,537.6 1290.5,536.7 1291.2,535.8 1291.7,534.8 1292.0,533.7 1292.1,532.5 1292.1,520.8 1292.1,520.5 1292.4,520.4 1294.3,519.7 1294.3,519.7 1294.3,519.8 1294.4,520.0 1294.4,520.0 1295.9,530.6 1295.9,530.7 1296.4,547.4 1296.4,547.4 1296.4,547.5 1296.4,547.5 1296.4,547.6 1296.5,548.5 1296.5,548.6 1296.5,548.6 1296.5,548.6 1296.5,548.6 1296.5,548.7 1296.5,548.7 1296.6,548.7 1296.6,548.7 1296.6,548.8 1296.6,548.8 1296.7,548.8 1296.7,548.8 1296.7,548.8 1296.7,548.8 1296.8,548.8 1296.8,548.8 1297.1,552.9 1297.3,554.2 1297.8,555.3 1301.4,562.6 1303.0,565.8 1303.6,566.8 1304.4,567.7 1305.3,568.4 1306.3,568.9 1307.4,569.3 1311.4,570.1 1311.7,570.2 1311.7,570.5 1314.6,590.1 1314.9,591.4 1315.5,592.6 1316.3,593.7 1317.3,594.5 1318.4,595.2 1319.7,595.6 1321.0,595.7 1322.3,595.7 1323.6,595.6 1324.8,595.2 1325.9,594.6 1326.9,593.8 1327.7,592.8 1328.3,591.7 1328.7,590.5 1328.8,589.2 1328.8,570.3 1328.8,570.0 1329.1,570.0 1335.5,570.0 1336.8,569.9 1338.0,569.5 1339.1,568.9 1340.1,568.1 1340.9,567.1 1341.5,566.0 1341.9,564.8 1342.0,563.5 1342.0,551.8 1342.0,551.5 1342.6,551.4 1342.8,551.3 1344.0,550.8 1345.1,550.0 1346.0,549.0 1346.7,547.9 1347.2,546.6 1347.3,545.3 1347.7,529.9 1347.7,529.9 1347.7,529.9 1347.8,529.8 1347.8,529.8 1347.8,529.8 1347.8,529.8 1347.9,529.8 1347.9,529.8 1347.9,529.8 1347.9,529.7 1347.9,529.7 1348.0,529.7 1348.0,529.6 1348.0,529.6 1348.0,529.6 1348.0,529.6 1348.3,514.8 1348.3,514.5 1350.2,508.4 1350.4,508.5 1350.4,508.6 1350.4,508.6 1350.9,508.7 1350.9,508.7 1351.0,508.7 1351.4,508.7 1351.5,508.7 1351.5,508.7 1352.0,508.7 1352.0,508.7 1352.0,508.7 1352.5,508.5 1352.5,508.5 1352.5,508.5 1353.0,508.3 1353.0,508.3 1353.0,508.2 1353.4,507.9 1353.4,507.9 1353.4,507.9 1353.7,507.5 1353.8,507.5 1353.8,507.5 1354.0,507.0 1354.0,507.0 1354.0,507.0 1354.2,506.5 1354.2,506.5 1354.2,506.5 1354.2,506.0 1354.2,506.0 1354.3,494.8 1354.3,494.8 1354.3,494.7 1354.3,494.7 1354.3,494.7 1359.9,495.0 1361.2,494.9 1362.4,494.6 1363.5,494.1ZM1034.7,515.2 1034.7,515.2 1034.7,515.2 1034.7,515.2 1034.8,515.2 1034.8,515.3 1034.8,515.3 1034.8,515.3 1034.9,515.3 1034.9,515.3 1034.9,515.3 1035.1,524.6 1035.3,525.9 1035.7,527.2 1036.4,528.3 1037.3,529.3 1038.4,530.1 1039.6,530.6 1041.0,530.9 1041.1,530.9 1041.1,531.2 1041.1,550.8 1041.2,552.1 1041.6,553.3 1042.2,554.4 1043.0,555.4 1044.0,556.2 1045.1,556.8 1046.3,557.2 1047.6,557.3 1047.8,557.3 1049.1,557.2 1050.3,556.8 1051.4,556.2 1052.4,555.4 1053.2,554.4 1053.8,553.3 1054.2,552.1 1054.3,550.8 1054.3,545.7 1054.3,545.4 1054.6,545.4 1060.3,545.4 1061.5,545.3 1064.0,544.8 1065.2,544.4 1066.4,543.8 1067.4,542.9 1068.2,541.9 1068.8,540.7 1069.9,537.8 1070.0,537.6 1070.2,537.8 1071.3,539.7 1071.5,540.0 1071.5,540.4 1072.2,551.2 1072.4,552.4 1072.9,553.6 1073.5,554.6 1074.3,555.5 1075.3,556.3 1076.3,556.8 1077.5,557.2 1078.7,557.3 1079.6,557.3 1080.8,557.2 1082.0,556.8 1083.1,556.2 1084.1,555.5 1084.9,554.5 1085.5,553.4 1085.9,552.2 1086.1,551.0 1086.7,531.3 1086.8,530.5 1092.0,513.0 1092.0,513.0 1094.5,505.3 1094.6,505.0 1094.8,504.8 1095.8,503.9 1096.7,502.9 1097.3,501.8 1097.8,500.5 1097.9,499.1 1097.9,494.6 1097.8,493.3 1097.4,492.1 1096.8,491.0 1096.0,490.0 1095.0,489.2 1093.9,488.6 1092.7,488.2 1091.4,488.1 1091.0,488.1 1089.8,488.2 1088.6,488.6 1087.5,489.1 1086.6,489.9 1085.8,490.8 1085.1,491.9 1080.2,502.6 1079.9,503.4 1079.6,504.3 1079.5,504.5 1079.5,504.3 1078.9,488.9 1078.8,487.6 1078.3,486.3 1077.6,485.2 1076.8,484.2 1075.7,483.5 1074.5,482.9 1073.2,482.7 1071.9,482.6 1071.1,482.7 1069.8,483.0 1068.6,483.5 1067.5,484.2 1066.5,485.1 1065.8,486.3 1065.4,487.5 1065.1,488.8 1064.9,492.5 1064.8,492.9 1063.6,499.0 1063.5,499.3 1063.4,499.5 1060.3,504.8 1059.7,505.9 1059.4,507.2 1058.3,514.8 1058.3,515.1 1058.0,515.1 1048.3,515.1 1048.0,515.1 1048.0,514.8 1047.9,514.4 1048.0,514.4 1048.0,514.4 1048.0,514.4 1048.0,514.4 1048.1,514.4 1048.1,514.4 1048.1,514.3 1048.1,514.3 1048.1,514.3 1048.2,514.3 1048.2,514.2 1048.2,514.2 1048.2,514.2 1048.2,514.2 1048.2,514.1 1048.2,514.1 1048.0,512.5 1048.0,512.4 1046.7,491.5 1046.7,491.5 1046.7,491.2 1046.7,491.2 1046.5,490.2 1046.5,490.2 1046.5,490.2 1046.5,490.2 1046.5,490.1 1046.4,490.1 1046.4,490.1 1046.4,490.1 1046.4,490.0 1046.3,490.0 1046.3,490.0 1046.3,490.0 1046.3,490.0 1046.2,490.0 1046.2,490.0 1046.2,490.0 1046.1,490.0 1046.1,490.0 1043.8,476.9 1043.8,476.9 1042.5,469.7 1042.1,468.4 1041.5,467.3 1040.7,466.3 1039.8,465.5 1038.6,464.9 1037.4,464.5 1036.1,464.3 1034.9,464.5 1033.6,464.8 1032.5,465.4 1031.5,466.2 1030.7,467.2 1030.1,468.3 1029.7,469.6 1029.4,471.3 1029.3,471.6 1029.1,471.8 1023.9,478.1 1023.2,479.1 1022.7,480.2 1022.4,481.3 1020.7,493.6 1020.6,494.9 1020.7,495.5 1020.4,496.1 1020.1,497.4 1018.7,506.9 1018.7,507.2 1018.4,507.2 1016.0,507.2 1014.7,507.3 1013.5,507.7 1012.4,508.3 1011.4,509.1 1010.6,510.1 1010.0,511.2 1009.6,512.4 1009.5,513.7 1009.5,520.1 1009.5,520.4 1009.2,520.4 1009.1,520.4 1007.9,520.5 1006.7,520.9 1005.6,521.4 1004.7,522.2 1003.9,523.1 1003.2,524.1 1002.8,525.3 1002.6,526.5 1002.3,531.9 1002.3,532.2 1002.0,532.4 998.3,534.6 997.2,535.5 994.6,538.0 994.4,538.2 994.3,537.9 991.7,531.6 991.1,530.4 990.3,529.4 989.4,528.6 988.2,528.0 987.0,527.6 985.7,527.5 984.5,527.6 983.2,528.0 982.1,528.6 981.1,529.4 980.3,530.4 979.7,531.5 979.3,532.7 979.2,534.0 979.2,537.9 979.2,538.2 978.9,538.4 975.2,540.9 974.3,541.7 973.5,542.7 972.9,543.7 972.5,544.9 972.4,546.1 972.0,556.7 972.0,557.0 971.7,557.0 966.3,557.0 965.1,557.1 963.9,557.5 962.8,558.0 961.8,558.8 961.0,559.7 960.4,560.7 960.0,561.9 959.8,563.1 959.3,570.5 959.3,570.8 959.0,570.8 957.4,570.9 956.2,571.0 955.1,571.4 954.0,571.9 953.1,572.7 952.3,573.6 951.7,574.6 951.1,575.8 951.0,576.1 950.7,576.1 947.2,576.1 946.0,576.2 944.9,576.6 943.8,577.1 942.8,577.8 942.0,578.8 941.4,579.8 940.9,580.9 940.7,582.1 940.2,589.7 940.2,590.0 939.9,589.9 936.5,589.4 936.2,589.3 936.1,589.0 935.2,586.6 934.7,585.5 934.0,584.5 933.1,583.7 932.1,583.1 931.0,582.6 929.8,582.4 926.7,582.0 926.4,582.0 926.3,581.7 923.1,569.4 922.6,568.2 921.9,567.1 921.0,566.2 920.0,565.5 918.8,564.9 917.5,564.7 916.2,564.6 915.0,564.9 913.8,565.4 912.7,566.1 911.8,567.0 911.0,568.0 910.5,569.2 910.5,569.5 910.2,569.5 907.6,569.5 907.3,569.5 907.2,569.2 904.5,561.4 903.9,560.2 903.1,559.1 902.1,558.2 900.9,557.5 899.7,557.1 898.3,557.0 897.9,557.0 896.6,557.1 895.4,557.5 894.3,558.1 893.3,558.9 892.5,559.9 891.9,561.0 891.5,562.2 891.4,563.5 891.4,569.9 891.4,570.2 891.1,570.2 889.8,570.4 888.7,570.9 887.6,571.7 886.7,572.6 886.0,573.6 885.5,574.8 885.3,576.1 882.9,602.1 882.8,602.9 878.4,615.3 878.3,615.5 878.2,615.3 873.1,601.4 873.0,600.8 872.9,600.6 872.6,599.4 872.1,598.2 871.3,597.2 870.3,596.3 869.2,595.6 868.6,595.4 869.1,595.1 870.0,594.1 870.7,593.0 871.2,591.8 871.4,590.5 871.3,589.2 870.0,580.0 870.0,580.0 867.0,557.1 867.0,557.0 866.8,555.8 866.3,554.6 865.6,553.6 864.8,552.7 863.8,552.0 862.7,551.5 861.5,551.2 860.3,551.0 860.0,551.0 860.0,550.7 860.0,544.2 859.9,542.9 859.5,541.7 858.9,540.6 858.1,539.6 857.1,538.8 856.0,538.2 854.8,537.8 853.5,537.7 852.8,537.7 851.5,537.8 850.3,538.2 849.2,538.8 848.2,539.6 847.4,540.6 846.8,541.7 846.4,542.9 845.1,549.7 845.0,550.3 843.5,562.7 843.5,563.0 843.2,562.9 843.0,562.8 842.9,562.5 841.8,560.4 841.2,559.4 840.4,558.5 839.4,557.8 838.3,557.2 837.2,556.9 836.0,556.8 834.8,556.8 833.6,556.9 832.4,557.3 831.3,557.9 830.3,558.7 829.5,559.6 828.9,560.7 828.5,561.9 828.3,563.1 828.0,577.0 828.0,577.3 827.7,577.3 825.3,577.3 825.0,577.3 824.7,577.1 823.3,576.2 823.0,576.0 822.9,575.7 819.1,566.2 818.9,565.8 816.8,561.3 816.6,561.0 816.6,560.6 816.6,526.5 816.5,525.2 816.1,524.0 815.5,522.9 814.7,521.9 813.7,521.1 812.6,520.5 811.4,520.1 810.1,520.0 804.3,520.0 804.0,520.0 804.0,519.7 800.0,490.1 800.0,489.9 798.5,481.2 798.2,480.0 797.6,478.8 796.8,477.8 795.8,476.9 794.7,476.3 793.4,475.9 792.1,475.8 791.5,475.8 790.2,475.9 789.0,476.3 787.9,476.9 786.9,477.7 786.1,478.7 785.5,479.8 785.1,481.0 785.0,482.3 785.0,538.7 785.0,538.9 784.8,538.8 784.2,538.2 784.0,538.0 783.9,537.7 781.0,523.2 781.0,522.8 779.5,506.6 779.3,505.4 778.9,504.3 778.2,503.3 777.4,502.4 776.5,501.7 775.4,501.1 774.2,500.8 773.1,500.7 772.9,500.7 771.5,500.8 770.2,501.2 769.1,501.9 768.1,502.8 767.3,503.9 766.7,505.1 766.4,506.4 762.8,535.5 762.5,536.4 762.1,537.3 762.0,537.6 761.7,537.5 761.1,537.2 760.8,537.0 760.8,536.6 760.1,513.6 759.9,512.2 759.4,510.9 758.7,509.7 757.7,508.7 753.8,505.5 753.5,505.3 753.4,504.9 748.1,481.4 747.7,480.2 747.1,479.1 746.3,478.1 745.3,477.4 744.2,476.8 743.0,476.4 741.8,476.3 741.5,476.3 740.2,476.4 739.0,476.8 737.9,477.4 736.9,478.2 736.1,479.2 735.5,480.3 735.1,481.5 735.0,482.8 735.0,522.7 735.0,523.0 734.8,523.6 734.5,524.8 734.5,525.1 734.4,525.1 733.1,525.4 731.9,525.9 730.9,526.7 730.2,527.4 729.5,528.1 724.7,534.1 724.5,534.3 724.3,534.1 723.8,533.3 723.0,531.3 722.4,530.2 721.7,529.3 720.8,528.5 719.8,527.9 716.9,526.5 716.6,526.4 716.4,526.2 710.9,518.2 710.7,517.9 710.7,517.6 710.7,463.5 710.6,462.2 710.2,461.0 709.6,459.9 708.8,458.9 707.8,458.1 706.7,457.5 705.5,457.1 704.2,457.0 704.2,457.0 702.8,457.1 701.5,457.6 700.4,458.2 699.3,459.2 698.5,460.3 698.0,461.5 697.7,462.9 697.0,470.0 697.0,470.0 695.0,485.7 694.9,486.3 694.1,488.7 694.0,489.0 693.7,489.0 679.5,489.0 678.2,489.1 677.0,489.5 675.9,490.1 674.9,490.9 674.1,491.9 673.5,493.0 673.1,494.2 673.0,495.5 673.0,512.7 673.0,512.7 672.9,512.7 672.9,512.7 672.9,512.7 672.9,512.7 672.8,512.8 672.8,512.8 672.8,512.8 672.8,512.8 672.8,512.8 672.7,512.9 672.7,512.9 672.7,512.9 672.7,512.9 672.7,513.0 672.7,513.0 672.7,549.3 672.7,549.4 672.7,549.8 672.7,549.8 672.7,549.8 672.9,550.3 672.9,550.3 672.9,550.3 673.1,550.7 673.1,550.7 676.0,555.9 676.0,555.9 676.3,556.3 676.4,556.4 676.4,556.4 676.8,556.7 676.8,556.8 676.8,556.8 677.3,557.0 677.3,557.1 677.3,557.1 677.8,557.2 677.9,557.2 677.9,557.2 678.4,557.3 678.5,557.3 682.1,557.3 682.1,557.3 682.6,557.3 682.6,557.3 682.7,557.2 683.1,557.1 683.1,557.1 683.2,557.1 683.6,556.9 683.6,556.9 683.6,556.9 684.0,556.6 684.0,556.6 684.0,556.6 684.3,556.2 684.3,556.2 684.4,556.2 684.6,555.8 684.6,555.8 684.6,555.7 684.8,555.3 684.8,555.3 686.2,550.4 686.2,550.4 686.3,549.7 686.3,549.6 686.3,513.4 686.3,513.3 686.3,513.3 686.3,513.3 686.3,513.2 686.3,513.2 686.3,513.2 686.2,513.1 686.2,513.1 686.2,513.1 686.2,513.1 686.2,513.1 686.3,513.1 690.0,514.4 690.3,514.5 690.5,514.7 694.2,519.1 694.2,519.3 697.4,522.9 697.6,523.1 701.9,528.9 702.1,529.1 705.8,533.7 706.2,534.3 711.2,544.7 711.4,545.1 716.3,559.9 717.0,561.4 719.8,565.7 720.0,566.0 720.1,566.3 722.1,577.1 722.5,578.4 723.1,579.5 723.9,580.5 724.9,581.3 726.0,581.9 727.2,582.3 728.5,582.4 728.6,582.4 729.9,582.3 731.1,581.9 732.2,581.3 733.2,580.5 734.0,579.5 734.6,578.4 735.0,577.2 735.1,575.9 735.1,551.7 735.1,551.4 735.7,551.4 735.7,551.3 736.5,551.3 737.7,550.9 738.8,550.3 739.8,549.5 740.6,548.5 741.2,547.4 741.6,546.2 741.7,544.9 741.7,532.3 741.7,532.2 741.7,532.0 742.0,532.0 746.7,532.0 747.0,532.0 747.0,532.3 747.0,549.9 747.1,551.0 747.3,552.0 750.0,559.9 750.0,560.1 753.4,573.7 753.5,574.4 753.7,581.8 753.7,581.8 753.7,581.9 753.6,581.9 753.6,581.9 753.6,581.9 753.6,581.9 753.5,581.9 753.5,581.9 753.5,582.0 753.5,582.0 753.5,582.0 753.4,582.0 753.4,582.1 753.4,582.1 753.4,582.1 753.4,582.2 753.7,591.4 753.7,591.4 753.8,592.0 753.8,592.1 753.8,592.1 754.0,592.6 754.0,592.7 755.0,594.5 755.0,594.5 755.3,594.9 755.4,594.9 755.4,595.0 755.8,595.3 755.8,595.3 755.8,595.4 756.3,595.6 756.3,595.7 756.3,595.7 756.8,595.8 756.9,595.8 756.9,595.8 757.4,595.9 757.5,595.9 761.9,595.9 761.9,595.9 762.4,595.8 762.5,595.8 762.5,595.8 763.0,595.7 763.0,595.7 763.1,595.7 763.5,595.4 763.5,595.4 763.6,595.4 763.9,595.0 764.0,595.0 765.0,593.9 765.0,593.9 765.3,593.5 765.3,593.5 765.3,593.5 765.5,593.1 765.5,593.0 765.5,593.0 765.6,592.6 765.7,592.5 765.7,592.5 765.7,592.1 765.7,592.0 765.7,589.1 765.7,588.9 766.9,583.4 766.9,583.3 766.9,583.3 766.9,583.3 766.9,583.2 766.9,583.2 766.9,583.2 766.9,583.2 766.8,583.1 766.8,583.1 766.8,583.1 766.8,583.1 766.8,583.0 766.7,583.0 766.7,583.0 766.7,583.0 766.6,583.0 768.0,576.6 768.0,576.4 770.6,567.1 770.6,566.9 772.5,561.0 772.6,560.7 772.9,560.7 778.2,560.7 778.5,560.7 778.6,561.0 778.8,561.4 778.8,561.4 778.7,561.5 778.7,561.5 778.7,561.5 778.7,561.5 778.6,561.5 778.6,561.5 778.6,561.6 778.6,561.6 778.6,561.6 778.6,561.6 778.6,561.7 778.6,561.7 778.6,561.7 778.6,561.8 778.6,561.8 778.6,561.8 780.7,568.1 782.6,573.7 782.6,573.7 782.8,574.1 782.8,574.1 782.8,574.1 783.0,574.5 783.0,574.5 784.0,575.8 784.0,575.8 784.3,576.2 784.4,576.2 784.4,576.2 784.7,576.5 784.8,576.5 784.8,576.5 785.2,576.7 785.2,576.7 785.3,576.7 785.7,576.8 785.7,576.9 785.7,576.9 786.2,576.9 786.2,576.9 788.6,576.9 788.6,576.9 789.1,576.8 789.1,576.8 789.2,576.8 789.7,576.7 789.7,576.7 789.7,576.6 790.2,576.4 790.2,576.4 790.2,576.3 790.6,576.0 790.6,576.0 790.7,575.9 791.0,575.5 791.0,575.5 791.4,574.7 791.4,574.7 791.6,574.3 791.6,574.3 791.6,574.3 791.8,573.8 791.8,573.8 791.8,573.8 791.8,573.4 791.8,573.3 791.8,559.6 791.8,559.6 791.8,559.6 791.8,559.5 791.8,559.5 791.8,559.5 791.7,559.5 791.7,559.4 791.7,559.4 791.7,559.4 791.7,559.4 791.6,559.4 791.6,559.3 791.6,559.3 791.6,559.3 791.5,559.3 791.5,559.3 791.5,559.3 791.5,553.3 791.5,553.0 791.8,553.0 795.2,553.0 795.5,553.0 795.5,553.3 796.7,563.6 797.0,565.0 797.6,566.2 798.4,567.3 799.4,568.2 800.6,568.8 801.8,569.3 803.2,569.4 805.7,569.4 806.0,569.4 806.1,569.7 807.2,571.7 807.3,572.0 807.3,572.3 809.0,589.9 809.0,590.1 809.6,595.0 809.9,596.2 810.4,597.3 811.1,598.3 811.9,599.2 813.0,599.9 814.7,600.8 815.0,601.0 815.2,601.3 817.8,604.8 818.0,605.0 818.0,605.3 819.0,614.9 819.0,615.1 820.9,629.5 821.1,630.5 822.1,633.8 822.5,634.9 823.1,635.9 824.0,636.8 824.9,637.5 826.0,638.1 827.1,638.4 828.3,638.5 829.0,638.5 830.2,638.4 831.4,638.0 832.5,637.5 833.4,636.7 834.2,635.8 834.9,634.8 835.3,633.6 835.7,632.1 835.7,631.9 837.5,623.8 837.8,623.0 838.9,621.0 839.0,620.7 839.3,620.7 847.5,620.7 848.8,620.6 850.0,620.2 851.1,619.6 852.1,618.8 852.9,617.8 853.5,616.7 853.9,615.5 854.0,614.2 854.0,594.7 854.0,594.4 854.3,594.4 859.7,594.4 860.0,594.4 860.1,594.6 860.8,595.2 861.9,595.9 862.8,596.3 862.0,596.9 861.1,597.9 860.5,599.0 860.1,600.3 860.0,601.6 860.0,603.8 860.1,605.0 860.4,606.1 866.5,621.8 866.6,622.0 866.6,622.3 867.0,629.5 867.1,630.5 871.0,649.8 871.0,650.2 872.6,680.9 872.8,682.2 873.2,683.3 873.8,684.4 874.6,685.3 875.6,686.1 876.7,686.7 877.9,687.0 879.2,687.1 880.4,687.0 881.6,686.6 882.7,686.0 883.7,685.2 884.4,684.2 885.0,683.1 885.4,682.0 885.6,680.7 886.2,646.3 886.2,646.0 886.5,645.8 889.5,643.8 890.4,643.0 891.2,642.1 891.7,641.1 892.1,640.0 892.3,638.9 893.0,630.2 893.0,629.8 894.0,625.0 894.0,624.8 896.9,614.0 897.0,613.7 897.3,613.7 905.5,613.7 906.7,613.6 907.9,613.2 909.0,612.7 909.9,612.0 910.7,611.0 911.4,610.0 911.8,608.8 913.7,601.4 913.8,601.2 913.9,601.4 914.3,602.7 914.9,603.9 915.7,605.0 916.7,605.9 917.9,606.5 919.1,607.0 920.5,607.1 921.4,607.1 921.7,607.1 921.7,607.4 922.2,613.0 922.4,614.2 922.9,615.4 923.5,616.4 924.4,617.3 926.8,619.4 927.0,619.6 927.0,619.9 927.7,626.3 928.0,627.6 928.5,628.8 929.3,629.9 930.3,630.9 931.5,631.5 932.8,632.0 934.2,632.1 936.2,632.1 937.4,632.0 938.7,631.6 939.8,631.0 940.8,630.2 941.6,629.2 942.2,628.1 942.5,626.9 943.9,619.9 944.0,619.7 944.1,619.9 945.7,627.0 946.1,628.2 946.7,629.3 947.5,630.3 948.4,631.0 949.6,631.6 950.8,632.0 952.0,632.1 954.1,632.1 955.4,632.0 956.6,631.6 957.7,631.0 958.7,630.2 959.5,629.2 960.1,628.1 960.5,626.9 960.6,625.6 960.6,621.2 960.6,620.9 960.9,620.9 964.9,620.9 965.2,620.9 965.2,621.2 965.2,625.7 965.3,627.0 965.7,628.2 966.3,629.3 967.1,630.3 968.0,631.1 969.1,631.7 970.4,632.1 971.6,632.2 979.2,632.3 980.5,632.2 981.7,631.8 982.9,631.2 983.9,630.4 984.7,629.4 985.3,628.3 985.7,627.1 985.8,625.8 985.8,576.0 985.8,575.7 986.1,575.7 996.1,575.7 996.4,575.7 996.4,576.3 996.5,576.3 996.5,577.1 996.9,578.3 997.5,579.4 998.3,580.4 999.3,581.2 1000.4,581.8 1001.6,582.2 1002.9,582.3 1003.8,582.3 1005.1,582.2 1006.4,581.8 1007.6,581.1 1008.6,580.2 1009.4,579.2 1009.9,578.0 1010.2,576.7 1012.2,562.5 1012.2,562.5 1013.5,552.4 1013.6,551.6 1016.0,545.4 1019.9,535.1 1020.1,534.7 1021.3,532.5 1021.4,532.2 1021.7,532.2 1024.4,532.2 1025.6,532.1 1026.8,531.8 1027.8,531.2 1028.8,530.5 1029.6,529.6 1030.2,528.5 1030.7,527.4 1030.9,526.2 1033.0,498.8 1033.0,497.6 1033.0,497.3 1033.2,496.7 1033.2,496.7 1033.4,496.5 1034.3,495.6 1034.3,496.0 1034.6,515.0 1034.6,515.0 1034.6,515.0 1034.6,515.1 1034.7,515.1 1034.7,515.1Z" fill="#ff0000"/>
</g>
<rect x="1097" y="901" width="789" height="14" fill="#00ff00"/>
<rect x="309" y="1615" width="789" height="14" fill="#00ff00"/>
</g>
<g><rect x="560" y="0" width="1030" height="220" fill="#fff"/>
<rect x="1141" y="1060" width="732" height="280" fill="#fff"/>
<rect x="610" y="50" width="251" height="14" fill="#0000ff"/>
<rect x="610" y="169" width="251" height="13" fill="#ff0000"/>
<rect x="1191" y="1183" width="251" height="14" fill="#00ff00"/>
<text id="w1" x="886.00" y="93.80" textLength="677.92" lengthAdjust="spacing" font-family="Liberation Sans, Arial, sans-serif" font-size="80">Without Cycle-Slip</text>
<text id="w2" x="885.00" y="213.20" textLength="565.31" lengthAdjust="spacing" font-family="Liberation Sans, Arial, sans-serif" font-size="80">With Cycle-Slip</text>
<text id="diff" x="1467.00" y="1226.60" textLength="359.17" lengthAdjust="spacing" font-family="Liberation Sans, Arial, sans-serif" font-size="80">Difference</text>
<text id="epochs" x="954.00" y="1871.40" textLength="272.84" lengthAdjust="spacing" font-family="Liberation Sans, Arial, sans-serif" font-size="80">Epochs</text>
<text id="ylab" transform="translate(90.20,1265.00) rotate(-90)" textLength="791.68" lengthAdjust="spacing" font-family="Liberation Sans, Arial, sans-serif" font-size="80">MP Combinations (m)</text>
<text id="yt0" x="175.00" y="218.60" textLength="111.02" lengthAdjust="spacing" font-family="Liberation Sans, Arial, sans-serif" font-size="80">1.0</text>
<text id="yt1" x="174.00" y="355.50" textLength="112.22" lengthAdjust="spacing" font-family="Liberation Sans, Arial, sans-serif" font-size="80">0.5</text>
<text id="yt2" x="241.50" y="499.50" textLength="40.90" lengthAdjust="spacing" font-family="Liberation Sans, Arial, sans-serif" font-size="80">0</text>
<text id="yt3" x="146.00" y="643.80" textLength="140.46" lengthAdjust="spacing" font-family="Liberation Sans, Arial, sans-serif" font-size="80">-0.5</text>
<text id="yt4" x="146.00" y="781.40" textLength="140.46" lengthAdjust="spacing" font-family="Liberation Sans, Arial, sans-serif" font-size="80">-1.0</text>
<text id="yt5" x="173.50" y="1014.30" textLength="112.62" lengthAdjust="spacing" font-family="Liberation Sans, Arial, sans-serif" font-size="80">0.2</text>
<text id="yt6" x="173.50" y="1151.00" textLength="102.22" lengthAdjust="spacing" font-family="Liberation Sans, Arial, sans-serif" font-size="80">0.1</text>
<text id="yt7" x="241.50" y="1294.40" textLength="40.50" lengthAdjust="spacing" font-family="Liberation Sans, Arial, sans-serif" font-size="80">0</text>
<text id="yt8" x="146.50" y="1438.50" textLength="129.66" lengthAdjust="spacing" font-family="Liberation Sans, Arial, sans-serif" font-size="80">-0.1</text>
<text id="yt9" x="146.50" y="1576.50" textLength="139.46" lengthAdjust="spacing" font-family="Liberation Sans, Arial, sans-serif" font-size="80">-0.2</text>
<text id="xt0" x="290.50" y="1765.00" textLength="43.70" lengthAdjust="spacing" font-family="Liberation Sans, Arial, sans-serif" font-size="80">0</text>
<text id="xt1" x="562.00" y="1764.50" textLength="129.88" lengthAdjust="spacing" font-family="Liberation Sans, Arial, sans-serif" font-size="80">100</text>
<text id="xt2" x="871.00" y="1764.50" textLength="134.08" lengthAdjust="spacing" font-family="Liberation Sans, Arial, sans-serif" font-size="80">200</text>
<text id="xt3" x="1192.50" y="1764.50" textLength="131.08" lengthAdjust="spacing" font-family="Liberation Sans, Arial, sans-serif" font-size="80">300</text>
<text id="xt4" x="1502.50" y="1764.50" textLength="134.68" lengthAdjust="spacing" font-family="Liberation Sans, Arial, sans-serif" font-size="80">400</text>
<text id="xt5" x="1823.00" y="1764.50" textLength="130.88" lengthAdjust="spacing" font-family="Liberation Sans, Arial, sans-serif" font-size="80">500</text></g>
</svg>
</body></html>
